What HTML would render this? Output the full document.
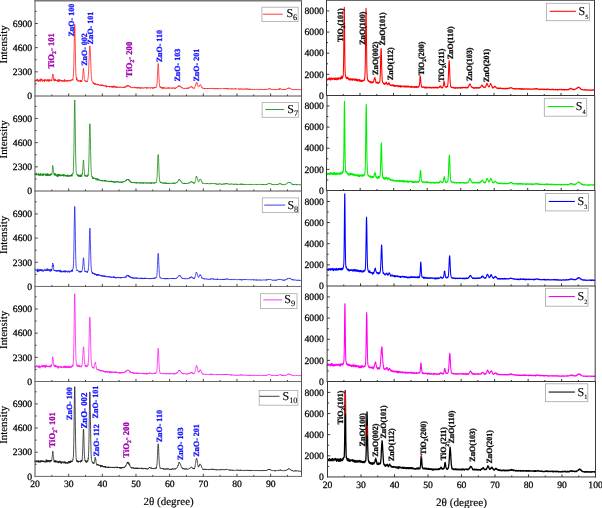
<!DOCTYPE html>
<html><head><meta charset="utf-8"><title>XRD</title>
<style>html,body{margin:0;padding:0;background:#fff}body{width:602px;height:508px;overflow:hidden;font-family:"Liberation Serif",serif}</style>
</head><body>
<svg width="602" height="508" viewBox="0 0 602 508" style="display:block;font-family:'Liberation Serif',serif;text-rendering:geometricPrecision">
<defs><filter id="soft" x="0" y="0" width="602" height="508" filterUnits="userSpaceOnUse"><feGaussianBlur stdDeviation="0.3"/></filter></defs>
<g filter="url(#soft)">
<rect width="602" height="508" fill="#fff"/>
<path d="M35 81.26l.13 .47 .14-1.13 .13-.46 .14 .61 .13-.61 .14 .91 .13 .24 .14-.47 .13-.57 .14 .29 .13 .15 .14-.8 .13 1.09 .13-1.84 .14 1.63 .13-.02 .14-.63 .13 .22 .14-1.24 .13 1.1 .14-.39 .13 1.21 .14 .3 .13-.9 .14 1.29 .13-.87 .14-.17 .13 .01 .13-.85 .14 .85 .13 .59 .14-1.09 .13 .16 .14-.35 .13 .95 .14-1.2 .13 .88 .14 .13 .13-1.75 .14 2.57 .13-1.69 .13 .75 .14 .16 .13-.79 .14-1.44 .13 1.72 .14-.27 .13-.02 .14 .04 .13-.03 .14 .11 .13-1.01 .14 .14 .13-.19 .14 2.45 .13-1.02 .13 .26 .14-.63 .13 1.19 .14-.71 .13-.26 .14 .17 .13 .45 .14-.73 .13 .02 .14 .3 .13-.38 .14-.05 .13-.3 .13-.27 .14 2.35 .13-2.18 .14 .9 .13-.81 .14 .51 .13-.34 .14-.59 .13 .16 .14 .36 .13 .94 .14-.25 .13-.22 .14 .26 .13-.12 .13-.72 .14 .5 .13 .93 .14 .06 .13-1.23 .14 .62 .13 .46 .14-1.43 .13 .62 .14-.99 .13 .42 .14 .6 .13-.08 .13-.55 .14 1.42 .13-.93 .14 .19 .13 1.27 .14-1.02 .13-.16 .14-1.21 .13 1.96 .14-1.47 .13 .13 .14 .43 .13-.49 .14 .36 .13-.25 .13 .03 .14 .04 .13 .33 .14-.29 .13-.37 .14 .9 .13-.74 .14 .82 .13-.63 .14 1.01 .13-.03 .14 .17 .13-.36 .13-2.63 .14 0 .13-.94 .14 .07 .13-1.46 .14-1.14 .13 .07 .14-.86 .13 1.76 .14-.42 .13 .32 .14 1.19 .13 2.79 .13 .68 .14-.2 .13-1.1 .14 2.03 .13-.19 .14-1.17 .13 1.55 .14-.54 .13-.09 .14 .02 .13-1.87 .14 1.04 .13 1.02 .14-.62 .13-.5 .13 .58 .14 .28 .13-.1 .14-.04 .13-.34 .14 .85 .13-.14 .14-.36 .13 .64 .14-.38 .13 .02 .14-.48 .13 1.3 .13-.07 .14-.53 .13-.02 .14-1.38 .13 1.45 .14 .88 .13-1.21 .14 .78 .13-.88 .14 .15 .13 .73 .14-.02 .13-2.04 .14 1.5 .13-.98 .13 .82 .14 .54 .13 .29 .14-1.75 .13 .42 .14-.35 .13 .77 .14-.34 .13 .8 .14-.48 .13 .41 .14-.51 .13 .09 .13 .31 .14 .19 .13 .24 .14-1.24 .13 1.59 .14-1.09 .13 .06 .14-.27 .13 .31 .14-.01 .13-.02 .14-.11 .13-.32 .14 .92 .13-.51 .13 .86 .14 .09 .13 .13 .14-.26 .13-1.09 .14 .41 .13 1.04 .14-.86 .13 .43 .14 .03 .13-2.07 .14 .75 .13 .74 .13-.09 .14-.41 .13 .94 .14 .19 .13-.46 .14 .1 .13-.47 .14-.06 .13-.25 .14 .84 .13-.34 .14-.1 .13-.63 .14 1.24 .13 .18 .13-.94 .14-.19 .13 .3 .14-.28 .13 .3 .14 .8 .13-.7 .14 .13 .13-.44 .14 .88 .13-.13 .14-.82 .13 .14 .13 .11 .14-.3 .13 .46 .14-.6 .13 .86 .14 .12 .13-.46 .14-.83 .13 .84 .14 .46 .13-.01 .14 .1 .13 .07 .13-.12 .14-.26 .13-.52 .14 .42 .13-.81 .14-.15 .13 .47 .14-.04 .13 0 .14-.08 .13-.74 .14 .8 .13-.18 .14-1.02 .13 .52 .13-.43 .14 .47 .13 .61 .14-.81 .13-1.74 .14-1 .13-.63 .14-3 .13-2.94 .14-3.36 .13-7.23 .14-6.53 .13-6.85 .13-8.45 .14-6.56 .13-4.58 .14-2.3 .13 3.61 .14 2.3 .13 8.4 .14 6.12 .13 8.08 .14 7.32 .13 6.24 .14 4.74 .13 2.13 .14 2.85 .13 .44 .13 1.4 .14 1.94 .13-2.38 .14 .94 .13 1.01 .14 .91 .13 0 .14-.89 .13 .07 .14-.04 .13 .51 .14 1.5 .13-.81 .13 .24 .14-.65 .13-.17 .14 .58 .13 .04 .14-.34 .13 .89 .14-.51 .13-.04 .14-.09 .13-.03 .14 .57 .13 .03 .14 .13 .13-.5 .13-.17 .14 .67 .13 .7 .14-1.67 .13 1.14 .14 .35 .13-1.3 .14 .76 .13 .22 .14-.75 .13-.48 .14 .48 .13 .95 .13-.3 .14-1.11 .13-.15 .14-.16 .13-.77 .14-.96 .13-1.45 .14-2.45 .13-.99 .14-1.73 .13-2.21 .14-.44 .13-.6 .14-.12 .13 2.61 .13 1.08 .14 .9 .13 2.92 .14 1.66 .13 1.05 .14 .92 .13 .58 .14 .98 .13-.33 .14 .2 .13-.48 .14 1.31 .13 .06 .13 .22 .14-.87 .13 .13 .14 .14 .13-.41 .14-.14 .13 .16 .14 .57 .13-.47 .14 .27 .13-.16 .14 .74 .13-.73 .13 .18 .14-.28 .13-.78 .14-.69 .13-.7 .14-.72 .13-.63 .14-1.8 .13-2.18 .14-2.19 .13-2.8 .14-2.63 .13-4.74 .14-2.81 .13-2.63 .13-3.54 .14-3.21 .13-.76 .14-2.43 .13 .33 .14 1.71 .13 1.34 .14 1.46 .13 5.09 .14 2.72 .13 3.89 .14 3.16 .13 3.07 .13 3.26 .14 2.65 .13 1.81 .14 1.86 .13 .63 .14 1.98 .13-.08 .14-.07 .13 .59 .14 .22 .13 .43 .14-.14 .13 .5 .14 .46 .13 .61 .13-.61 .14-.39 .13 1.27 .14-.21 .13-.35 .14 .44 .13 .5 .14-.05 .13-1.05 .14 .35 .13 1.08 .14-.74 .13 .3 .13 .45 .14-.65 .13-.69 .14 1.56 .13-.28 .14-.19 .13-.26 .14 .08 .13 .43 .14-.38 .13 .21 .14-.11 .13-.02 .14 .51 .13-.55 .13 .41 .14 .19 .13-.06 .14 .55 .13-.52 .14-.73 .13 1.32 .14-.68 .13 .52 .14-.96 .13 .88 .14-.54 .13 .12 .13-.04 .14 .67 .13-.3 .14 .32 .13 .08 .14 .43 .13-.59 .14-.18 .13 .51 .14-.2 .13-.2 .14 .17 .13-.35 .14-.25 .13 .22 .13 .26 .14 .9 .13-.1 .14-.65 .13-.56 .14 .57 .13 .34 .14 .43 .13-.69 .14-.31 .13 .31 .14-.61 .13 .6 .13 .44 .14-.97 .13 .26 .14 .85 .13 .06 .14-.67 .13-.21 .14 .93 .13-.63 .14 .59 .13-.28 .14 .11 .13 .19 .13 .48 .14-.55 .13-.36 .14-.13 .13 .11 .14 .21 .13 .61 .14 .11 .13-.17 .14-.08 .13 .09 .14-.5 .13-.76 .14 1.4 .13 .15 .13-.69 .14 .42 .13 1.02 .14-1.17 .13 .54 .14-.26 .13-.47 .14 .46 .13-.32 .14 .54 .13-.34 .14-.17 .13 .32 .13 .16 .14-.31 .13 .33 .14 .35 .13-.89 .14 .29 .13-.31 .14 .63 .13-.34 .14 .46 .13 .13 .14-.47 .13 .85 .14-.89 .13 .01 .13-.24 .14 .48 .13-.55 .14 .29 .13 .52 .14 .2 .13-.81 .14-.09 .13 .84 .14-.24 .13 .33 .14-.06 .13-.85 .13 .85 .14-.47 .13-.37 .14 1.02 .13-.96 .14 .07 .13 .34 .14 .65 .13-.49 .14 .63 .13-1.29 .14 0 .13 .33 .14 .11 .13-1 .13 1.7 .14-.73 .13 .26 .14-.77 .13 .86 .14 .39 .13-.04 .14-1.37 .13 .86 .14 .2 .13-.15 .14 .12 .13-.26 .13 .44 .14-.7 .13 .97 .14-.16 .13-.53 .14 .52 .13-.45 .14 .76 .13 .08 .14-1.09 .13 .64 .14-.22 .13 .7 .14-.85 .13 .15 .13 .03 .14 .16 .13-.21 .14 .1 .13-.07 .14 .23 .13 .27 .14-.58 .13-.25 .14 .08 .13-.03 .14 .75 .13-.5 .13 .47 .14 .01 .13-.42 .14 .1 .13 .28 .14-.3 .13 .18 .14-.18 .13-.29 .14 .44 .13-.4 .14 .37 .13 .24 .13-.35 .14 .21 .13-.03 .14 .33 .13-.62 .14 .65 .13-.24 .14 .16 .13-.09 .14-.1 .13 .07 .14-.01 .13-.28 .14-.45 .13 .39 .13 .2 .14 .12 .13-.03 .14 .48 .13-.77 .14 .14 .13-.26 .14 .05 .13 .48 .14-.71 .13 .41 .14 .48 .13-.36 .13-.41 .14-.13 .13-.29 .14 .21 .13 .86 .14-.37 .13-.59 .14 .47 .13-.63 .14 .03 .13-.36 .14 .8 .13-1.12 .14 .14 .13-.47 .13 .57 .14 .2 .13-.22 .14-.2 .13 .43 .14-.61 .13-.13 .14 .48 .13-.78 .14 .07 .13 .59 .14 .39 .13-1.17 .13-.01 .14 .39 .13 .37 .14 .48 .13-.4 .14-.12 .13 .48 .14 .21 .13 .26 .14-.19 .13-.34 .14 .21 .13 .72 .14 .15 .13-.71 .13 .7 .14 .15 .13-.31 .14-.29 .13 .46 .14 .28 .13 .24 .14-.13 .13 .12 .14-.13 .13 .2 .14-.18 .13 .07 .13-.42 .14 .24 .13 .43 .14-.04 .13-.34 .14-.16 .13 .28 .14 .15 .13-.51 .14-.14 .13 .34 .14 .2 .13 .3 .14-.36 .13-.27 .13-.34 .14 .04 .13-.31 .14 .87 .13-.58 .14 .54 .13 .16 .14-.2 .13 .46 .14-.52 .13 .45 .14-.25 .13 .09 .13-.4 .14 .14 .13-.2 .14 .79 .13-.3 .14-.01 .13-.35 .14 .18 .13 .07 .14-.04 .13-.72 .14 .99 .13-.4 .13 .91 .14-.52 .13-.27 .14-.34 .13 .53 .14-.31 .13 .11 .14-.03 .13-.47 .14 .6 .13-.27 .14 .17 .13 .54 .14-.29 .13-.43 .13 .34 .14 .33 .13-.3 .14-.11 .13 .73 .14-.79 .13-.21 .14 .1 .13 .32 .14-.18 .13-.4 .14 .72 .13-.25 .13-.13 .14 .45 .13 .17 .14-.12 .13-.49 .14 .29 .13-.31 .14 .21 .13 .12 .14-.09 .13 .06 .14 .27 .13-.66 .14 .13 .13 .09 .13-.12 .14 .26 .13 .29 .14-.48 .13 .36 .14-.26 .13-.06 .14-.33 .13 .17 .14-.03 .13 .34 .14-.38 .13 .12 .13-.26 .14 .35 .13-.12 .14-.28 .13 .44 .14-.27 .13 .17 .14 .45 .13 .43 .14-.9 .13 .4 .14-.58 .13 .5 .14 .19 .13-.61 .13 .12 .14 .29 .13-.43 .14 .22 .13 .03 .14 .2 .13-.34 .14-.2 .13 .17 .14-.09 .13 .2 .14 .48 .13-.11 .13-.5 .14 .01 .13 .22 .14-.14 .13 .25 .14-.33 .13 .2 .14 .04 .13 .5 .14-.24 .13-.06 .14-.04 .13-.11 .14-.32 .13 .31 .13-.23 .14 .11 .13-.13 .14 .24 .13-.59 .14 .44 .13-.04 .14 .37 .13-.49 .14 .1 .13 .36 .14-.22 .13-.01 .13 .63 .14-.46 .13-.46 .14 .75 .13-.23 .14-.15 .13-.42 .14 .65 .13-.57 .14-.24 .13 .65 .14-.07 .13-.7 .13 .5 .14 .22 .13-.33 .14-.06 .13 .14 .14-.21 .13-.27 .14-.36 .13 .58 .14-.23 .13-.03 .14 .33 .13-.38 .14 .03 .13-.49 .13-1.12 .14 .13 .13-1.8 .14-2.08 .13-1.56 .14-3.36 .13-2.65 .14-2.96 .13-2.55 .14-2.51 .13-1.29 .14-1.47 .13 .79 .13 2.13 .14 2.48 .13 2.85 .14 2.96 .13 3.18 .14 2.01 .13 2.54 .14 1.49 .13 1.38 .14 .75 .13 .85 .14-.38 .13 .94 .14-.2 .13-.02 .13-.69 .14 .72 .13 .46 .14 .06 .13-.3 .14 .34 .13-.6 .14 .81 .13-.78 .14 .63 .13 .25 .14-.35 .13 .86 .13-.92 .14 .64 .13-.7 .14 .04 .13 .35 .14 .01 .13-.7 .14 .65 .13-.41 .14 .04 .13 .76 .14-.25 .13-.66 .14 .75 .13-.44 .13 .25 .14 0 .13 .2 .14-.28 .13-.13 .14 .55 .13-.35 .14-.43 .13 .38 .14 .31 .13-.24 .14 .06 .13 .07 .13 .16 .14-.04 .13 .04 .14-.01 .13-.45 .14 .15 .13-.13 .14 .09 .13-.17 .14 .48 .13-.58 .14 .31 .13-.06 .14 .22 .13 .21 .13-.62 .14 .62 .13-.63 .14-.18 .13 .34 .14 .31 .13-.44 .14-.23 .13-.07 .14 .46 .13 .08 .14 .32 .13-.71 .13 .18 .14 .17 .13-.18 .14 .43 .13 .05 .14-.03 .13-.24 .14-.09 .13-.09 .14 .07 .13 .22 .14-.3 .13 .19 .13-.15 .14 .34 .13 .19 .14-.7 .13 .62 .14-.01 .13-.29 .14 .17 .13-.33 .14 .35 .13-.53 .14 .26 .13 .14 .14-.03 .13 .01 .13-.33 .14 .38 .13-.11 .14-.17 .13 .07 .14 .36 .13-.12 .14-.27 .13 .19 .14 .33 .13-.47 .14 .47 .13-.05 .13-.71 .14 .59 .13 .49 .14-.64 .13-.23 .14 .25 .13-.14 .14-.24 .13-.14 .14 .43 .13-.38 .14 .15 .13-.47 .14-.4 .13 .25 .13-.21 .14-.25 .13 .2 .14-.42 .13 .32 .14-.05 .13-.19 .14-.51 .13-.27 .14 .63 .13 .09 .14-.68 .13 .26 .13-.54 .14 .54 .13-.08 .14 .29 .13-.52 .14 .33 .13 .39 .14-.29 .13-.02 .14-.05 .13 .61 .14-.52 .13 .43 .14 .18 .13 .39 .13-.34 .14 .15 .13 .38 .14-.18 .13 .42 .14-.4 .13 .53 .14-.31 .13 .69 .14-.33 .13-.11 .14 .11 .13 .2 .13 .05 .14-.01 .13 .07 .14 .33 .13-.43 .14-.01 .13 .28 .14-.11 .13 .11 .14-.07 .13-.19 .14 .23 .13 .2 .14 .12 .13-.22 .13-.29 .14-.07 .13 .5 .14-.71 .13 .26 .14 .23 .13-.13 .14-.24 .13 .17 .14 .61 .13-.35 .14 .12 .13-.25 .13 .07 .14-.36 .13 .08 .14 .19 .13-.28 .14 .49 .13-.74 .14 .09 .13 .5 .14 .06 .13-.19 .14 .1 .13-.59 .13 .48 .14-.2 .13 .52 .14-.45 .13-.08 .14-.08 .13 .22 .14-.47 .13 .07 .14 .23 .13-.29 .14-.26 .13 .19 .14-.48 .13 .11 .13 .04 .14 .07 .13-.56 .14-.57 .13 .15 .14-.08 .13 .23 .14 .02 .13 .52 .14-.11 .13-.06 .14 .47 .13-.13 .13-.45 .14 .77 .13-.15 .14 0 .13-.07 .14 .96 .13-.54 .14 .26 .13 .06 .14-.13 .13 .12 .14 .12 .13 .32 .14-.31 .13 .26 .13 .23 .14-.66 .13-.19 .14-.36 .13-.08 .14 .2 .13-.32 .14-.38 .13-.59 .14-.76 .13 .17 .14-.53 .13-1.14 .13 .21 .14-.38 .13-.81 .14-.2 .13-.48 .14 .17 .13-.09 .14-.18 .13 .58 .14 .31 .13 .95 .14-.38 .13 .73 .14 .88 .13 .24 .13 .04 .14 .89 .13 .2 .14-.05 .13 .29 .14-.05 .13-.12 .14-.18 .13-.22 .14 .19 .13-.34 .14-.48 .13 .04 .13-.59 .14-.25 .13 .01 .14-.13 .13-.11 .14-.13 .13 .04 .14 .63 .13-.22 .14 .23 .13 .66 .14-.04 .13 .29 .14 .31 .13-.2 .13 .4 .14 .83 .13 .45 .14-.34 .13 .19 .14 .24 .13-.28 .14 .63 .13-.21 .14-.16 .13 .38 .14-.1 .13 .05 .13-.26 .14 .27 .13-.23 .14 .15 .13 .03 .14 .33 .13 .11 .14-.6 .13 .74 .14-.74 .13 .53 .14-.07 .13 .2 .13-.47 .14 .56 .13-.69 .14 .13 .13 .35 .14-.21 .13 .13 .14-.19 .13 .26 .14 .2 .13-.16 .14 .07 .13-.23 .14 .18 .13-.28 .13 .24 .14 .04 .13 .11 .14-.8 .13 .55 .14 .37 .13-.46 .14-.29 .13 .23 .14-.22 .13 .28 .14-.02 .13 .05 .13-.23 .14 .41 .13 .01 .14-.4 .13 .2 .14 .3 .13-.42 .14 .19 .13 .13 .14-.11 .13 .31 .14-.48 .13 .1 .14 .1 .13 .1 .13-.38 .14-.32 .13 .61 .14 .07 .13-.34 .14-.12 .13 .03 .14-.12 .13 .12 .14-.28 .13 .59 .14-.19 .13 .05 .13 .22 .14-.13 .13 .06 .14 .18 .13-.75 .14 .53 .13-.43 .14 .27 .13 .18 .14 .1 .13-.24 .14 .3 .13-.22 .14 .38 .13-.41 .13 .42 .14-.38 .13-.08 .14 .61 .13-.35 .14 .16 .13-.15 .14 .42 .13-.38 .14-.1 .13-.12 .14 .1 .13-.36 .13 .34 .14-.06 .13 .15 .14 .01 .13-.26 .14 .53 .13-.65 .14 .52 .13-.06 .14-.63 .13 .73 .14-.18 .13 .44 .14-.4 .13-.05 .13 .23 .14-.02 .13-.26 .14-.08 .13 .29 .14-.13 .13 .03 .14 .05 .13 .12 .14-.13 .13 .02 .14 .02 .13-.19 .13 .36 .14-.51 .13-.01 .14 .32 .13 .01 .14-.2 .13 .13 .14 .06 .13-.04 .14-.18 .13 .19 .14-.39 .13 .14 .13 .13 .14-.06 .13 .19 .14-.15 .13 .12 .14-.03 .13-.14 .14-.12 .13 .18 .14-.17 .13 .08 .14-.06 .13 .23 .14-.35 .13 .2 .13-.27 .14 .52 .13-.53 .14 .38 .13 .02 .14 0 .13 .01 .14 .08 .13-.05 .14 0 .13-.28 .14 .52 .13-.58 .13 .46 .14-.1 .13-.43 .14 .02 .13 .63 .14-.5 .13 .3 .14 0 .13 .34 .14-.37 .13-.32 .14 .13 .13-.14 .14 .56 .13 .12 .13-.44 .14-.38 .13 .88 .14-.44 .13-.2 .14 .44 .13-.3 .14 .2 .13-.09 .14 .09 .13 .19 .14 .15 .13-.02 .13-.27 .14 .12 .13-.3 .14-.1 .13 .12 .14 .37 .13 .01 .14-.42 .13 .04 .14 .12 .13 .15 .14 .16 .13 .08 .14-.73 .13 .52 .13-.03 .14-.14 .13-.33 .14 .44 .13-.26 .14 .18 .13-.34 .14 .49 .13 .16 .14-.33 .13-.02 .14-.06 .13-.11 .13 .11 .14 .03 .13 .33 .14-.03 .13-.03 .14-.31 .13 .11 .14-.13 .13-.1 .14 .02 .13 .37 .14-.14 .13-.41 .14 .59 .13-.12 .13-.4 .14 .45 .13-.48 .14 .18 .13 .18 .14 .33 .13-.33 .14 .03 .13-.05 .14 0 .13 .03 .14-.11 .13-.05 .13-.13 .14 .18 .13 .03 .14 .21 .13-.04 .14-.16 .13-.14 .14-.09 .13 .27 .14-.16 .13 .02 .14 .58 .13-.08 .13 .04 .14-.52 .13 .47 .14-.08 .13-.26 .14-.04 .13 .28 .14 .32 .13-.75 .14 .18 .13 .17 .14-.12 .13-.13 .14-.09 .13 .15 .13-.29 .14 .2 .13 .33 .14-.42 .13 .65 .14-.09 .13-.5 .14 .17 .13 .32 .14-.19 .13-.02 .14 .15 .13 .08 .13-.07 .14-.42 .13 .32 .14-.22 .13 .27 .14-.24 .13 .02 .14 .17 .13 .07 .14-.08 .13-.18 .14 .41 .13-.26 .14 .29 .13-.3 .13-.27 .14 .18 .13 .08 .14 .22 .13-.65 .14 .38 .13-.02 .14 .23 .13-.21 .14 .19 .13 .01 .14-.32 .13-.25 .13 .18 .14 .26 .13-.32 .14 .38 .13-.22 .14-.08 .13 .44 .14-.58 .13 .25 .14 .38 .13-.35 .14 .36 .13-.39 .14 .14 .13 .08 .13 .21 .14-.5 .13 .68 .14-.33 .13-.05 .14-.06 .13 0 .14 0 .13-.2 .14 .41 .13-.5 .14 .57 .13-.22 .13 .26 .14-.46 .13 .61 .14-.34 .13-.05 .14 0 .13 .03 .14 .01 .13-.03 .14 .09 .13-.13 .14 .29 .13 .07 .14 .11 .13-.6 .13 .21 .14 .23 .13-.38 .14 .16 .13 .13 .14-.29 .13 .53 .14-.18 .13 .15 .14-.16 .13 .03 .14-.2 .13 .19 .13-.35 .14 .52 .13-.51 .14 .31 .13 .02 .14 .01 .13-.22 .14 .11 .13 .03 .14 .03 .13-.16 .14 .08 .13-.04 .13 .16 .14-.26 .13 .3 .14-.3 .13-.01 .14 .11 .13-.08 .14 .13 .13-.1 .14 .09 .13-.25 .14 0 .13 .11 .14 .16 .13-.24 .13 0 .14 .2 .13 .15 .14-.43 .13 .18 .14 .04 .13 .18 .14-.39 .13 .49 .14-.17 .13-.07 .14-.23 .13 .5 .13-.51 .14 .34 .13-.3 .14 .26 .13-.22 .14 .26 .13-.02 .14 .25 .13-.49 .14-.04 .13-.1 .14 .03 .13 .18 .14-.21 .13 .22 .13-.04 .14 .19 .13 .03 .14 .2 .13-.54 .14 .37 .13 .21 .14-.27 .13 .59 .14-.31 .13-.06 .14-.17 .13-.05 .13 .35 .14-.36 .13 .24 .14-.3 .13 .25 .14-.11 .13 .12 .14 .05 .13-.3 .14 .28 .13 0 .14-.5 .13 .08 .14 .31 .13-.14 .13-.37 .14 .08 .13 .32 .14-.13 .13-.11 .14 .13 .13 .4 .14-.4 .13 .13 .14-.34 .13-.13 .14 .42 .13-.2 .13-.04 .14-.13 .13 .24 .14 .2 .13-.33 .14 .25 .13-.1 .14-.11 .13-.04 .14-.11 .13 0 .14 .14 .13 .16 .14-.49 .13-.13 .13 .07 .14 .37 .13-.18 .14-.12 .13 .27 .14-.35 .13 .39 .14-.58 .13 .54 .14-.11 .13 .11 .14-.12 .13 .09 .13 .14 .14-.07 .13 .35 .14-.2 .13-.25 .14 .36 .13-.16 .14-.04 .13 .23 .14-.01 .13-.19 .14 .04 .13 .08 .13 .27 .14-.19 .13 .2 .14 .16 .13-.6 .14 .25 .13 .18 .14-.03 .13-.09 .14-.14 .13 .08 .14 .25 .13-.26 .14 .05 .13-.19 .13 .34 .14-.17 .13 .12 .14 .34 .13-.28 .14-.36 .13 .28 .14-.3 .13 .62 .14-.07 .13-.41 .14-.01 .13 .29 .13 .08 .14 .01 .13-.32 .14 .02 .13-.31 .14 .36 .13-.34 .14 .17 .13-.02 .14-.04 .13 .15 .14 .09 .13-.42 .14 .54 .13-.01 .13-.37 .14-.19 .13 .27 .14-.38 .13 0 .14 .11 .13 .28 .14-.28 .13-.29 .14 .63 .13-.87 .14 .69 .13-.64 .13 .29 .14-.22 .13 .05 .14 .06 .13 .36 .14-.23 .13 .31 .14-.16 .13 .04 .14 .57 .13-.38 .14 .09 .13-.07 .14 .15 .13-.19 .13 .31 .14-.19 .13 .06 .14-.09 .13-.02 .14 .15 .13-.06 .14-.13 .13 .62 .14-.39 .13-.21 .14 .56 .13-.15 .13-.37 .14 .1 .13-.25 .14 .37 .13 .49 .14-.75 .13 .55 .14-.73 .13 .29 .14-.1 .13 .46 .14-.24 .13 .02 .14-.32 .13 .1 .13 .4 .14-.17 .13-.24 .14-.24 .13-.1 .14-.13 .13 .25 .14-.06 .13-.23 .14-.18 .13 .33 .14-.1 .13-.19 .13-.43 .14 .17 .13-.15 .14 .34 .13-.58 .14 .27 .13-.09 .14-.28 .13 .33 .14-.33 .13-.01 .14 .32 .13-.24 .13 .13 .14 .19 .13-.4 .14 .33 .13-.2 .14-.06 .13 .6 .14-.22 .13-.03 .14 .23 .13 .19 .14-.12 .13-.1 .14 .17 .13 .42 .13 .13 .14-.14 .13-.1 .14 .34 .13-.03 .14 .08 .13 .2 .14-.28 .13 .4 .14-.25 .13 .22 .14-.36 .13 .33 .13-.24 .14 .29 .13 .11 .14 .19 .13-.44 .14 .21 .13 .04 .14-.35 .13 .08 .14-.03 .13 .13 .14 .02 .13 .05 .14-.19 .13 .12 .13 .05 .14 .21 .13-.25 .14-.3 .13 .68 .14-.18 .13-.12 .14-.25 .13 .35 .14 .08 .13-.19 .14-.2 .13 .35 .13 0 .14-.29 .13 .26 .14-.17 .13 .28 .14 .14 .13-.55 .14 .01 .13-.03 .14 .26 .13-.09 .14 .08 .13-.12 .14-.18 .13 .36 .13-.1 .14-.03 .13-.24 .14 .27 .13-.06 .14-.17 .13 .39 .14-.3 .13 .37 .14-.19 .13 .06 .14-.14 .13 .17 .13-.03 .14-.08 .13 .15 .14 .03 .13-.06 .14 .17 .13-.12" fill="none" stroke="#ff1a1a" stroke-width="0.78" stroke-linejoin="round"/>
<path d="M35 174.85l.13-1.08 .14 .37 .13 .67 .14-1.22 .13 .53 .14-.09 .13 .73 .14 .17 .13-2.16 .14 1.37 .13 .65 .14 .44 .13-.64 .13-.07 .14 .67 .13-.76 .14 .41 .13-.66 .14 .47 .13-.27 .14 .08 .13 .21 .14-.1 .13-1.02 .14 .51 .13-.46 .14 1.68 .13 .11 .13-.95 .14 .16 .13 .59 .14 .15 .13-1.15 .14 .19 .13 1.19 .14-1.86 .13 .19 .14 .43 .13 .68 .14 .74 .13-2.17 .13-.08 .14 1.41 .13-.94 .14 .14 .13-.18 .14 .38 .13 .02 .14 .23 .13 .15 .14 .57 .13 .49 .14-2.15 .13 .31 .14-.09 .13 1.32 .13 .18 .14-.75 .13-.32 .14 1.33 .13 .26 .14-1.17 .13 .3 .14-.97 .13 1.35 .14-1.94 .13 .41 .14 .5 .13 .28 .13-.13 .14 .17 .13-.24 .14 .25 .13 .07 .14 .12 .13 .23 .14-.9 .13 .56 .14-.01 .13 1.05 .14-.47 .13-1.81 .14 1.2 .13 .54 .13-1.04 .14 1.91 .13-.73 .14-1.01 .13-.43 .14 .92 .13-.53 .14 1.37 .13-.19 .14-1.96 .13 2.2 .14-2.09 .13 .98 .13-.18 .14 .9 .13-.05 .14 .12 .13-.96 .14 .46 .13 .64 .14-.65 .13-.4 .14 .88 .13-.64 .14-.37 .13 1.68 .14-1.39 .13-.87 .13 .77 .14 .1 .13 .09 .14 .54 .13-.52 .14-1.13 .13 .83 .14-.28 .13 .61 .14 .13 .13-.94 .14 .6 .13-.3 .13-1.04 .14 .15 .13-2.13 .14-1.69 .13-2.28 .14-1.99 .13 .83 .14 .61 .13 0 .14 1.07 .13 1.48 .14 .46 .13 1.75 .13 1.06 .14 1.1 .13-.04 .14 1.18 .13-.42 .14-.58 .13-.35 .14 1.25 .13-.41 .14 1.36 .13-.59 .14-.71 .13-1.1 .14 1.81 .13-.91 .13 1.04 .14-.02 .13-.47 .14-.09 .13 .79 .14-.54 .13-.1 .14 .49 .13 1.24 .14-1.08 .13-.44 .14 .66 .13-1.71 .13 1.4 .14-.39 .13-.5 .14 1.98 .13-1.61 .14 2.04 .13-2.04 .14 .47 .13 .55 .14-.73 .13-.88 .14 .73 .13-.95 .14 .77 .13 .95 .13-.86 .14-.58 .13 1.57 .14-1.56 .13 1.25 .14-.73 .13 .34 .14 .64 .13 .41 .14-.84 .13 .38 .14 .07 .13-.61 .13-.14 .14 1.04 .13-.35 .14-.5 .13-.6 .14 1.24 .13 .1 .14-.96 .13 .27 .14 .35 .13 .27 .14-1.46 .13 1.11 .14-.95 .13 .97 .13-.02 .14-1.29 .13 .55 .14 .97 .13 .65 .14-.86 .13 .5 .14-.42 .13 .39 .14-.83 .13-.12 .14 .32 .13-1.04 .13 .98 .14 .48 .13 .17 .14-.78 .13 .52 .14 .46 .13-.14 .14-.39 .13 .1 .14-.11 .13-.3 .14 .79 .13-.7 .14-.22 .13-.16 .13 1.59 .14-.44 .13-.83 .14-.74 .13 1.38 .14-1.07 .13 .99 .14 .94 .13-1.24 .14-.2 .13-.15 .14 .12 .13 .23 .13-.01 .14-.77 .13 1.32 .14 .56 .13-1.1 .14-.03 .13-.36 .14 .51 .13-.73 .14 1.35 .13-1.11 .14 .58 .13-.78 .13 .89 .14 .15 .13-.62 .14 .4 .13-.88 .14-.29 .13 .8 .14-1.23 .13 1.79 .14-.57 .13-.71 .14 1.52 .13-.78 .14-.54 .13-.66 .13-.64 .14 .44 .13-.28 .14-.92 .13 .39 .14-1.68 .13-2.53 .14-2.51 .13-5.81 .14-3.87 .13-7.64 .14-10.75 .13-9.43 .13-11.5 .14-8.1 .13-7.03 .14-2.55 .13 2.64 .14 5.69 .13 10.05 .14 8.85 .13 9.77 .14 10.39 .13 7.31 .14 7.33 .13 4.07 .14 2.44 .13 3.35 .13 .65 .14 .84 .13-.13 .14 .57 .13 .93 .14-.08 .13 .21 .14-.52 .13 .19 .14 1.24 .13-.26 .14 .41 .13-.96 .13-.52 .14 1.69 .13-.21 .14-.07 .13 .77 .14-1.47 .13 .97 .14-.72 .13-.01 .14 .82 .13-1.18 .14 .54 .13-.26 .14 1.27 .13-.69 .13 .86 .14-2.04 .13 1.25 .14 .39 .13 .39 .14-2 .13 .48 .14 1.31 .13-.76 .14 .31 .13-1 .14 .44 .13 1.08 .13-1.37 .14-.64 .13 .03 .14-1.1 .13 .77 .14-2.69 .13 0 .14-3.48 .13-1.02 .14-2.48 .13-2.07 .14-2.63 .13 .42 .14 .09 .13 2.25 .13 2.63 .14 2.03 .13 2.64 .14 .07 .13 2.6 .14 .38 .13 2.25 .14-.19 .13 1.15 .14-.63 .13 .16 .14 .6 .13-1.42 .13 .79 .14 .03 .13 .39 .14-.09 .13-.52 .14 .05 .13 .6 .14-.34 .13-.05 .14 .64 .13-.4 .14-.41 .13 .41 .13 .65 .14-.73 .13-.7 .14 .19 .13 .34 .14-1.3 .13 .81 .14-2.77 .13-.39 .14-3.12 .13-2.86 .14-4.95 .13-4.34 .14-6.35 .13-7.32 .13-6.62 .14-5.18 .13-4.57 .14-3.06 .13 .07 .14 1.34 .13 5.19 .14 6.56 .13 7.32 .14 7.12 .13 5.63 .14 5.78 .13 3.93 .13 3.35 .14 2.13 .13 1.67 .14 .85 .13 .83 .14 .38 .13 1.18 .14-.53 .13-.06 .14 .79 .13 .15 .14-.29 .13 1.71 .14-1.87 .13 .75 .13 .71 .14-.88 .13 .27 .14 .54 .13-.31 .14-.01 .13-.2 .14 .07 .13 .44 .14 .52 .13-.58 .14-.2 .13 .12 .13-.19 .14 .09 .13 .04 .14 1.02 .13-.22 .14-.37 .13 .74 .14-1.28 .13 1.07 .14 .24 .13-.05 .14 .2 .13-.01 .14 .15 .13 .56 .13-.38 .14-1.45 .13 .99 .14-.96 .13 1.36 .14 .34 .13-.35 .14-1.04 .13 .39 .14 1.1 .13-.88 .14 .19 .13-.18 .13 .22 .14-.07 .13 .52 .14-.12 .13 .67 .14-.38 .13-.14 .14-.47 .13 .46 .14-.17 .13 .08 .14 .67 .13-.01 .14 .43 .13-1 .13 .18 .14 .2 .13 .07 .14 .22 .13-.35 .14 .05 .13 .24 .14-.01 .13-.03 .14 .58 .13-1.19 .14 .3 .13-.29 .13 1.15 .14-.75 .13 .03 .14 .37 .13-.59 .14 .56 .13 .27 .14-.19 .13 .24 .14-.35 .13 .21 .14 .11 .13-.31 .13-.46 .14 0 .13 .27 .14-.39 .13 1.11 .14-.39 .13-.19 .14 .1 .13-.72 .14 1.58 .13-.45 .14-1.1 .13 .8 .14 .15 .13 .07 .13-.51 .14-.1 .13 .25 .14 .37 .13-.03 .14 .21 .13 .02 .14-.27 .13-.1 .14-.25 .13 .05 .14 .32 .13 .51 .13-.28 .14 .29 .13-.4 .14 .65 .13-.74 .14 .43 .13 .29 .14-1.06 .13 .27 .14 .31 .13-.12 .14 .05 .13 .53 .14-.68 .13 .93 .13-.09 .14-.89 .13-.18 .14 .94 .13-.04 .14-.48 .13 .17 .14 .5 .13-1.16 .14 .74 .13-.81 .14 .76 .13-.43 .13 .78 .14-.03 .13 .29 .14-.83 .13 .53 .14-.15 .13-.07 .14 .13 .13-.01 .14-.61 .13 .98 .14-.5 .13-.61 .14 .97 .13 .17 .13-.42 .14 .84 .13-.48 .14-.18 .13 .57 .14-.92 .13 .12 .14 .01 .13 .12 .14-.41 .13 .55 .14 .58 .13-.74 .13-.2 .14 .84 .13-.63 .14-.03 .13-.06 .14 .09 .13-.1 .14-.59 .13 .8 .14-.05 .13-.35 .14-.09 .13 .34 .14-.42 .13 .34 .13 .45 .14-.56 .13 .14 .14-.23 .13 .84 .14-.59 .13 .6 .14-.08 .13-.46 .14 .06 .13-.14 .14 .43 .13-.12 .13 .55 .14-.13 .13-.43 .14-.21 .13 .35 .14-.07 .13 .23 .14 .05 .13-.45 .14 .1 .13-.06 .14 .42 .13-.69 .13 .64 .14-.14 .13 .59 .14-.6 .13-.16 .14 .17 .13-.54 .14 .44 .13 .94 .14-.71 .13-.62 .14 .27 .13-.3 .14 .13 .13 .23 .13-.29 .14 .06 .13 .27 .14 .16 .13-.32 .14-.23 .13 .01 .14-.45 .13 .51 .14-.5 .13-.25 .14 .32 .13 .33 .13 .03 .14-.2 .13-.43 .14 .16 .13-.51 .14 .3 .13-.08 .14-.09 .13-.3 .14-.34 .13 .89 .14-.89 .13 .25 .14-.13 .13-1.12 .13 .38 .14 .52 .13-.32 .14-.62 .13 .18 .14-.2 .13 .16 .14 .01 .13 .14 .14 .15 .13-.31 .14-.29 .13 .37 .13 .42 .14-.63 .13 1.31 .14-.2 .13-.47 .14-.14 .13 .68 .14 .65 .13-.23 .14 .68 .13-.58 .14 .33 .13 .29 .14-.42 .13 .35 .13-.08 .14 .99 .13-.67 .14 .08 .13 .77 .14-.54 .13 .22 .14 .04 .13-.27 .14 .16 .13 .34 .14-.39 .13 .92 .13-.37 .14-.14 .13-.21 .14 .51 .13-.31 .14-.17 .13 .8 .14-.23 .13-.2 .14-.3 .13-.17 .14 .66 .13-.31 .14 .28 .13-.74 .13 .53 .14 .48 .13-.32 .14-.32 .13 .05 .14 .38 .13 .24 .14-.32 .13 .37 .14-.71 .13-.15 .14 .28 .13 .31 .13 .13 .14-.46 .13 .16 .14-.12 .13 .87 .14-.78 .13-.27 .14 .31 .13 .32 .14-.48 .13 .45 .14-.05 .13-.73 .13 .6 .14 .09 .13 .22 .14-.03 .13-.24 .14-.3 .13 .58 .14-.45 .13 .07 .14 .23 .13 .01 .14-.35 .13 .25 .14 .23 .13-.29 .13-.4 .14 .83 .13 .19 .14-.73 .13 .36 .14 .01 .13-.02 .14-.06 .13-.22 .14 .07 .13-.34 .14 .48 .13-.54 .13 .69 .14 .12 .13-.21 .14 .08 .13 .21 .14-.34 .13-.02 .14-.38 .13 .5 .14-.08 .13-.44 .14 .89 .13-.87 .14 .48 .13 .13 .13-.57 .14 .35 .13-.08 .14-.49 .13-.04 .14 .21 .13 .04 .14 .01 .13-.13 .14 .27 .13 .52 .14-.59 .13-.26 .13 .58 .14-.44 .13 .18 .14 .29 .13 .14 .14-.11 .13 .26 .14-.44 .13 .09 .14 .37 .13-.44 .14-.22 .13 .3 .14 .32 .13-.69 .13 .19 .14 .07 .13-.3 .14 .12 .13 .01 .14-.29 .13 .42 .14 .62 .13-.74 .14 .24 .13-.01 .14-.27 .13 .14 .13 .23 .14-.06 .13-.04 .14-.25 .13-.08 .14 .73 .13-.2 .14-.22 .13 .33 .14-.79 .13 .2 .14-.01 .13 .25 .14-.14 .13 .69 .13-1.02 .14 1.15 .13-.83 .14 .13 .13-.02 .14-.22 .13 .23 .14-.33 .13 .53 .14 .1 .13-.11 .14 .04 .13-.06 .13 .18 .14-.67 .13 .18 .14 .1 .13 .22 .14-.52 .13 .48 .14 .25 .13 .03 .14-.53 .13-.13 .14 .6 .13-.49 .13-.26 .14 .21 .13-.2 .14 .6 .13-.54 .14-.1 .13 .1 .14 .41 .13-.76 .14 .12 .13 .28 .14-.61 .13-.02 .14 .08 .13-.33 .13-1.57 .14-1.34 .13-.59 .14-2.07 .13-2.81 .14-3.53 .13-3.71 .14-4.62 .13-2.66 .14-3.08 .13-.89 .14-.27 .13-.08 .13 2.7 .14 1.57 .13 3.3 .14 4.34 .13 4.23 .14 3.12 .13 1.88 .14 1.98 .13 1.56 .14 1.81 .13 .38 .14 .49 .13-.3 .14 .37 .13 .67 .13-.64 .14 .7 .13 .01 .14-.14 .13 .24 .14 .2 .13-.69 .14 .24 .13 .36 .14-.59 .13 .43 .14 .23 .13 .18 .13-.14 .14 .09 .13-.32 .14 .34 .13 .08 .14-.44 .13 .43 .14 .01 .13-.42 .14 .42 .13-.15 .14-.3 .13-.2 .14 .63 .13-.34 .13 .28 .14-.03 .13 .34 .14-.7 .13 .25 .14 .26 .13-.12 .14-.7 .13 .39 .14 .39 .13-.4 .14 .51 .13-.33 .13 .02 .14 .2 .13 .03 .14-.5 .13 .86 .14-.75 .13 .82 .14-.4 .13 .03 .14-.38 .13 .66 .14-.21 .13 .33 .14-.27 .13-.16 .13-.08 .14-.31 .13 .64 .14-.24 .13-.46 .14 .74 .13-.04 .14-.07 .13-.38 .14 .17 .13-.36 .14 .22 .13 .36 .13-.28 .14 .22 .13 .01 .14-.54 .13 .06 .14 .18 .13 .03 .14-.15 .13 .16 .14-.35 .13 .6 .14-.27 .13 .01 .13 .32 .14-.34 .13 .2 .14-.06 .13-.13 .14 .16 .13-.04 .14 .38 .13-.49 .14 .37 .13-.21 .14 .22 .13 .13 .14-.62 .13-.58 .13 .83 .14-.32 .13 .18 .14 .12 .13-.34 .14 .34 .13-.24 .14-.22 .13 .61 .14-.56 .13 .66 .14 0 .13-.34 .13-.24 .14 .01 .13 .21 .14-.38 .13 .3 .14-.02 .13-.28 .14-.27 .13 .13 .14-.22 .13 .02 .14 .58 .13-.49 .14 .05 .13-.25 .13-.43 .14 .01 .13-.46 .14 .34 .13-.31 .14-.41 .13-.15 .14-.34 .13-.54 .14 .36 .13 .18 .14-.46 .13-.54 .13-.42 .14 .7 .13-.42 .14 .21 .13 0 .14 .28 .13 .2 .14-.32 .13 .54 .14 .13 .13 .25 .14-.25 .13 .69 .14-.11 .13 .28 .13 .17 .14-.21 .13 .3 .14 .68 .13-.16 .14 .61 .13-.36 .14 .45 .13 .13 .14-.08 .13 .24 .14 .17 .13-.24 .13 .45 .14-.26 .13 .03 .14-.02 .13-.3 .14 .54 .13-.51 .14 .2 .13 .14 .14-.05 .13-.4 .14 .26 .13 .51 .14-.69 .13 .77 .13-.73 .14 .34 .13-.18 .14 .19 .13 .38 .14-.52 .13 .2 .14-.03 .13-.27 .14-.16 .13 .47 .14 .23 .13-.34 .13 .49 .14-.34 .13-.39 .14 .14 .13-.07 .14-.11 .13-.06 .14 .26 .13-.15 .14 .22 .13 .03 .14-.13 .13 .22 .13-.07 .14-.29 .13-.14 .14 .4 .13-.41 .14-.12 .13 .02 .14 .08 .13 .21 .14-.72 .13 .39 .14-.32 .13 .37 .14-.46 .13 .01 .13-.19 .14-.53 .13 .02 .14-.27 .13 .15 .14 .38 .13-.1 .14-.14 .13 .16 .14-.29 .13 .69 .14-.12 .13-.31 .13-.03 .14 .09 .13 .66 .14-.18 .13 .36 .14-.08 .13-.03 .14 .37 .13-.04 .14-.39 .13 .4 .14 .14 .13-.12 .14-.09 .13 .78 .13-.54 .14-.52 .13 .43 .14-.34 .13 .19 .14-.29 .13-.37 .14-.72 .13-.38 .14-.5 .13-.61 .14-.57 .13-.79 .13-.81 .14-.7 .13 .05 .14-1.11 .13 .41 .14-.39 .13 .59 .14-.04 .13 .97 .14 .01 .13 .63 .14 .02 .13 .88 .14 .2 .13 1.01 .13 .53 .14-.11 .13 .5 .14 .01 .13 .43 .14-.17 .13-.2 .14-.13 .13-.2 .14 .16 .13-.75 .14-.69 .13 .09 .13-.38 .14-.02 .13 .41 .14-.53 .13-.08 .14-.12 .13 .27 .14 .37 .13-.13 .14 .28 .13-.02 .14 .26 .13 .48 .14-.1 .13 .9 .13 .38 .14-.31 .13 .68 .14 .49 .13 .04 .14 .22 .13 .28 .14-.42 .13 .56 .14-.22 .13 .41 .14-.27 .13-.11 .13 .24 .14-.15 .13 .24 .14-.19 .13 .13 .14 .03 .13 .05 .14 0 .13-.23 .14 .07 .13-.09 .14 .17 .13-.17 .13 .29 .14 .14 .13 0 .14 .17 .13 .05 .14-.56 .13 .05 .14 .04 .13 .59 .14-.34 .13-.02 .14-.2 .13 .25 .14-.29 .13 .36 .13-.48 .14-.19 .13 .75 .14-.08 .13-.2 .14 .05 .13-.01 .14-.07 .13 .21 .14 .08 .13-.15 .14-.15 .13 .42 .13-.03 .14 .03 .13-.1 .14-.28 .13 .08 .14 .17 .13-.18 .14-.12 .13 .23 .14-.1 .13-.01 .14 .42 .13-.65 .14 .09 .13-.19 .13 .12 .14-.24 .13 .45 .14-.38 .13 .24 .14-.12 .13-.09 .14 .15 .13-.24 .14 .29 .13-.15 .14 .13 .13-.02 .13-.2 .14 .43 .13 .02 .14-.26 .13-.05 .14 .26 .13-.22 .14-.11 .13-.14 .14 .5 .13-.19 .14 .14 .13 .02 .14 .19 .13 .26 .13-.34 .14 .2 .13 .05 .14-.09 .13-.4 .14 .17 .13 .31 .14-.46 .13 .45 .14 .02 .13-.19 .14 .16 .13-.16 .13 .47 .14-.01 .13-.57 .14 .46 .13-.02 .14-.1 .13-.15 .14 .05 .13-.21 .14 .33 .13 .59 .14-.62 .13 .09 .14 .05 .13 .06 .13 .03 .14-.46 .13-.13 .14 .02 .13 .49 .14-.06 .13-.03 .14-.24 .13-.09 .14 .09 .13-.28 .14 .43 .13-.15 .13 .15 .14 .09 .13-.11 .14 0 .13-.38 .14 .67 .13-.32 .14 .26 .13-.31 .14 .07 .13 .28 .14-.33 .13 .18 .13 .07 .14 .1 .13-.21 .14 .18 .13-.28 .14 .08 .13 .13 .14-.22 .13 .12 .14-.51 .13 .56 .14-.18 .13-.11 .14 .24 .13-.31 .13 .3 .14-.3 .13 .31 .14-.19 .13-.22 .14 .48 .13-.45 .14 .32 .13 .06 .14-.1 .13 .12 .14-.64 .13 .38 .13 .18 .14-.13 .13-.2 .14-.01 .13 .33 .14-.69 .13 .22 .14 .29 .13-.16 .14 .02 .13 .12 .14 .03 .13-.54 .14 .6 .13-.2 .13 .27 .14 .15 .13-.19 .14 .02 .13 .25 .14-.28 .13 .13 .14 .09 .13 .12 .14-.15 .13 .39 .14-.4 .13-.26 .13 .27 .14-.06 .13-.04 .14 0 .13 .11 .14 .04 .13 .09 .14-.08 .13 .02 .14 .1 .13-.6 .14 .23 .13 .13 .14-.25 .13 .38 .13 .01 .14-.44 .13 .3 .14-.09 .13 .09 .14-.11 .13 .06 .14 .17 .13 .07 .14-.46 .13 .2 .14-.05 .13 .11 .13-.12 .14 .08 .13 .5 .14-.33 .13-.12 .14 .22 .13-.19 .14 .29 .13-.31 .14 .09 .13-.01 .14-.3 .13 .58 .14-.4 .13 .23 .13-.02 .14-.11 .13 .09 .14-.38 .13 .27 .14 .06 .13 .02 .14 .14 .13-.55 .14 .15 .13 .43 .14-.15 .13 .16 .13 .15 .14-.6 .13 .69 .14-.53 .13 .12 .14 .44 .13-.48 .14 .15 .13-.07 .14 .06 .13-.1 .14 .01 .13-.1 .13 0 .14-.11 .13 .06 .14 .2 .13-.19 .14 .21 .13-.23 .14-.1 .13 .4 .14-.27 .13 .17 .14-.09 .13-.15 .14 .28 .13 .01 .13-.51 .14 .78 .13-.84 .14-.02 .13 .71 .14-.64 .13 .39 .14 .13 .13-.25 .14 .3 .13-.24 .14-.13 .13 .17 .13-.28 .14 .37 .13 .16 .14-.34 .13 .32 .14-.08 .13-.08 .14-.17 .13 .43 .14-.47 .13 .4 .14-.41 .13 .46 .14-.53 .13 .54 .13-.12 .14-.23 .13-.06 .14 .28 .13-.31 .14 .21 .13-.12 .14 .16 .13-.01 .14 .06 .13 .36 .14-.31 .13 .07 .13-.4 .14 .49 .13 .03 .14-.33 .13 .18 .14-.03 .13 .13 .14-.21 .13 .04 .14 .09 .13-.11 .14 .23 .13 .15 .14 .14 .13-.33 .13 .04 .14-.03 .13-.27 .14 .24 .13-.33 .14 .23 .13-.06 .14-.05 .13 .18 .14 .17 .13 .35 .14-.29 .13-.4 .13-.11 .14 .51 .13-.34 .14 .08 .13-.16 .14-.01 .13 .25 .14-.1 .13-.06 .14 .12 .13 .37 .14-.44 .13 .16 .14-.02 .13-.11 .13-.11 .14 .36 .13-.35 .14 .01 .13-.17 .14 .26 .13-.06 .14 0 .13 .17 .14-.17 .13 .15 .14 .03 .13-.01 .13-.06 .14-.04 .13-.28 .14 .18 .13 .12 .14 .11 .13 0 .14-.3 .13 .12 .14-.04 .13 0 .14-.27 .13 .1 .13 .07 .14 .31 .13 .05 .14-.43 .13 .2 .14-.44 .13 .54 .14-.26 .13-.25 .14 .42 .13-.1 .14 .2 .13-.15 .14 .11 .13-.11 .13 .2 .14-.35 .13 .15 .14 .07 .13 .04 .14-.3 .13 .07 .14 .05 .13-.15 .14 .11 .13 .25 .14 .01 .13-.23 .13 .09 .14 .15 .13-.36 .14 .07 .13-.01 .14 .06 .13 .09 .14-.05 .13-.09 .14 .39 .13-.07 .14 .03 .13 .13 .14-.21 .13-.39 .13 .72 .14-.19 .13-.28 .14 .17 .13-.06 .14 .04 .13-.09 .14 .14 .13 .03 .14 .01 .13 .2 .14-.06 .13-.76 .13 .52 .14-.49 .13 .6 .14-.2 .13-.37 .14 .31 .13-.1 .14 .35 .13-.44 .14 .33 .13-.14 .14 .06 .13 .16 .14-.22 .13-.17 .13 .27 .14 .11 .13 .04 .14-.5 .13-.06 .14 .26 .13 .17 .14-.22 .13 .4 .14-.53 .13-.09 .14 .53 .13-.19 .13-.12 .14-.12 .13 .06 .14-.21 .13 .27 .14-.45 .13 .21 .14 0 .13-.13 .14-.28 .13 .24 .14-.55 .13 .36 .14 .08 .13-.14 .13 .17 .14-.23 .13-.04 .14 .1 .13 .2 .14 .01 .13 .13 .14-.04 .13-.33 .14 .22 .13 .23 .14-.21 .13-.31 .13 .29 .14 .21 .13 .29 .14-.11 .13-.45 .14 .08 .13 .2 .14 .22 .13 .17 .14-.12 .13 .35 .14-.31 .13 .31 .13-.27 .14 .37 .13-.06 .14-.15 .13-.14 .14 .18 .13 .36 .14-.06 .13 .2 .14-.75 .13-.14 .14 .19 .13 .07 .14-.09 .13 0 .13 .2 .14-.12 .13 .12 .14-.05 .13 .48 .14-.28 .13-.1 .14 .42 .13-.12 .14-.22 .13-.06 .14 .14 .13-.11 .13-.16 .14-.09 .13-.17 .14 .48 .13-.51 .14 .33 .13 .25 .14-.52 .13 .06 .14-.14 .13 .33 .14-.07 .13-.07 .14-.25 .13 .35 .13-.44 .14 .12 .13-.1 .14-.14 .13 .22 .14-.37 .13-.2 .14 .17 .13-.1 .14 .2 .13 .24 .14-.53 .13 .39 .13-.11 .14-.29 .13 .21 .14-.17 .13-.1 .14 .28 .13 .1 .14-.26 .13 .75 .14-.31 .13 .21 .14-.33 .13 .42 .14-.11 .13-.18 .13 .35 .14-.01 .13 .14 .14 .11 .13 .09 .14-.3 .13 .43 .14-.05 .13-.2 .14 .03 .13-.12 .14 .28 .13-.49 .13 .43 .14 0 .13-.19 .14 .24 .13-.08 .14-.03 .13 .16 .14-.03 .13-.12 .14-.02 .13-.05 .14 .26 .13-.41 .14 .33 .13-.5 .13-.07 .14-.06 .13-.09 .14-.15 .13 .18 .14-.17 .13-.49 .14 .37 .13-.22 .14-.22 .13-.03 .14-.18 .13-.11 .13 0 .14-.28 .13-.44 .14 .22 .13-.02 .14-.09 .13 .03 .14-.44 .13 .15 .14 .33 .13-.3 .14-.05 .13 .19 .13-.13 .14 .29 .13-.18 .14-.02 .13-.12 .14 .24 .13 .33 .14 .1 .13-.4 .14 .47 .13 .21 .14-.2 .13 .11 .14 .18 .13 .33 .13 .16 .14-.02 .13 .51 .14-.2 .13-.26 .14 .4 .13-.07 .14 .05 .13 .54 .14-.6 .13 .62 .14 0 .13 0 .13-.3 .14 .01 .13 .59 .14-.56 .13 .18 .14 .15 .13-.13 .14 .32 .13-.33 .14-.15 .13 .6 .14-.29 .13 .11 .14-.05 .13-.09 .13-.1 .14-.1 .13-.04 .14 .42 .13-.19 .14-.01 .13 .2 .14-.3 .13 .04 .14 .16 .13 .25 .14-.68 .13 .64 .13-.53 .14 .36 .13-.17 .14-.03 .13 .2 .14 .05 .13-.26 .14 .02 .13 .1 .14-.07 .13 .18 .14-.05 .13 .1 .14-.25 .13 .23 .13-.14 .14-.27 .13 .07 .14 .13 .13-.14 .14 .43 .13 .03 .14-.02 .13-.18 .14 .14 .13 .2 .14-.46 .13 .05 .13 .14 .14-.29 .13 .18 .14 .13 .13 .18 .14-.28 .13 .03" fill="none" stroke="#118811" stroke-width="0.78" stroke-linejoin="round"/>
<path d="M35 268.72l.13 .98 .14 .65 .13 0 .14-.11 .13-.21 .14-.17 .13 .13 .14 .43 .13-.28 .14-.19 .13 .13 .14 .17 .13-.19 .13-.51 .14 1.36 .13-.3 .14 .01 .13 1.51 .14-1.92 .13-1.41 .14 1.74 .13 .15 .14-1.14 .13-.1 .14 1.9 .13-.12 .14 .71 .13-.9 .13-.7 .14 .52 .13 .18 .14-.9 .13-.92 .14 .38 .13 .13 .14 .89 .13-1.01 .14 1.25 .13-1.38 .14-.06 .13 .54 .13 .43 .14-1.23 .13 .6 .14-.13 .13 1.36 .14 .15 .13-.59 .14-.7 .13 .77 .14-.05 .13 .57 .14-1.67 .13 .03 .14 1.44 .13-.61 .13 .19 .14 .2 .13-.6 .14 1.57 .13-.49 .14-.89 .13-.38 .14 .06 .13-.02 .14 .61 .13 .31 .14-.05 .13-.03 .13-.17 .14 .32 .13-.3 .14 .21 .13-1.92 .14 1.31 .13 .11 .14 .32 .13-.34 .14-.02 .13-.53 .14 .61 .13-.23 .14 .75 .13-1.12 .13 .4 .14 .76 .13-.72 .14-.2 .13 .24 .14-1.84 .13 2.28 .14-.29 .13-.22 .14-.01 .13-1.32 .14 1.36 .13-.46 .13 .04 .14-.03 .13-.24 .14 .77 .13-.94 .14 .7 .13 .22 .14 .51 .13-.81 .14-.6 .13 .97 .14 .39 .13 .56 .14-1.43 .13-.31 .13 1.62 .14-.85 .13 .94 .14-1.67 .13 .84 .14-1.25 .13 .04 .14 .81 .13 .78 .14-1.82 .13 1.04 .14 1.04 .13-1.43 .13-.69 .14-.14 .13-1.15 .14-2.04 .13-1.37 .14-1.24 .13 .7 .14-.16 .13 .93 .14 2.14 .13-1.78 .14 1.6 .13 1.04 .13 1.31 .14 1.42 .13 .26 .14-.26 .13 .58 .14-.65 .13 .48 .14-.24 .13-.2 .14 .54 .13-.76 .14 1.31 .13-.1 .14-.68 .13-.48 .13 .48 .14 .08 .13-.54 .14 .38 .13 .38 .14-.41 .13-.17 .14 1.32 .13-1.49 .14 .48 .13 .44 .14 .01 .13 .42 .13-.97 .14 .6 .13-.26 .14-.2 .13 .15 .14-.01 .13 0 .14 .57 .13-1.19 .14-.08 .13 .99 .14-.66 .13 .26 .14 .38 .13 .48 .13-.49 .14-.6 .13 .8 .14 .14 .13 .4 .14-.57 .13 1.05 .14-1.7 .13-.65 .14 1.29 .13-.55 .14 .51 .13 .94 .13-.17 .14-.85 .13 .6 .14-.26 .13-.07 .14 1.05 .13-.87 .14 .14 .13-.7 .14 .49 .13 .52 .14-.58 .13 .71 .14-.38 .13-.33 .13 .78 .14-.39 .13-.87 .14 .23 .13 .83 .14-.19 .13-1.2 .14 1.14 .13-.57 .14 1.02 .13-.05 .14 .11 .13-.92 .13-.54 .14 1.03 .13-.62 .14-.34 .13 .33 .14 1.26 .13-.77 .14-1.03 .13 .27 .14 1.05 .13-.6 .14-.24 .13 .27 .14 .14 .13 .01 .13-.15 .14 .61 .13-.43 .14 .24 .13 .16 .14-.29 .13 .83 .14-1.2 .13-.41 .14 .39 .13 .16 .14-.24 .13-.53 .13 .45 .14 .49 .13-.01 .14 .24 .13 .49 .14-1.12 .13 .68 .14 .48 .13-.61 .14-.2 .13-.52 .14-.14 .13 .29 .13 .47 .14-.11 .13-.34 .14 .32 .13-.91 .14 .52 .13 .19 .14-.16 .13-1.14 .14 .74 .13 .14 .14-.73 .13 1.7 .14-2.06 .13 .76 .13-.78 .14-.68 .13 .19 .14 0 .13-1.17 .14-1.13 .13-.06 .14-3.53 .13-2.79 .14-7.04 .13-5.42 .14-9.2 .13-9.2 .13-7.53 .14-7.98 .13-6.35 .14-1.47 .13 1.52 .14 5.72 .13 6.76 .14 9.46 .13 9.5 .14 6.9 .13 9.04 .14 4.35 .13 3.1 .14 3.13 .13 1.74 .13 .99 .14 .15 .13 .34 .14 .42 .13 1.06 .14-.6 .13 .53 .14 .09 .13-.09 .14 .11 .13-.66 .14 .43 .13 .05 .13 .42 .14-.13 .13 .53 .14-.12 .13 .34 .14 .12 .13 .52 .14 .01 .13-.43 .14-.18 .13-.4 .14 .27 .13 .17 .14 .64 .13-1.4 .13 1.5 .14-.76 .13-.25 .14 .02 .13 .61 .14-.44 .13 .85 .14-.18 .13-.75 .14 .5 .13-.48 .14 .43 .13-.66 .13 .24 .14-.16 .13-.97 .14-.45 .13-.28 .14-1.45 .13-1.48 .14-.73 .13-2.03 .14-1.42 .13-2.3 .14-1.46 .13-.99 .14 .45 .13 1 .13 1.7 .14 1.95 .13 2.72 .14 1.11 .13 2.21 .14 .64 .13-.01 .14 2.05 .13-.24 .14 .06 .13-.38 .14 .79 .13-.09 .13-.07 .14-.4 .13 .76 .14-.62 .13-.15 .14 .67 .13 .02 .14 .06 .13-.09 .14 .21 .13 .42 .14-.76 .13-.39 .13 1.17 .14-.92 .13 .26 .14-.76 .13-.31 .14-.01 .13-.77 .14 .16 .13-2.65 .14-.44 .13-3.04 .14-3.29 .13-4.04 .14-6.61 .13-4.09 .13-5.92 .14-4.91 .13-4.86 .14-1.84 .13-.41 .14 .77 .13 5.82 .14 4.82 .13 6.37 .14 5.4 .13 4.38 .14 5.49 .13 2.58 .13 3.19 .14 2.12 .13 1.04 .14 1.58 .13-.27 .14 .56 .13 .71 .14 .65 .13-.15 .14-.07 .13-.67 .14 1.52 .13-.28 .14 .05 .13-.12 .13-.81 .14 .73 .13-.37 .14 .1 .13 .65 .14-.03 .13 .05 .14-.3 .13-.24 .14 .74 .13 .51 .14-.44 .13-.89 .13 1.5 .14-.84 .13-.01 .14-.04 .13 .39 .14 .55 .13-.57 .14 .67 .13-.7 .14 .38 .13 .59 .14-.74 .13 0 .14 .9 .13-1.3 .13 1.56 .14-.89 .13 .97 .14-.59 .13-.16 .14-.77 .13 .39 .14 .84 .13-.67 .14 .39 .13-.89 .14 .76 .13 0 .13-.41 .14 .63 .13-.14 .14 .27 .13-.96 .14 .75 .13 .01 .14 .31 .13-.31 .14 .54 .13 .28 .14-.11 .13-.22 .14 .06 .13 0 .13-.5 .14 .49 .13-.53 .14 1.11 .13-.72 .14 .64 .13-.17 .14-.24 .13 .57 .14-.08 .13-.79 .14 .43 .13 .19 .13 .22 .14 .04 .13-.72 .14 .87 .13-.51 .14 .08 .13-.53 .14 .08 .13 .1 .14 .58 .13-.57 .14 .46 .13 .2 .13 .12 .14-.84 .13 1.1 .14-.59 .13 .09 .14-.37 .13 .97 .14-.24 .13 .5 .14-.61 .13-.37 .14 .41 .13-.7 .14 .75 .13 .1 .13 .2 .14-.87 .13 .61 .14 .22 .13 .05 .14-.55 .13 .43 .14 .04 .13-.35 .14 .36 .13 .35 .14-.04 .13 .26 .13-.22 .14-.66 .13-.05 .14 .37 .13 .03 .14-.83 .13 .46 .14-.41 .13 .52 .14-.43 .13 .87 .14-.33 .13-.25 .14 .62 .13 .11 .13 .31 .14-.62 .13 .29 .14-.34 .13-.06 .14 .66 .13-.48 .14-.36 .13 .31 .14 .03 .13 .64 .14-.36 .13 .12 .13-.21 .14 .43 .13-.51 .14-.03 .13 .03 .14 .14 .13-.35 .14-.15 .13 .48 .14-.04 .13-.11 .14 .69 .13-.71 .14 .39 .13-.82 .13 .18 .14-.06 .13 .93 .14 .26 .13-.16 .14-1.05 .13 .71 .14 .1 .13 .53 .14-.66 .13-.16 .14 .12 .13 .75 .13-.65 .14 .64 .13 .41 .14-.57 .13-.23 .14-.58 .13 .63 .14-.16 .13 .04 .14-.58 .13 .3 .14-.06 .13 .61 .14-.22 .13-.43 .13 .27 .14 .09 .13-.19 .14 .24 .13-.72 .14 .49 .13 .55 .14-.34 .13 .52 .14-.27 .13-.19 .14 .48 .13-.59 .13 .01 .14-.19 .13 .26 .14-.31 .13 .45 .14-.46 .13 .2 .14 .33 .13-.1 .14 .24 .13-.55 .14 .34 .13 .62 .13-.3 .14-.87 .13 .23 .14 .56 .13-.99 .14 .62 .13-.28 .14-.07 .13 .33 .14 .29 .13-.24 .14 .17 .13-.13 .14 .08 .13-.48 .13 .37 .14-.14 .13 .09 .14 .29 .13-.21 .14 .31 .13-.55 .14 .09 .13-.23 .14 .32 .13 .3 .14-.6 .13 .25 .13-.18 .14 .12 .13-.5 .14-.4 .13 .28 .14-.1 .13 .38 .14-.4 .13 .66 .14-.77 .13 .55 .14-.29 .13-1.15 .14 .14 .13-.22 .13-.07 .14 .48 .13-.35 .14-.79 .13 .91 .14 .13 .13-.31 .14-.16 .13-.55 .14 .7 .13 .25 .14-.61 .13 .36 .13-.28 .14 1.24 .13-.96 .14-.05 .13 .94 .14 .04 .13-.66 .14 .58 .13-.32 .14 1.25 .13-.34 .14-.46 .13 .32 .14-.4 .13 .92 .13-.2 .14 .04 .13-.37 .14 .18 .13 .31 .14-.56 .13 .73 .14-.51 .13 .69 .14 .24 .13-.01 .14-.45 .13 .01 .13 .8 .14-.68 .13 .05 .14-.16 .13 .43 .14 .14 .13-.47 .14 .42 .13-.01 .14-.49 .13 .58 .14-.37 .13 .62 .14-.49 .13 .3 .13-.4 .14-.19 .13 .17 .14 .54 .13-.22 .14-.17 .13-.16 .14-.06 .13 .34 .14-.36 .13 .3 .14 .26 .13-.86 .13 .62 .14-.12 .13 .15 .14-.1 .13-.36 .14 .24 .13 .78 .14-.78 .13 .44 .14-.3 .13-.02 .14 .06 .13 .03 .13 .23 .14-.42 .13 .36 .14 .06 .13-.23 .14 .14 .13-.34 .14-.16 .13 .36 .14 .16 .13-.31 .14 .45 .13 .2 .14-.44 .13 .07 .13 .35 .14-.5 .13 .57 .14 .11 .13-.11 .14-.29 .13 .3 .14-.11 .13 .15 .14-.52 .13 .78 .14-1.32 .13 1.06 .13-.52 .14 .39 .13-.41 .14-.15 .13 .11 .14-.25 .13 .56 .14-.42 .13 .38 .14 .27 .13-.75 .14 .88 .13-.33 .14-.18 .13-.09 .13 .08 .14 .81 .13-.66 .14-.06 .13 .33 .14-.07 .13-.83 .14 .36 .13 .49 .14-.58 .13-.11 .14 .4 .13-.24 .13 .22 .14-.36 .13-.17 .14 .97 .13-.31 .14 .48 .13-.12 .14-.5 .13-.03 .14 .28 .13-.39 .14 .51 .13 .27 .14-.19 .13-.15 .13-.57 .14 .06 .13 .16 .14-.12 .13-.04 .14 .14 .13 .43 .14-.56 .13 .56 .14 .07 .13-.28 .14-.19 .13-.09 .13 .21 .14 .07 .13-.07 .14 .36 .13 .35 .14-.73 .13 .02 .14 .29 .13-.16 .14-.44 .13 .24 .14-.3 .13 .48 .14-.13 .13 .2 .13-.5 .14 .73 .13-.58 .14 .06 .13-.13 .14 .51 .13-.54 .14 .24 .13 .37 .14-.23 .13 .02 .14-.45 .13 .07 .13 .13 .14-.13 .13 .34 .14-.56 .13 .34 .14 .02 .13-.28 .14 .27 .13-.2 .14-.38 .13 .71 .14 .06 .13-.34 .13-.38 .14-.01 .13 .86 .14-.81 .13 .02 .14-.18 .13 .38 .14 .05 .13-.16 .14-.22 .13-.3 .14 .45 .13-.59 .14-.24 .13-.02 .13-.35 .14-1 .13-1.51 .14-1.51 .13-3.04 .14-2.18 .13-2.99 .14-3.68 .13-2.95 .14-1.67 .13-2.55 .14-.32 .13 .06 .13 1.39 .14 2.8 .13 4.2 .14 2.56 .13 2.85 .14 2.68 .13 3.08 .14 1.71 .13 1.21 .14 .13 .13 1.09 .14 .42 .13 .37 .14 .34 .13-.56 .13-.08 .14 .29 .13 .22 .14-.06 .13 .01 .14 .57 .13-.32 .14-.03 .13 .19 .14-.17 .13-.12 .14 .07 .13-.12 .13 .25 .14 .29 .13-.05 .14-.32 .13 .1 .14 .29 .13-.14 .14-.16 .13-.19 .14 .14 .13 .32 .14-.21 .13-.08 .14 .6 .13-.57 .13 .06 .14 0 .13 .45 .14 .03 .13-.25 .14-.13 .13-.07 .14 .45 .13-.55 .14 .9 .13-.54 .14-.45 .13 .61 .13-.17 .14 .2 .13-.18 .14-.27 .13 .41 .14-.05 .13-.55 .14 .9 .13-.72 .14 .25 .13-.32 .14 .7 .13-.39 .14 .36 .13-.47 .13-.01 .14 .08 .13-.13 .14 .35 .13 .31 .14-.15 .13 .11 .14-.13 .13-.19 .14-.38 .13 .08 .14 .25 .13 .14 .13 .18 .14-.46 .13-.18 .14 0 .13 .22 .14-.14 .13 .1 .14 .03 .13-.21 .14 .56 .13-.5 .14-.05 .13 .17 .13-.27 .14-.08 .13 .66 .14-.31 .13-.39 .14 .22 .13 .06 .14 .18 .13-.37 .14 .03 .13 .02 .14 .46 .13-.58 .14 .25 .13-.46 .13 .74 .14 .09 .13-.4 .14 .63 .13-.55 .14-.25 .13 .37 .14-.57 .13 .3 .14-.22 .13 .49 .14-.22 .13 .04 .13 .15 .14-.35 .13-.07 .14 .33 .13-.11 .14-.17 .13-.04 .14 .42 .13-.38 .14-.21 .13 .27 .14-.6 .13 .08 .14-.21 .13-.13 .13-.18 .14 .13 .13-.04 .14-.36 .13 .23 .14-.3 .13 .01 .14-.7 .13 .13 .14-.22 .13-.35 .14 .13 .13-.43 .13 .31 .14-.27 .13-.06 .14-.02 .13 .04 .14-.13 .13 .46 .14-.36 .13 .72 .14-.31 .13 .24 .14 .04 .13 .27 .14 .67 .13-.19 .13 .34 .14 .12 .13 .17 .14 .04 .13 .31 .14-.29 .13 .65 .14-.35 .13 .31 .14 .2 .13-.03 .14 .27 .13 .06 .13-.52 .14 .22 .13 .32 .14-.05 .13-.36 .14 .31 .13-.28 .14 .26 .13-.36 .14 .54 .13-.01 .14 .06 .13-.23 .14 .33 .13-.1 .13-.1 .14 .16 .13-.2 .14 .09 .13 .06 .14-.32 .13 .36 .14-.06 .13 .31 .14-.32 .13-.01 .14 .01 .13 .06 .13 .06 .14-.29 .13 .19 .14 .19 .13-.13 .14-.21 .13 .11 .14 .04 .13-.5 .14 .36 .13-.09 .14 .26 .13-.16 .13-.06 .14 .07 .13-.11 .14-.12 .13 .35 .14-.21 .13-.02 .14 .02 .13-.83 .14 .27 .13 .31 .14-.5 .13-.28 .14 .15 .13-.61 .13 .68 .14-.81 .13 .47 .14-.27 .13-.04 .14 .17 .13-.32 .14-.5 .13 .04 .14 .44 .13 .4 .14-.04 .13 .19 .13-.09 .14 .49 .13-.51 .14 .53 .13-.27 .14 .59 .13-.22 .14 .3 .13-.08 .14-.18 .13 .31 .14 .42 .13-.65 .14 .23 .13-.03 .13 .57 .14-.73 .13 .15 .14-.78 .13 .27 .14-.44 .13-.65 .14-.03 .13 0 .14-.5 .13-.58 .14-.24 .13-1.47 .13-.51 .14-.53 .13-.46 .14 .3 .13-.66 .14 .3 .13 .28 .14 .19 .13 .31 .14 .09 .13 .54 .14 .27 .13 1 .14 .21 .13 .91 .13 .38 .14 .1 .13 .05 .14 .17 .13 .3 .14-.36 .13 .53 .14-.24 .13-.36 .14-.26 .13-.04 .14-.55 .13-.39 .13-.23 .14 .06 .13-.56 .14 .34 .13-.44 .14 .57 .13-.28 .14 .07 .13 .4 .14-.23 .13 .66 .14 .44 .13 .24 .14 .03 .13 .1 .13 .82 .14 .71 .13-.69 .14 .87 .13 0 .14 .08 .13 .19 .14-.14 .13 .04 .14 .22 .13-.12 .14-.02 .13 .29 .13-.03 .14-.53 .13 .67 .14-.35 .13-.07 .14 .18 .13 .26 .14-.43 .13 .08 .14 .16 .13 .46 .14-.05 .13-.33 .13 .03 .14-.04 .13-.04 .14 .22 .13-.21 .14 .1 .13-.15 .14 .06 .13 .23 .14-.35 .13 .44 .14-.04 .13-.38 .14 .13 .13 .09 .13 .02 .14 .07 .13-.08 .14 .03 .13-.11 .14 .23 .13 .23 .14-.31 .13 .39 .14-.5 .13 .04 .14-.06 .13 .03 .13-.02 .14 .28 .13-.16 .14-.13 .13 .15 .14-.03 .13-.15 .14 .41 .13 .2 .14-.71 .13 .24 .14-.33 .13 .49 .14-.35 .13 .25 .13-.15 .14-.16 .13 .01 .14 .22 .13-.18 .14 .3 .13-.19 .14-.29 .13-.09 .14-.08 .13 .34 .14 .27 .13-.43 .13 .08 .14 .01 .13 .05 .14 .29 .13 .26 .14-.54 .13-.27 .14 .48 .13 .28 .14-.15 .13-.2 .14 .45 .13-.33 .14 .05 .13-.03 .13 .22 .14-.22 .13 .16 .14 .33 .13-.45 .14 .06 .13 .09 .14-.24 .13-.08 .14 .07 .13-.24 .14 .29 .13-.02 .13 .48 .14-.08 .13-.27 .14-.01 .13 .35 .14-.41 .13-.23 .14-.29 .13 1.15 .14-.71 .13 .44 .14-.19 .13-.06 .14 .05 .13-.02 .13 .15 .14-.04 .13-.24 .14 .02 .13 .25 .14 0 .13 .22 .14-.14 .13-.02 .14 .06 .13-.47 .14 .36 .13-.09 .13 .13 .14 .16 .13-.19 .14-.42 .13 .48 .14-.07 .13 .31 .14-.15 .13-.07 .14-.15 .13 .36 .14-.17 .13-.33 .13 .46 .14-.66 .13 .27 .14-.04 .13 .08 .14-.2 .13 .56 .14-.72 .13 .02 .14 .18 .13 0 .14 .54 .13-.65 .14 .13 .13 .25 .13 .03 .14 .01 .13-.1 .14-.24 .13 .62 .14-.24 .13 .02 .14-.77 .13 .43 .14-.13 .13-.14 .14 .49 .13-.39 .13 .16 .14-.13 .13 .03 .14-.34 .13 .12 .14-.23 .13 .36 .14 .02 .13-.24 .14 .41 .13-.36 .14 .18 .13 .27 .14 .18 .13-.05 .13-.66 .14 .33 .13 .26 .14-.19 .13-.04 .14-.23 .13 .17 .14 .02 .13 .47 .14-.16 .13-.01 .14 .31 .13-.32 .13 .18 .14-.21 .13 .03 .14-.03 .13-.01 .14 0 .13 .31 .14 .01 .13-.09 .14-.29 .13-.1 .14 .54 .13-.37 .14 .24 .13 .06 .13-.28 .14 .44 .13-.22 .14 .43 .13-.51 .14-.05 .13-.03 .14 .38 .13-.08 .14-.27 .13-.03 .14 0 .13 .2 .13-.02 .14 .2 .13-.21 .14-.45 .13 .25 .14-.11 .13 .3 .14-.21 .13 .01 .14-.01 .13-.06 .14 .28 .13 .07 .14-.2 .13-.07 .13 .2 .14-.39 .13 .35 .14-.23 .13 .36 .14-.02 .13 .02 .14-.24 .13-.03 .14-.11 .13 .19 .14 .13 .13 .07 .13 .02 .14-.19 .13 .07 .14 .03 .13 .11 .14-.09 .13-.02 .14-.15 .13-.07 .14 .11 .13 .22 .14-.39 .13 .41 .13-.24 .14 .05 .13 .11 .14-.37 .13 .39 .14 .06 .13-.09 .14 .17 .13-.01 .14-.27 .13 .3 .14-.4 .13 .37 .14 .14 .13-.49 .13-.11 .14 .49 .13 .25 .14-.39 .13 .41 .14-.12 .13-.14 .14 .42 .13-.68 .14 .15 .13-.43 .14 .32 .13 .03 .13-.05 .14 .41 .13-.38 .14-.16 .13 .27 .14-.19 .13 .19 .14-.09 .13-.17 .14 .26 .13-.2 .14 .13 .13 .02 .14 .2 .13-.62 .13 .45 .14-.34 .13 .36 .14-.3 .13 .43 .14-.15 .13-.13 .14-.14 .13 .19 .14-.01 .13-.21 .14 .23 .13-.05 .13 .15 .14-.32 .13 .37 .14-.24 .13 .12 .14-.12 .13 .14 .14-.13 .13 .04 .14 .17 .13 .15 .14-.15 .13-.06 .14-.09 .13 .1 .13 .19 .14-.08 .13-.11 .14 .02 .13 .05 .14 .06 .13-.43 .14 .27 .13 .17 .14-.08 .13 .17 .14-.14 .13-.13 .13 .15 .14 .15 .13-.4 .14 .03 .13 .09 .14 .23 .13 .06 .14 0 .13-.21 .14 .23 .13-.26 .14 .1 .13 .1 .14-.27 .13-.12 .13 .36 .14-.09 .13 .07 .14-.27 .13 .16 .14 .05 .13-.13 .14 .26 .13-.11 .14 .13 .13-.48 .14 .27 .13 .3 .13-.35 .14 .52 .13-.3 .14 .01 .13-.24 .14 0 .13-.05 .14 .12 .13 .09 .14 .06 .13-.31 .14 .11 .13 .15 .13 .16 .14-.06 .13-.21 .14-.08 .13 .55 .14-.43 .13 .18 .14-.41 .13 .21 .14 .34 .13-.15 .14-.17 .13 .37 .14-.01 .13-.28 .13 .12 .14-.04 .13 .14 .14-.17 .13-.39 .14 .04 .13 .27 .14 .33 .13-.3 .14-.01 .13-.15 .14 .1 .13 .2 .13 .14 .14-.39 .13 .24 .14-.21 .13 .24 .14-.08 .13-.12 .14-.1 .13 .01 .14 .41 .13-.26 .14-.11 .13 .1 .14 .23 .13-.37 .13 .09 .14 .05 .13-.03 .14 .06 .13-.1 .14 .1 .13 .19 .14 .12 .13-.21 .14-.2 .13-.11 .14 .29 .13-.04 .13-.14 .14 .18 .13-.09 .14-.02 .13-.07 .14-.25 .13 .18 .14 .3 .13-.08 .14 .09 .13-.08 .14-.1 .13-.01 .14-.03 .13 .09 .13-.04 .14-.03 .13 .16 .14 .08 .13-.18 .14-.33 .13 .33 .14 .08 .13 .17 .14-.64 .13 .32 .14-.17 .13 .52 .13-.78 .14 .11 .13 .19 .14 .08 .13-.11 .14-.17 .13-.16 .14 .38 .13-.12 .14-.09 .13-.32 .14 .32 .13-.38 .14-.06 .13 .13 .13-.02 .14-.18 .13 .23 .14-.14 .13 .15 .14-.01 .13 .03 .14 .35 .13-.47 .14 .29 .13 .22 .14-.18 .13 .02 .13-.34 .14 .16 .13 .32 .14 .05 .13 .16 .14 .14 .13-.08 .14-.13 .13 .13 .14 .13 .13-.04 .14 .23 .13-.15 .13-.19 .14 0 .13 .28 .14-.37 .13 .26 .14 0 .13-.26 .14 .02 .13 .33 .14-.01 .13 .23 .14-.11 .13-.24 .14-.01 .13 .13 .13-.14 .14-.03 .13-.25 .14 .07 .13 .04 .14 .53 .13-.52 .14 .22 .13 .03 .14-.38 .13 0 .14 .36 .13-.23 .13 .34 .14 .08 .13-.37 .14 .33 .13-.31 .14 .02 .13 .1 .14-.2 .13-.33 .14-.11 .13 .27 .14-.22 .13 .23 .14-.1 .13-.11 .13 .45 .14-.36 .13 0 .14 .03 .13-.05 .14-.34 .13-.06 .14 .31 .13-.24 .14 .06 .13-.13 .14 .3 .13-.36 .13 .42 .14-.25 .13-.17 .14 .14 .13 .1 .14-.28 .13 .3 .14 .15 .13 0 .14 .18 .13-.11 .14 .02 .13 .15 .14 .27 .13-.23 .13 .25 .14-.03 .13-.08 .14-.18 .13 .15 .14 .12 .13-.29 .14 .15 .13 .58 .14-.58 .13 .12 .14 .02 .13 .33 .13-.62 .14 .03 .13 .23 .14 .29 .13-.43 .14 .31 .13-.27 .14-.07 .13 .2 .14-.24 .13 .26 .14-.52 .13 .27 .14-.07 .13 .2 .13 0 .14-.13 .13-.19 .14-.08 .13-.07 .14 .06 .13-.35 .14 .28 .13-.43 .14-.18 .13 .14 .14-.35 .13 .42 .13-.58 .14 .31 .13-.31 .14-.29 .13 .17 .14-.17 .13 .04 .14 .1 .13-.16 .14-.12 .13-.12 .14 .4 .13 0 .13 .16 .14-.5 .13 .46 .14-.23 .13-.09 .14 .41 .13-.4 .14-.02 .13 .56 .14-.17 .13 .23 .14 .32 .13 .14 .14 .01 .13-.07 .13 .14 .14-.28 .13-.03 .14 .57 .13-.11 .14-.13 .13 .68 .14-.25 .13-.35 .14 .21 .13 .46 .14 .04 .13-.48 .13 .21 .14 .05 .13-.02 .14 .18 .13 .22 .14-.29 .13-.4 .14 .45 .13 .05 .14-.27 .13-.08 .14 .24 .13-.02 .14 .05 .13-.05 .13-.1 .14 .04 .13 .4 .14-.1 .13-.11 .14-.1 .13-.14 .14 .13 .13 .12 .14 .1 .13-.12 .14-.13 .13 .26 .13-.29 .14 .38 .13-.18 .14 .18 .13-.24 .14-.12 .13 .43 .14-.21 .13 .31 .14-.6 .13 .14 .14 .07 .13-.14 .14 .23 .13 .02 .13-.36 .14 .31 .13 .33 .14-.21 .13-.18 .14 .37 .13-.03 .14-.46 .13 .15 .14 .11 .13 .05 .14 .05 .13-.15 .13 .29 .14 .1 .13-.31 .14 .01 .13 .22 .14-.1 .13 .2" fill="none" stroke="#1a1af0" stroke-width="0.78" stroke-linejoin="round"/>
<path d="M35 366.7l.13 .18 .14-.7 .13 1.22 .14-1.02 .13 .9 .14-.56 .13-.83 .14 .28 .13-.6 .14 .63 .13 .03 .14 .09 .13-.12 .13-.74 .14 1.55 .13-.07 .14-.35 .13-.31 .14 .6 .13-.17 .14-.65 .13-.07 .14 0 .13 1.15 .14 .89 .13-1.91 .14-.33 .13 .31 .13 .53 .14 .42 .13-1.71 .14 .45 .13 .68 .14 .94 .13-1.17 .14 .93 .13 1.19 .14-1.98 .13-.15 .14 .38 .13 .24 .13-.69 .14 .39 .13-.07 .14-.44 .13 .64 .14 .41 .13 .07 .14-.15 .13-1.17 .14 .42 .13-1.1 .14 1.86 .13-.58 .14-.47 .13 .51 .13-.74 .14-.69 .13 2.24 .14-.57 .13 .04 .14-1.23 .13-.28 .14 .86 .13 .73 .14-1.27 .13-.02 .14-.2 .13 1.13 .13-1 .14 .76 .13 1.13 .14-1.02 .13-.06 .14-.62 .13 1.31 .14-1.25 .13 1.96 .14-.95 .13-.95 .14-1.01 .13 .89 .14 .84 .13-.15 .13-1.02 .14 1.59 .13-.67 .14-.19 .13 .72 .14-1.12 .13 .12 .14 .24 .13-.05 .14 .95 .13-.16 .14-.62 .13 .63 .13-.16 .14-.29 .13 .81 .14-1.22 .13 .79 .14-.25 .13-.27 .14 .5 .13-.89 .14 1.03 .13 .36 .14-1.05 .13 .42 .14-.76 .13 .06 .13 1.1 .14-1.09 .13-.14 .14 1.63 .13-1.83 .14-.1 .13 .37 .14 .05 .13-.71 .14-.3 .13 1.58 .14-1.85 .13 .21 .13-.38 .14-1.07 .13-.79 .14-2.76 .13-2.05 .14-1.02 .13 .02 .14 .17 .13 .76 .14 .79 .13 1.34 .14 1.79 .13 1.17 .13 1.4 .14 1.68 .13-.05 .14 .11 .13-.95 .14 1.58 .13-.62 .14 .45 .13-.63 .14 .47 .13-.78 .14 .89 .13-1.43 .14 .59 .13 .94 .13-.88 .14 1.16 .13-.76 .14 .98 .13-.25 .14-.25 .13 .79 .14-.16 .13-.51 .14-.84 .13 .16 .14 1.67 .13-1.19 .13 .68 .14-.68 .13 .65 .14 .5 .13-.95 .14 .65 .13 1.35 .14-1.9 .13 .62 .14-.69 .13 .86 .14-.64 .13-.18 .14 .42 .13 .22 .13-.48 .14-.06 .13-.45 .14 .75 .13 .16 .14-.77 .13 .49 .14 .93 .13 .07 .14-.44 .13 .53 .14-.24 .13-1.13 .13 .99 .14 .08 .13-1.34 .14 .49 .13 .36 .14-.38 .13 .44 .14 .38 .13-.18 .14 .11 .13-.59 .14 .15 .13-.04 .14 .47 .13-.41 .13 .39 .14 .13 .13-1.57 .14 .96 .13 .55 .14 .08 .13-.31 .14-.26 .13-.62 .14 1.4 .13-.16 .14-.3 .13 .5 .13-2.4 .14 1.68 .13-.58 .14 1.03 .13-1.35 .14 1.34 .13-1.61 .14 .78 .13-.28 .14 .33 .13 .38 .14-.5 .13 .39 .14 .86 .13-1.74 .13 .97 .14-.64 .13 .34 .14 .79 .13-.92 .14 .22 .13-.77 .14 .05 .13 1.6 .14-1.12 .13-.42 .14 .82 .13-.02 .13 .51 .14 .28 .13-1.98 .14 1.3 .13 .19 .14 .3 .13-.24 .14-1.05 .13 1.26 .14-.59 .13-.14 .14 .73 .13-.63 .13-.39 .14 .36 .13 .89 .14-.69 .13 .13 .14-1.09 .13 .87 .14-1.14 .13 .38 .14 .4 .13-1.17 .14 .17 .13-.3 .14 0 .13 1.1 .13-1.8 .14 .14 .13 .39 .14 .78 .13-1.73 .14-2.65 .13-.68 .14-2.81 .13-5.06 .14-4.8 .13-7.86 .14-9.65 .13-10.24 .13-9.28 .14-9.91 .13-6.85 .14-.88 .13 1.51 .14 6.55 .13 7.95 .14 10.81 .13 10.96 .14 8.25 .13 8.79 .14 4.75 .13 5.25 .14 .57 .13 2.72 .13 1.21 .14 .79 .13 .14 .14 1.16 .13 .52 .14 .09 .13-.84 .14-.01 .13 1.72 .14-1.43 .13-.38 .14 .98 .13 .13 .13-.57 .14 .73 .13 .13 .14 .51 .13-.3 .14-.1 .13 .77 .14-.78 .13-.92 .14 .89 .13 .77 .14-1.44 .13 .14 .14 1.17 .13-.12 .13-.25 .14-.29 .13-.31 .14 .44 .13 .25 .14 .44 .13-.18 .14 .41 .13-.41 .14-1.26 .13 .98 .14-.11 .13-.53 .13-.16 .14 .03 .13-1.39 .14-1.53 .13-.27 .14-2.5 .13-2.38 .14-2.29 .13-1.47 .14-4.12 .13-1.33 .14-.8 .13-.16 .14-.85 .13 1.57 .13 1.47 .14 3.89 .13 1.36 .14 3.42 .13 1.32 .14 2.98 .13 .44 .14 .82 .13-.27 .14 2.09 .13-.27 .14 .78 .13-1.23 .13 .54 .14 .54 .13-.38 .14 .4 .13 .36 .14-.33 .13 .84 .14-.48 .13-.52 .14-.78 .13 1.16 .14-.26 .13-.05 .13-.58 .14 .54 .13 .26 .14-.59 .13 .22 .14-2.14 .13 .35 .14-1.92 .13-2.16 .14-1.61 .13-3.77 .14-5.53 .13-4.42 .14-6.47 .13-4.66 .13-7.03 .14-4.07 .13-3.72 .14-1.77 .13 .51 .14 1.52 .13 4.12 .14 4.79 .13 5.57 .14 5.87 .13 5.67 .14 4.33 .13 6.46 .13 2.67 .14 2.44 .13 2.11 .14 .39 .13 1.39 .14 .5 .13 .79 .14 .25 .13-.38 .14 .85 .13 .89 .14 .16 .13 .13 .14-.69 .13-.07 .13-.01 .14 .57 .13-.02 .14-.12 .13-.58 .14 1.34 .13-1.01 .14-.59 .13-.41 .14 .07 .13-.96 .14-.92 .13-1.14 .13-.28 .14 .21 .13-.78 .14 .28 .13-.62 .14-.01 .13 2.11 .14 .79 .13 .5 .14 .43 .13 1.21 .14 .81 .13-.55 .14 1.5 .13 .1 .13 .28 .14-.3 .13 .1 .14 .63 .13-.28 .14-.52 .13 .19 .14 .29 .13-.61 .14 .6 .13-.07 .14 .68 .13-.37 .13-.04 .14 .15 .13 .1 .14 .1 .13-.67 .14 1.22 .13-.46 .14-.46 .13 .46 .14-.12 .13-.15 .14 .8 .13-.82 .14 .96 .13-.37 .13 .17 .14-.38 .13 1.15 .14-1.31 .13 .62 .14-.19 .13 .08 .14-.12 .13-.07 .14 .67 .13 .15 .14-.61 .13-.39 .13 .63 .14-.06 .13-.33 .14 .4 .13-.02 .14 .34 .13-.78 .14 1.2 .13-.67 .14 .46 .13 .1 .14-.28 .13 .15 .13 .18 .14-.27 .13 .09 .14 .65 .13-.37 .14 .56 .13 .31 .14-1.41 .13-.04 .14 .97 .13-.54 .14-.44 .13 .82 .14-.62 .13 .29 .13-.23 .14-.25 .13 .55 .14-.11 .13 .68 .14 .13 .13 .34 .14-.93 .13 .43 .14-.62 .13 .73 .14-.42 .13-.01 .13-.08 .14 .14 .13-.96 .14 .76 .13-.37 .14 .13 .13-.25 .14 .96 .13-.4 .14-.34 .13 .09 .14 .72 .13-.67 .14 1.48 .13-1.06 .13 .27 .14-.98 .13 .02 .14 .73 .13 .05 .14-.23 .13 1.05 .14-1.47 .13 .66 .14 .14 .13 .08 .14 .01 .13-.69 .13 .96 .14-.82 .13 .09 .14 .09 .13 .3 .14-.5 .13-.14 .14-.03 .13 .75 .14-.06 .13-.68 .14 .67 .13 .26 .14-.57 .13-.05 .13 .9 .14-.62 .13 .37 .14-.61 .13 .22 .14-.62 .13 .52 .14 .72 .13-.23 .14-.66 .13 .26 .14-.47 .13 .47 .13-.2 .14 .4 .13-.11 .14-.32 .13 .9 .14-1.44 .13 .7 .14 .08 .13 .61 .14-.61 .13 .35 .14 .11 .13-.67 .14 .73 .13-.43 .13 0 .14-.38 .13 1.15 .14-.4 .13 .19 .14-.37 .13 .17 .14 .21 .13-.11 .14-.01 .13 .03 .14-.55 .13 .55 .13 .46 .14-.87 .13 .04 .14 .83 .13-1.41 .14 .33 .13 .76 .14-.14 .13 .39 .14-.65 .13 .09 .14 .48 .13 .05 .13-.62 .14 .31 .13-.62 .14-.11 .13 .8 .14-.19 .13 .08 .14 .48 .13-.73 .14 .18 .13-.57 .14 .19 .13 .13 .14 .03 .13 .28 .13-.59 .14 .86 .13 .09 .14-.32 .13-.61 .14-.22 .13 .06 .14 .4 .13-.25 .14-.32 .13 .43 .14 .12 .13-.86 .13 0 .14 .53 .13 .02 .14 .16 .13-.58 .14 .41 .13-.4 .14 .06 .13-.17 .14-.45 .13-.2 .14 .64 .13-1.48 .14 .12 .13 .49 .13-.28 .14 .35 .13-.21 .14-.27 .13 .25 .14-.28 .13-.33 .14-.09 .13 .35 .14-.51 .13 .24 .14 .15 .13 .26 .13-.02 .14 .31 .13-.42 .14 .51 .13-.29 .14 .16 .13 .02 .14 1.2 .13 .37 .14-.01 .13-1.25 .14 .74 .13 .38 .14-.53 .13 .24 .13 .85 .14-.36 .13 .24 .14 .08 .13-.21 .14 .08 .13 .32 .14-.3 .13 .38 .14-.14 .13 .13 .14-.46 .13 .68 .13-.47 .14-.28 .13 .33 .14 .65 .13-1.04 .14 .91 .13 .26 .14-.24 .13-.99 .14 .51 .13 .56 .14-.18 .13 .22 .14-.16 .13-.17 .13 .21 .14 .19 .13-.49 .14 .37 .13 .53 .14-.8 .13-.53 .14 .42 .13 .39 .14-.35 .13 .3 .14-.18 .13-.2 .13 .15 .14-.25 .13 0 .14 .53 .13 .3 .14-.96 .13 .24 .14 .34 .13-.27 .14 .5 .13-.44 .14 .68 .13-.53 .13-.05 .14 .93 .13-1.41 .14 .43 .13 .24 .14-.13 .13 .48 .14-.68 .13 .86 .14-.09 .13-.52 .14-.08 .13 .31 .14-.09 .13-.18 .13 .49 .14-.23 .13 .19 .14-.5 .13 .38 .14 .01 .13 .11 .14-.43 .13 .26 .14 .23 .13-.11 .14 .38 .13-.45 .13 .29 .14-.71 .13 0 .14 .53 .13-.33 .14 .25 .13 .25 .14-.33 .13-.03 .14-.43 .13-.12 .14 .72 .13-.71 .14 .15 .13 .27 .13-.26 .14 .24 .13 1.01 .14-.69 .13-.08 .14 .09 .13-.23 .14-.14 .13 .46 .14-.27 .13 .67 .14-.46 .13 .33 .13-.87 .14 .85 .13-.45 .14 .08 .13 .41 .14-.43 .13-.57 .14-.03 .13 1.38 .14-.81 .13 .13 .14 .44 .13-.53 .14 .08 .13 .39 .13-.07 .14-.5 .13 .33 .14-.49 .13 0 .14-.19 .13 1.03 .14-.68 .13-.04 .14 .18 .13-.59 .14 .18 .13-.19 .13 .05 .14 .16 .13-.71 .14 .64 .13-.03 .14-.48 .13 0 .14 .16 .13 .35 .14-.1 .13 .01 .14 .28 .13 .22 .14-.44 .13 .67 .13-.32 .14-.09 .13-.23 .14 .66 .13-.41 .14 .16 .13-.14 .14 .2 .13 .44 .14-.28 .13 0 .14-.24 .13-.16 .13 .06 .14 .3 .13-.2 .14-.11 .13 .52 .14-.2 .13-.52 .14-.17 .13 .4 .14-.39 .13 .62 .14-.46 .13 .33 .13 .09 .14-.45 .13-.42 .14 .35 .13 .46 .14-.26 .13-.61 .14 .57 .13 .13 .14 .05 .13-.06 .14-.98 .13 .11 .14 .06 .13-.23 .13-.98 .14-.97 .13-.71 .14-1.9 .13-2.66 .14-2.94 .13-3.22 .14-2.03 .13-3.8 .14-2.4 .13-1.96 .14-.49 .13 1.32 .13 1.25 .14 3.25 .13 2.09 .14 3.6 .13 3.54 .14 2.24 .13 2.19 .14 1.62 .13 1.65 .14 .5 .13 .59 .14 .56 .13 .25 .14-.26 .13 .42 .13-.15 .14 .64 .13-.3 .14 .23 .13 .02 .14-.18 .13 .04 .14-.02 .13 .45 .14 .13 .13-.03 .14-.21 .13-.5 .13 .13 .14 .24 .13-.02 .14 .42 .13-.43 .14-.06 .13 .07 .14 .13 .13-.24 .14 .48 .13-.08 .14-.29 .13 .35 .14-.77 .13 .4 .13 .39 .14-.03 .13-.82 .14 .63 .13 .1 .14-.29 .13-.03 .14 .06 .13 .2 .14-.14 .13 .06 .14 .03 .13-.03 .13 .52 .14-.41 .13-.16 .14 0 .13 .49 .14-1.03 .13 .33 .14 .09 .13-.19 .14 .54 .13-.48 .14 .37 .13-.14 .14 .3 .13 0 .13-.25 .14 .13 .13 .31 .14-.52 .13 .39 .14-.36 .13 .02 .14 .16 .13-.15 .14-.35 .13 .61 .14 .24 .13-.81 .13 .5 .14-.22 .13 .39 .14-.42 .13 .08 .14 .12 .13 .08 .14-.85 .13 .37 .14 .54 .13-.28 .14-.08 .13 .19 .13-.13 .14-.36 .13 .18 .14 0 .13 .33 .14-.26 .13-.17 .14 .53 .13 .02 .14 .28 .13 .05 .14-.77 .13 .24 .14 .21 .13-.05 .13 .04 .14-.03 .13-.11 .14-.15 .13 .58 .14-.82 .13 .63 .14-.34 .13-.16 .14 .75 .13-.39 .14-.6 .13 .13 .13 .39 .14-.55 .13 .33 .14 .46 .13-.23 .14-.35 .13-.09 .14-.06 .13-.3 .14 .05 .13-.11 .14 .46 .13-1.09 .14 .66 .13-.6 .13-.34 .14 .4 .13-.23 .14 .09 .13-.49 .14 0 .13-.35 .14-.24 .13-.45 .14 .14 .13 .11 .14 .01 .13-.99 .13 .67 .14-.14 .13 .26 .14-.3 .13-.46 .14 1 .13-.49 .14-.21 .13 1.09 .14-.07 .13 .26 .14-.17 .13 .39 .14 .15 .13 .32 .13 .12 .14 .01 .13-.21 .14 .63 .13-.54 .14 .78 .13 .22 .14-.33 .13 .09 .14 .06 .13 .04 .14-.06 .13 .64 .13 .08 .14-.1 .13-.42 .14 .23 .13-.45 .14 1.08 .13-.71 .14 .45 .13-.21 .14-.28 .13 .36 .14-.28 .13-.02 .14 .26 .13 .11 .13-.17 .14-.1 .13 .41 .14 .08 .13-.12 .14-.26 .13 .12 .14-.05 .13-.03 .14 .21 .13-.09 .14-.08 .13 .32 .13 .25 .14-.38 .13-.09 .14 .3 .13 .12 .14-.93 .13 .49 .14-.34 .13 .39 .14 .07 .13-.16 .14-.16 .13 .06 .13 .35 .14-.47 .13 .17 .14 .06 .13 .06 .14-.28 .13 .19 .14-.23 .13-.51 .14 .12 .13-.03 .14 .24 .13-.37 .14-.44 .13 .58 .13-.43 .14 .25 .13-.54 .14 .01 .13 .34 .14-.61 .13 .44 .14-.55 .13 .5 .14-.16 .13 .29 .14-.23 .13 .72 .13-.76 .14 .2 .13 .73 .14-.61 .13 .46 .14-.11 .13 .7 .14-.41 .13 .45 .14-.19 .13 .09 .14-.26 .13 .3 .14-.1 .13-.32 .13-.07 .14 .1 .13-.05 .14 .04 .13-.81 .14-.05 .13-.34 .14-.66 .13-.48 .14-1.15 .13-.14 .14-.3 .13-1.32 .13-.62 .14-.78 .13-.32 .14-.49 .13-.74 .14 .26 .13-.13 .14 .09 .13 .72 .14 1.12 .13-.27 .14 1.2 .13-.12 .14 1.25 .13 .58 .13 .86 .14 .57 .13 .27 .14 .29 .13 .19 .14 .31 .13-.35 .14-.8 .13 .82 .14-.65 .13 .16 .14-.66 .13-.2 .13 .12 .14-.54 .13 .13 .14-.35 .13-.43 .14 .22 .13 .11 .14 .05 .13-.1 .14 1.19 .13-.17 .14 .2 .13 .4 .14 .57 .13 .5 .13-.34 .14 .56 .13 .59 .14-.4 .13 .26 .14 .56 .13-.06 .14 .12 .13-.17 .14 .13 .13-.25 .14 .73 .13-.02 .13-.37 .14 .51 .13-.16 .14 .11 .13-.25 .14 .01 .13 .18 .14-.13 .13-.06 .14 .22 .13-.27 .14 .29 .13-.16 .13 .03 .14 .29 .13-.04 .14-.63 .13 .1 .14 .04 .13 .32 .14-.17 .13 .46 .14-.1 .13-.32 .14 .29 .13 .15 .14 .01 .13-.11 .13-.19 .14 .03 .13-.16 .14-.05 .13-.03 .14-.14 .13 .11 .14 .18 .13 .23 .14-.31 .13 .01 .14-.07 .13 .12 .13 .25 .14-.4 .13 .22 .14-.27 .13 .4 .14 .08 .13-.02 .14 .14 .13-.16 .14 .06 .13-.47 .14-.21 .13 .82 .14-.49 .13 .04 .13-.47 .14 .3 .13-.13 .14 .37 .13-.59 .14 .51 .13-.44 .14 .24 .13 .4 .14-.42 .13 .12 .14-.2 .13 .23 .13 .14 .14-.35 .13 .29 .14 .25 .13 .25 .14 .28 .13-.6 .14-.37 .13 .24 .14-.01 .13 .18 .14-.14 .13 0 .14-.05 .13-.06 .13 .11 .14 .15 .13 .06 .14-.01 .13-.06 .14-.22 .13 .15 .14-.27 .13 .54 .14-.2 .13-.08 .14 .02 .13-.19 .13 .79 .14-.55 .13 .22 .14-.41 .13-.01 .14 .15 .13 .33 .14-.1 .13-.15 .14 .02 .13 .23 .14-.42 .13-.17 .14 .39 .13 .1 .13-.23 .14-.01 .13 .46 .14-.19 .13 .38 .14-.43 .13-.34 .14 .65 .13-.49 .14 .1 .13 .08 .14 0 .13 .22 .13-.21 .14-.23 .13 .41 .14-.35 .13 .32 .14-.25 .13 .13 .14 .06 .13-.14 .14-.08 .13 .34 .14-.04 .13-.26 .13 .26 .14 .15 .13-.39 .14-.09 .13 .38 .14 0 .13-.46 .14 .35 .13-.19 .14 .5 .13-.53 .14 .01 .13-.02 .14-.04 .13 .47 .13-.23 .14-.14 .13-.41 .14 .78 .13-.71 .14 .29 .13-.14 .14 .05 .13 .31 .14-.24 .13-.26 .14 .26 .13-.3 .13-.11 .14 .88 .13-.75 .14 .27 .13-.39 .14-.05 .13 .76 .14-.49 .13-.39 .14 .18 .13 .38 .14-.51 .13 .09 .14 .01 .13 .19 .13-.34 .14 .02 .13 .66 .14-.47 .13 .4 .14 .04 .13 .13 .14-.21 .13-.07 .14 .29 .13 .02 .14 .05 .13 .16 .13-.02 .14-.15 .13-.06 .14 .54 .13-.41 .14-.22 .13-.18 .14 .41 .13 .04 .14-.42 .13 .51 .14-.3 .13 .21 .14-.11 .13 .35 .13-.31 .14 .43 .13-.34 .14 .28 .13-.26 .14-.11 .13-.01 .14 .18 .13-.04 .14-.02 .13-.09 .14 0 .13 .1 .13 .1 .14-.7 .13 .28 .14 .06 .13 .26 .14 .31 .13-.28 .14-.07 .13 .22 .14-.16 .13 0 .14 .04 .13-.15 .14 0 .13 .26 .13-.21 .14 .27 .13-.19 .14 .21 .13-.18 .14-.13 .13-.06 .14 .52 .13-.29 .14 .07 .13 .02 .14 .03 .13 .25 .13-.63 .14 .3 .13 .05 .14 .1 .13-.25 .14 .25 .13 .03 .14-.09 .13-.25 .14 .11 .13 .28 .14-.48 .13 0 .13 .14 .14 .16 .13-.3 .14 .22 .13-.15 .14-.09 .13 .26 .14 .16 .13-.36 .14-.15 .13 .55 .14-.51 .13 .14 .14 .12 .13 .24 .13-.5 .14-.19 .13 .25 .14-.14 .13-.2 .14 .49 .13-.45 .14 .53 .13-.22 .14-.01 .13 .5 .14-.12 .13-.29 .13 .14 .14-.05 .13 .19 .14-.01 .13 .03 .14-.3 .13 .06 .14-.01 .13 .36 .14-.31 .13-.24 .14 .04 .13 .34 .14-.27 .13 .03 .13-.18 .14 .14 .13-.14 .14 .47 .13-.07 .14-.01 .13 .08 .14-.21 .13-.03 .14 .04 .13-.08 .14 .15 .13-.14 .13-.12 .14 .2 .13 .12 .14 .01 .13-.16 .14 .48 .13-.45 .14 .48 .13-.17 .14-.07 .13 .18 .14-.36 .13-.2 .14 .32 .13 .03 .13-.22 .14 .25 .13-.34 .14 .43 .13-.45 .14 .33 .13 .29 .14-.28 .13-.49 .14 .02 .13 .23 .14 .1 .13-.14 .13 .43 .14-.34 .13 .21 .14-.41 .13 .19 .14-.11 .13 .42 .14-.15 .13 .19 .14-.43 .13-.07 .14 .57 .13 .1 .14-.56 .13 .35 .13-.08 .14-.09 .13-.05 .14-.22 .13 .1 .14 0 .13 .21 .14 .02 .13 .07 .14 .01 .13 .09 .14-.32 .13 .22 .13-.26 .14-.01 .13 .03 .14 .42 .13-.64 .14 .37 .13 .07 .14-.22 .13 .28 .14-.42 .13 .18 .14-.15 .13 .19 .13 .09 .14-.06 .13 .17 .14 .05 .13-.32 .14-.05 .13 .18 .14 .17 .13-.22 .14 .14 .13 .42 .14-.67 .13 .2 .14 .24 .13-.3 .13 .07 .14-.01 .13-.25 .14 .17 .13-.2 .14 .3 .13 .19 .14-.22 .13-.06 .14 .12 .13-.18 .14-.09 .13 .27 .13-.04 .14 .2 .13-.29 .14 .03 .13 .02 .14 .12 .13-.36 .14 .43 .13-.31 .14 .11 .13 .01 .14 .32 .13-.12 .14-.25 .13 .18 .13 .16 .14-.08 .13-.21 .14 .21 .13 .18 .14-.22 .13-.2 .14 .18 .13 .03 .14-.11 .13-.15 .14 .25 .13 .03 .13-.23 .14-.16 .13 .68 .14-.25 .13-.17 .14-.41 .13 .79 .14-.36 .13-.01 .14-.02 .13-.2 .14 .42 .13-.04 .14-.29 .13 .2 .13-.21 .14-.12 .13 .23 .14-.11 .13 .51 .14-.43 .13 .47 .14-.36 .13-.05 .14-.09 .13 .14 .14-.38 .13 .16 .13 .01 .14-.45 .13 .03 .14 .3 .13-.04 .14-.26 .13 .26 .14-.06 .13-.1 .14 .19 .13-.27 .14-.24 .13-.2 .14 .33 .13-.28 .13 .2 .14-.27 .13 .02 .14 .18 .13-.09 .14 0 .13 .17 .14-.1 .13 .25 .14 .02 .13-.15 .14 0 .13 .52 .13-.12 .14 .06 .13 .15 .14 .05 .13 .02 .14-.4 .13 .1 .14 .55 .13-.28 .14 .12 .13-.24 .14-.25 .13 .48 .13-.13 .14 .16 .13-.48 .14 .46 .13 .16 .14-.2 .13 .26 .14-.13 .13 .07 .14-.06 .13 .01 .14 .05 .13-.23 .14-.18 .13 .33 .13-.18 .14-.11 .13 .12 .14-.27 .13 .16 .14 .06 .13 .16 .14-.03 .13 .34 .14-.51 .13-.06 .14 .22 .13-.42 .13 .43 .14-.34 .13 .2 .14 .31 .13 .1 .14-.63 .13 .65 .14-.45 .13 .16 .14-.05 .13-.16 .14 .02 .13 .43 .14-.38 .13 .17 .13-.35 .14 .04 .13 .16 .14-.25 .13-.31 .14 .2 .13-.14 .14 .01 .13 .02 .14-.06 .13-.02 .14 .01 .13-.11 .13 .26 .14-.05 .13-.34 .14 .49 .13-.04 .14-.08 .13 .07 .14 .31 .13-.29 .14-.4 .13 .36 .14 .08 .13 .19 .14-.13 .13 .69 .13-.46 .14-.24 .13 .63 .14-.12 .13-.19 .14-.29 .13 .1 .14 .55 .13-.94 .14 .61 .13 .01 .14 .21 .13-.05 .13-.28 .14 .31 .13-.15 .14-.38 .13 .38 .14-.12 .13-.01 .14 .14 .13-.24 .14 .04 .13-.04 .14 .39 .13-.29 .14 .24 .13-.32 .13 .11 .14-.02 .13-.21 .14 .36 .13-.44 .14-.16 .13-.14 .14 .11 .13 .04 .14-.07 .13-.17 .14 .27 .13-.63 .13 .01 .14-.01 .13 .21 .14-.61 .13-.13 .14 .37 .13-.11 .14 .28 .13-.08 .14-.21 .13 .16 .14 .05 .13-.46 .13 .38 .14-.25 .13 .39 .14-.29 .13 .17 .14-.02 .13-.13 .14 .49 .13-.28 .14 .19 .13 .23 .14 .02 .13 .46 .14-.42 .13 .06 .13 .09 .14 .28 .13-.36 .14 .12 .13 .23 .14-.07 .13 .29 .14-.19 .13 .06 .14 .41 .13-.3 .14-.08 .13 .35 .13-.31 .14 .07 .13 .08 .14-.01 .13 .2 .14-.25 .13 .27 .14-.11 .13 .02 .14 .1 .13-.12 .14-.03 .13 .09 .14 .24 .13-.06 .13 .03 .14-.22 .13 .28 .14-.2 .13 .04 .14-.13 .13-.02 .14 .37 .13-.14 .14-.09 .13-.26 .14 .04 .13-.22 .13 .13 .14 .5 .13-.44 .14 .17 .13 .07 .14-.11 .13-.11 .14 .3 .13 .2 .14-.37 .13 .03 .14 .07 .13 .03 .14-.13 .13 .29 .13-.31 .14-.13 .13 .05 .14 .02 .13 .31 .14-.02 .13-.2 .14 .22 .13-.18 .14 .25 .13-.36 .14 .35 .13-.09 .13-.11 .14 .19 .13 .18 .14-.66 .13 .17 .14-.1 .13 .12" fill="none" stroke="#ff18ee" stroke-width="0.78" stroke-linejoin="round"/>
<path d="M35 461.96l.13-1.49 .14 .97 .13 .69 .14-.41 .13 .46 .14-.62 .13-.77 .14 .81 .13-1.13 .14 .73 .13 .55 .14-.12 .13-.41 .13 .32 .14 .73 .13-.77 .14 .04 .13-.34 .14 .49 .13-.14 .14-.57 .13-.71 .14 1.05 .13 .47 .14-1.03 .13 .87 .14 .72 .13-1.8 .13 .98 .14 .19 .13 .56 .14-1.34 .13 1.22 .14-.55 .13 .16 .14 .22 .13-.16 .14-.54 .13-.4 .14 1.54 .13-1.32 .13 .72 .14-1.51 .13 1.43 .14-.23 .13-.93 .14 1.33 .13-.44 .14-.42 .13 .59 .14-.58 .13 .89 .14-1.37 .13 .18 .14 1.18 .13-.85 .13-.34 .14 .14 .13 .72 .14-.44 .13-.32 .14 .74 .13-.39 .14-.39 .13 1.39 .14-1.42 .13 .04 .14 .3 .13 .87 .13-.28 .14-.42 .13 .03 .14 .96 .13-.07 .14-1.17 .13 .33 .14 .48 .13-.51 .14 .19 .13 .85 .14-1.21 .13 .29 .14-1.98 .13 2.12 .13-.93 .14 1.47 .13-1.83 .14 1.48 .13-.74 .14 .32 .13-.5 .14 1.22 .13-2.07 .14-.03 .13 1.58 .14-.12 .13-.91 .13 .88 .14-1.24 .13 .67 .14-.58 .13 .54 .14 .96 .13 .34 .14-1.72 .13 .8 .14 .23 .13-.82 .14 .42 .13 1.25 .14-.03 .13-1.69 .13 .58 .14-.99 .13 .13 .14 1.08 .13-1.01 .14 1.02 .13-1.1 .14 .57 .13-.96 .14 .78 .13-.48 .14 .01 .13 .17 .13-1.7 .14-1.45 .13-.44 .14-1.65 .13-.65 .14-.07 .13-3.09 .14-.02 .13 2.11 .14 1.09 .13 2.13 .14 .51 .13 .7 .13 1.48 .14 1.05 .13 .32 .14 1.19 .13-.97 .14 .82 .13-1.01 .14 .25 .13 .06 .14-.61 .13 2.26 .14-.94 .13-.95 .14 .21 .13 .98 .13-.46 .14-1.22 .13 1.1 .14 .11 .13 .16 .14-.15 .13-.18 .14 1 .13-.64 .14 .1 .13-.29 .14 .77 .13-1.41 .13 .68 .14 .43 .13 .62 .14-.6 .13-.18 .14 .12 .13 .24 .14 .58 .13-.85 .14-.48 .13 1.73 .14-1.73 .13 .75 .14-.91 .13 .46 .13 .53 .14 .05 .13-1.54 .14 .92 .13 .12 .14 .63 .13-.38 .14-.3 .13 .93 .14-1.51 .13 .61 .14 .49 .13 1.19 .13-.31 .14-1.12 .13 1.48 .14-1.07 .13 0 .14-.68 .13-.39 .14 .24 .13 .84 .14-.58 .13 .79 .14-.11 .13-.18 .14-.23 .13 .25 .13-.66 .14 .29 .13 1.22 .14-.3 .13-.23 .14-.79 .13 .69 .14 0 .13-.59 .14 .26 .13 .94 .14-1.77 .13 1.46 .13-1.22 .14 .4 .13 .49 .14-.39 .13 .38 .14 1.01 .13-.17 .14 .61 .13-.63 .14-.9 .13 .18 .14 .42 .13-.31 .14 .19 .13-.44 .13 .32 .14-.43 .13 .73 .14 .18 .13-.99 .14 .18 .13 .85 .14-.38 .13 .45 .14-1.54 .13-.62 .14 .49 .13 .58 .13-.52 .14 .17 .13-.22 .14 1.33 .13-1.75 .14 1.12 .13-.02 .14-1.1 .13-.11 .14 1.55 .13-1.73 .14 .44 .13 1.08 .13 .01 .14-.97 .13 .85 .14-2.02 .13 .8 .14-.29 .13 .67 .14-.21 .13 .02 .14-.41 .13 .31 .14 .59 .13-.85 .14-.43 .13 .61 .13-.17 .14-.5 .13-.97 .14 .32 .13-1.61 .14-.15 .13-1.31 .14-2.91 .13-4.63 .14-5.67 .13-7.62 .14-10.04 .13-9.92 .13-10.29 .14-10.62 .13-5.47 .14-3.02 .13 3.22 .14 5.47 .13 9.97 .14 10.04 .13 11.1 .14 9.25 .13 8.11 .14 6.26 .13 3.71 .14 2.67 .13 1.41 .13 2.32 .14 .23 .13-.54 .14 .63 .13 1.28 .14-1.15 .13-.05 .14 .12 .13 .71 .14-.84 .13 1.46 .14-.93 .13-.27 .13 .84 .14-.08 .13 .87 .14-1.14 .13 .27 .14-.65 .13-.06 .14 .47 .13-.15 .14 .33 .13-.29 .14 .37 .13-.48 .14 .2 .13 .19 .13-.45 .14 .25 .13 .66 .14 .35 .13-1.18 .14 .36 .13-1.18 .14-.47 .13 .72 .14 .17 .13 .95 .14-1.05 .13 .27 .13-.58 .14 .81 .13-.88 .14-1.24 .13-2.7 .14-1.99 .13-3.68 .14-3.42 .13-4.5 .14-5.49 .13-2.72 .14-4.59 .13-.9 .14 .64 .13 2.43 .13 3.19 .14 6.46 .13 5.08 .14 4.64 .13 3.36 .14 2.06 .13 1.67 .14 1.13 .13 .95 .14-.58 .13 .5 .14 .61 .13-.68 .13 .72 .14 .43 .13 .11 .14-.9 .13 1.15 .14 .81 .13-.81 .14-.84 .13 .67 .14-.11 .13-.09 .14-1.17 .13 .94 .13-.28 .14-.6 .13 1.16 .14-.1 .13-.69 .14-.45 .13-2.42 .14 .71 .13-2.03 .14-3.36 .13-3.31 .14-5.41 .13-5.36 .14-10.48 .13-7.86 .13-10.38 .14-8.42 .13-7.09 .14-3.17 .13 .49 .14 2.11 .13 7.37 .14 8.44 .13 11.12 .14 7.88 .13 9.24 .14 6.33 .13 5.7 .13 4.2 .14 2.19 .13 2.48 .14 .94 .13 .07 .14 .74 .13-.14 .14 .79 .13 .09 .14 .26 .13 .8 .14-.56 .13 .38 .14 .51 .13-.49 .13-.7 .14 .7 .13 .54 .14 .49 .13-.46 .14-.22 .13-.02 .14 .13 .13-.03 .14-1.88 .13-.05 .14-1.02 .13 .14 .13-.96 .14-2.25 .13 .14 .14 .63 .13 .41 .14 .98 .13 .55 .14-.38 .13 2.23 .14 .56 .13 1.13 .14 .01 .13 .5 .14-.02 .13 .12 .13 1.2 .14-.97 .13 .59 .14-.69 .13 .37 .14-.04 .13 .43 .14 .26 .13 .11 .14-1.22 .13 .54 .14 .43 .13-.09 .13 .21 .14 .02 .13 .08 .14-.26 .13 .19 .14 .61 .13-.65 .14 .03 .13 .39 .14-.83 .13 .92 .14-.63 .13 .84 .14-.49 .13 .21 .13 1.54 .14-1.95 .13 .8 .14 .62 .13 .01 .14-.58 .13 .18 .14-.25 .13-.45 .14 .58 .13-.89 .14 1.19 .13-.83 .13 .83 .14-.23 .13-.11 .14 .53 .13-.55 .14 .67 .13-.35 .14 .02 .13 .22 .14 .72 .13-.82 .14 .45 .13-.48 .13-.22 .14 .76 .13-.55 .14 .64 .13-.12 .14-.99 .13 1.05 .14-.84 .13 .81 .14-.87 .13 1.48 .14-.61 .13-.49 .14 .08 .13 .09 .13 .03 .14 .51 .13-.33 .14-.25 .13-.01 .14 .66 .13 .14 .14-.25 .13 .15 .14-.39 .13 .5 .14 0 .13 .22 .13-.07 .14-.91 .13 .76 .14-.21 .13-.6 .14 1.3 .13-.61 .14-.45 .13 .22 .14 .39 .13-.25 .14 .17 .13 .12 .14-.28 .13-.36 .13-.21 .14 .81 .13-.45 .14 .03 .13 .12 .14 .22 .13-.19 .14 .28 .13-.23 .14-.38 .13 .66 .14 .07 .13-.17 .13-.06 .14-.29 .13 .57 .14-.62 .13 .15 .14 .42 .13-.77 .14 .53 .13 .17 .14-.42 .13 .14 .14-.42 .13 .38 .14-.18 .13 .09 .13 .54 .14-.15 .13-.23 .14 .75 .13-.51 .14-.1 .13 .33 .14-.53 .13-.29 .14 .43 .13-.54 .14 .29 .13-.02 .13-.04 .14-.11 .13 .36 .14-.6 .13 .55 .14-.01 .13 .29 .14-.09 .13 .41 .14-.42 .13 .17 .14-.73 .13 1.13 .14-.14 .13-1.14 .13 1 .14-.22 .13 .17 .14 .1 .13-.3 .14 .15 .13-.14 .14 .38 .13-.04 .14-.38 .13-.22 .14 .52 .13 .32 .13-.75 .14 .58 .13-.05 .14-.91 .13 .61 .14 .66 .13-.15 .14-.68 .13 .82 .14 .18 .13-.41 .14-.86 .13 .55 .13-.04 .14 .18 .13-.33 .14 .87 .13-.87 .14-.07 .13 .41 .14-.57 .13-.22 .14 1.1 .13-.34 .14-.34 .13 .55 .14-.71 .13 .22 .13 .36 .14-.31 .13-.2 .14-.08 .13 .44 .14 .27 .13-1.12 .14 .75 .13-.46 .14-.1 .13-.15 .14 .37 .13-.54 .13 .16 .14 .05 .13-.29 .14-.24 .13 .29 .14-.21 .13-.75 .14-.15 .13 .46 .14-1.22 .13 .01 .14-.29 .13-.04 .14-.3 .13-.27 .13-.17 .14-.12 .13-1.13 .14-.16 .13 1.11 .14-1.61 .13 .72 .14 .26 .13-.81 .14 .6 .13-.08 .14-.06 .13 .82 .13-.73 .14-.37 .13 2.2 .14-.68 .13-.44 .14 .5 .13 1.03 .14 .48 .13-.81 .14 1.27 .13-.28 .14 .13 .13 .8 .14 .28 .13 .07 .13 .56 .14-.3 .13 .05 .14 .2 .13 .11 .14-.08 .13 .53 .14 .18 .13-.41 .14-.38 .13 1.16 .14-.7 .13-.05 .13 .15 .14-.1 .13 .3 .14 .1 .13 .07 .14-.2 .13-.6 .14 .49 .13-.4 .14 .35 .13 .8 .14-.22 .13-.47 .14 .08 .13 .49 .13-.29 .14 .28 .13-.44 .14 .11 .13 .36 .14-.84 .13 .67 .14 .14 .13-.08 .14-.36 .13 .65 .14-.93 .13 .23 .13 .36 .14-.56 .13 .76 .14-.39 .13-.02 .14 .53 .13-.56 .14 .67 .13-1.09 .14 .95 .13-.24 .14-.68 .13 .26 .13 .91 .14-.74 .13-.08 .14 .07 .13 .05 .14 .23 .13-.55 .14 .23 .13 .25 .14-.2 .13 .79 .14-.35 .13-.43 .14 .05 .13-.01 .13 .07 .14-.29 .13 .68 .14-.19 .13-.02 .14-.21 .13 .37 .14-.23 .13-.28 .14 .09 .13 .2 .14-.79 .13 .83 .13 .1 .14-.14 .13 .27 .14-.71 .13 .34 .14-.22 .13 .03 .14 .86 .13-.47 .14 .63 .13-.74 .14 .21 .13 .1 .14-.31 .13 .02 .13-.02 .14-.57 .13 .4 .14 .13 .13 .04 .14 .29 .13-.08 .14-.11 .13-.17 .14-.02 .13 .57 .14-.86 .13 .48 .13-.38 .14 .45 .13 .42 .14-.28 .13 .36 .14-.47 .13-.11 .14 .08 .13-.38 .14 .47 .13-.05 .14 .28 .13 .34 .14 .07 .13-.28 .13-.26 .14 .21 .13 .33 .14-.69 .13 .06 .14-.12 .13-.34 .14 .58 .13-.08 .14-.38 .13-.04 .14-.45 .13-.38 .13 .04 .14 .37 .13-.49 .14-.18 .13 .24 .14-.39 .13 .27 .14 .46 .13-.19 .14 .06 .13 .1 .14 .17 .13 .64 .14 .02 .13-.13 .13-.2 .14 .02 .13 .16 .14-.88 .13 .32 .14 .45 .13 .03 .14 .42 .13-.64 .14 .17 .13-.23 .14 .47 .13 .14 .13-.21 .14 .08 .13 .22 .14-.32 .13 .28 .14-.43 .13 .6 .14-.27 .13-.12 .14 .28 .13-.09 .14-.03 .13-.48 .13-.07 .14 .1 .13 .48 .14-.51 .13-.17 .14-.07 .13 .16 .14-.08 .13 .41 .14 .33 .13-.58 .14-1.08 .13 .94 .14-.68 .13-.37 .13-.89 .14-1.03 .13-1.23 .14-1.3 .13-2.25 .14-2.91 .13-1.82 .14-3.65 .13-3.58 .14-2.16 .13-1.44 .14-.98 .13 1.17 .13 .6 .14 3.27 .13 3.01 .14 3.46 .13 2.58 .14 2.66 .13 2.27 .14 1.97 .13 .57 .14 .8 .13 .43 .14 .5 .13 1.25 .14-.19 .13 .03 .13-.23 .14-.01 .13 .43 .14 .13 .13 .1 .14 .15 .13 .1 .14-.57 .13 .5 .14-.32 .13-.08 .14 .26 .13-.24 .13 .34 .14-.18 .13-.1 .14 .53 .13-.15 .14-.35 .13-.05 .14 .47 .13-.4 .14 .72 .13-.47 .14 .03 .13 .11 .14-.02 .13 .44 .13-.49 .14 .09 .13 .47 .14-.15 .13-.18 .14 .14 .13-.57 .14 .41 .13-.12 .14-.01 .13 .22 .14 .18 .13-.47 .13 .48 .14-.69 .13 .41 .14 .08 .13-.11 .14-.07 .13-.25 .14 .26 .13 .34 .14 .17 .13-.8 .14 .04 .13 .27 .14-.15 .13-.23 .13 .55 .14-.23 .13-.35 .14 .28 .13 .03 .14 .23 .13 .41 .14-.29 .13 .15 .14-.45 .13 .21 .14 .23 .13-.35 .13 .37 .14 .01 .13-.49 .14 .15 .13 .36 .14 .27 .13-.41 .14-.07 .13 .01 .14-.07 .13-.1 .14 .38 .13-.56 .13 .69 .14-.7 .13 .33 .14-.12 .13 .23 .14-.03 .13-.38 .14-.33 .13 .21 .14-.11 .13 .54 .14-.47 .13 .44 .14 .05 .13-.14 .13 .09 .14 .23 .13-.21 .14-.35 .13-.24 .14-.1 .13 0 .14 .55 .13-.22 .14 .03 .13 .29 .14-.53 .13 .75 .13-.65 .14-.06 .13 .03 .14-.01 .13-.21 .14-.03 .13 .17 .14-.12 .13-.21 .14 .01 .13-.02 .14 .04 .13-.31 .14-.54 .13-.05 .13-.26 .14 .16 .13-.91 .14-.16 .13-.35 .14-.8 .13 .59 .14-.36 .13-.89 .14 .13 .13-1.15 .14-.13 .13-.34 .13-.65 .14 .92 .13-.62 .14 .16 .13-.16 .14 .13 .13 .41 .14 .13 .13 .72 .14 .01 .13 .38 .14 .49 .13-.05 .14 .33 .13 .84 .13-.04 .14 .63 .13 .25 .14 .38 .13 .36 .14 .09 .13 .29 .14-.28 .13 .26 .14 .4 .13 .25 .14-.76 .13 .73 .13-.16 .14 .49 .13-.53 .14 .34 .13 .4 .14-.26 .13-.08 .14 .33 .13 .07 .14-.65 .13 .55 .14-.09 .13-.1 .14 .09 .13 .44 .13-.43 .14 .05 .13-.29 .14 .3 .13 .02 .14 .18 .13-.41 .14 .44 .13-.31 .14-.13 .13 .23 .14-.26 .13 .45 .13 .03 .14 .11 .13-.51 .14 .24 .13-.3 .14 .36 .13-.04 .14 .01 .13 .31 .14-.05 .13-.1 .14-.05 .13-.34 .13 .09 .14 .03 .13-.02 .14-.1 .13-.06 .14-.15 .13-.02 .14 .25 .13-.26 .14-.47 .13 .37 .14 .21 .13-.51 .14-.16 .13-.22 .13-.02 .14-.32 .13-.29 .14-.2 .13 .15 .14 .1 .13-.19 .14-.28 .13 .31 .14-.02 .13 .23 .14 .05 .13-.09 .13 .68 .14-.15 .13 .18 .14 .26 .13 .42 .14-.24 .13-.37 .14 .37 .13-.32 .14 .25 .13 .07 .14 .27 .13-.58 .14 .82 .13 .18 .13-.85 .14-.23 .13 .25 .14 .45 .13-1.08 .14-.23 .13-.78 .14 .17 .13-1.27 .14-.87 .13-1.09 .14-.54 .13-.81 .13-1.2 .14-.98 .13-.97 .14-.37 .13-.48 .14-.1 .13 .19 .14 .04 .13 1.52 .14 .4 .13-.01 .14 1.97 .13 .8 .14 .41 .13 1.35 .13 .23 .14 .82 .13 .52 .14-.12 .13 .65 .14 .25 .13-.22 .14-.6 .13-.5 .14 .16 .13-.64 .14-.15 .13 .5 .13-1.23 .14-.33 .13 .02 .14 .11 .13-.2 .14-.17 .13 .28 .14 .29 .13 .43 .14 .18 .13-.07 .14 .54 .13 .5 .14-.04 .13 .89 .13 .3 .14 .48 .13 .25 .14 .22 .13 .16 .14 .03 .13 .35 .14 .18 .13 .38 .14-.37 .13 .08 .14 .8 .13-.49 .13 .12 .14-.25 .13 .31 .14-.38 .13 .24 .14 .06 .13-.33 .14-.15 .13 .42 .14 .11 .13-.55 .14 .85 .13-.52 .13 .02 .14 .32 .13-.27 .14 .26 .13-.24 .14 .35 .13-.34 .14 .29 .13-.53 .14 .34 .13-.02 .14 .1 .13-.27 .14 .09 .13 .03 .13 .16 .14-.13 .13-.02 .14 .17 .13 .15 .14-.3 .13 .03 .14 .61 .13-.41 .14-.04 .13 .03 .14 .17 .13-.05 .13-.1 .14-.34 .13 .55 .14-.34 .13 .33 .14-.3 .13 .03 .14-.6 .13 .33 .14 .08 .13 .3 .14-.22 .13-.15 .14 .31 .13-.21 .13 .09 .14 .07 .13-.11 .14-.28 .13-.31 .14 .47 .13 .09 .14-.42 .13 .06 .14 .34 .13-.28 .14-.02 .13 .09 .13 .43 .14 .05 .13-.82 .14 .83 .13-.33 .14-.08 .13 .43 .14-.09 .13 .11 .14-.21 .13 .5 .14-.32 .13 .04 .14-.17 .13 .25 .13-.44 .14 .03 .13 .14 .14-.16 .13 .12 .14 .36 .13-.3 .14-.08 .13 .65 .14-.34 .13 .15 .14 .02 .13 .16 .13 .11 .14-.74 .13 .15 .14-.01 .13 .37 .14-.26 .13 .24 .14-.16 .13-.06 .14 .18 .13-.08 .14-.09 .13 .26 .14-.14 .13 .08 .13 .09 .14-.32 .13 .21 .14 .09 .13 .2 .14-.35 .13-.07 .14 .21 .13-.05 .14-.24 .13 .41 .14-.48 .13-.06 .13 .34 .14-.03 .13-.41 .14 .41 .13-.5 .14 .49 .13-.13 .14 .14 .13 .03 .14-.18 .13 .28 .14-.29 .13 .27 .13-.26 .14 .08 .13-.25 .14-.08 .13 .08 .14 .25 .13-.19 .14 .04 .13 .27 .14-.44 .13 .46 .14-.17 .13 .11 .14-.06 .13-.05 .13-.28 .14 .09 .13 .09 .14-.02 .13-.1 .14 .31 .13-.08 .14-.24 .13 .28 .14-.17 .13-.31 .14 .21 .13 .22 .13-.53 .14 .22 .13 .14 .14-.65 .13 .21 .14-.05 .13 .26 .14-.2 .13 .33 .14-.15 .13-.15 .14 .12 .13 .05 .14-.09 .13 .01 .13 .16 .14-.01 .13 .12 .14 .1 .13 .14 .14 .25 .13-.05 .14 .16 .13-.39 .14 .29 .13-.34 .14 .2 .13-.05 .13-.12 .14 .06 .13 .03 .14 .07 .13 .54 .14-.74 .13 .35 .14 .26 .13-.35 .14 .09 .13-.02 .14 .16 .13 .02 .14 .07 .13-.27 .13 .08 .14-.35 .13 .28 .14 0 .13 .3 .14-.19 .13-.32 .14 .3 .13 .53 .14-.42 .13-.09 .14 .04 .13 .11 .13-.26 .14 .13 .13-.18 .14 .05 .13 .03 .14 .09 .13-.14 .14 .41 .13 .05 .14-.34 .13 .08 .14 .08 .13 .03 .14-.28 .13 .22 .13-.16 .14-.03 .13-.14 .14 .09 .13-.02 .14 .12 .13 .22 .14-.22 .13 .1 .14 .08 .13-.07 .14-.3 .13 .42 .13 .02 .14-.56 .13 .09 .14-.18 .13 .39 .14 .32 .13-.34 .14 .04 .13-.36 .14 .2 .13 .03 .14-.06 .13 .16 .13 .16 .14-.22 .13 .37 .14-.32 .13 .38 .14-.25 .13 .2 .14-.37 .13 .18 .14-.21 .13-.23 .14 .6 .13-.38 .14-.25 .13 .7 .13-.3 .14 .14 .13-.08 .14 .1 .13-.24 .14 .09 .13 .14 .14-.04 .13-.2 .14 .19 .13 .13 .14-.09 .13 .14 .13 0 .14-.03 .13 .24 .14-.52 .13 .32 .14-.19 .13 .12 .14 .05 .13-.51 .14 .02 .13 .04 .14 .2 .13 .18 .14-.15 .13-.17 .13 .02 .14 .52 .13-.24 .14 .21 .13-.25 .14 .28 .13-.61 .14 .35 .13-.03 .14-.11 .13 .1 .14-.05 .13 .01 .13-.07 .14 .17 .13-.18 .14-.26 .13 .18 .14-.23 .13 .36 .14 .11 .13 .32 .14-.23 .13 .56 .14-.44 .13-.21 .14-.1 .13 .29 .13-.53 .14 .09 .13 .35 .14-.05 .13-.1 .14 .04 .13 .23 .14-.05 .13-.15 .14-.15 .13 .78 .14-.67 .13 .45 .13-.58 .14 .43 .13-.45 .14 .45 .13-.14 .14-.14 .13 .01 .14 .12 .13-.06 .14 .21 .13-.07 .14-.43 .13 .43 .14 .01 .13-.24 .13-.15 .14 .38 .13-.4 .14 .27 .13 .03 .14-.14 .13-.16 .14 .04 .13 .32 .14-.34 .13-.01 .14 .14 .13 .15 .13 .07 .14 .03 .13 .21 .14-.19 .13-.06 .14 .02 .13 .02 .14-.21 .13-.19 .14 .79 .13-.4 .14 .01 .13 .02 .13-.16 .14-.17 .13 .51 .14-.17 .13-.03 .14-.09 .13 .02 .14 .07 .13-.15 .14-.37 .13 .57 .14 .02 .13-.3 .14 .15 .13-.12 .13 .36 .14-.25 .13 .18 .14 .23 .13-.25 .14 .13 .13 .26 .14-.49 .13-.01 .14-.14 .13 .25 .14-.21 .13 .14 .13-.12 .14 .41 .13-.23 .14 .14 .13 .24 .14-.47 .13 .07 .14-.1 .13 .29 .14 .24 .13-.58 .14 .35 .13-.09 .14-.11 .13-.1 .13-.03 .14 .17 .13-.08 .14 .31 .13-.45 .14-.04 .13 .09 .14 .35 .13-.26 .14 .27 .13-.01 .14-.09 .13 .21 .13-.24 .14 .21 .13-.51 .14 .46 .13-.41 .14 .22 .13 .04 .14-.34 .13 .4 .14-.24 .13 .3 .14-.43 .13 .42 .14-.31 .13 .35 .13-.26 .14 .04 .13-.06 .14-.07 .13-.03 .14 .27 .13-.42 .14 .24 .13 .01 .14-.07 .13-.04 .14-.16 .13-.24 .13 .24 .14 .06 .13-.51 .14 .16 .13-.09 .14 .09 .13-.37 .14 .33 .13-.4 .14 .04 .13 .16 .14-.24 .13-.23 .14-.14 .13 .49 .13-.46 .14 .04 .13 0 .14 .37 .13 .23 .14-.73 .13 .34 .14 .45 .13-.69 .14 .04 .13 .3 .14 .05 .13 .28 .13 .24 .14-.12 .13-.03 .14 .13 .13-.05 .14 .18 .13-.16 .14 .24 .13 .03 .14 .11 .13 .37 .14-.48 .13 .27 .13-.01 .14-.13 .13 .06 .14 .24 .13 .07 .14-.03 .13-.13 .14 .11 .13-.12 .14 .14 .13-.07 .14-.22 .13 .31 .14-.11 .13-.12 .13 .28 .14-.42 .13 .41 .14-.1 .13 .29 .14-.33 .13-.25 .14 .45 .13 .27 .14-.35 .13-.11 .14 .06 .13-.17 .13 .18 .14-.09 .13-.01 .14-.28 .13 .18 .14 .09 .13-.02 .14-.06 .13-.14 .14-.11 .13 .37 .14-.24 .13 .1 .14 .16 .13-.5 .13 .29 .14-.03 .13-.17 .14 .04 .13-.14 .14-.22 .13 .19 .14-.26 .13 .07 .14-.1 .13 .08 .14-.17 .13 .29 .13 .23 .14-.56 .13-.01 .14-.1 .13 .39 .14-.12 .13 .02 .14 .38 .13-.18 .14-.22 .13 .54 .14 .03 .13 .15 .14-.21 .13-.17 .13 .27 .14-.28 .13 .13 .14 .14 .13 .11 .14 .12 .13 .03 .14 .04 .13-.1 .14 .01 .13 .02 .14-.11 .13 .19 .13-.1 .14-.06 .13 .15 .14-.24 .13 .26 .14-.39 .13 .09 .14-.07 .13-.12 .14 .44 .13-.11 .14 .14 .13-.22 .14 .01 .13-.48 .13 .06 .14 .1 .13 0 .14 .13 .13-.1 .14-.28 .13 .22 .14-.47 .13 .1 .14-.11 .13-.3 .14 .34 .13-.26 .13 .03 .14-.25 .13-.06 .14-.24 .13 .16 .14-.34 .13 .26 .14-.55 .13 .21 .14-.03 .13-.16 .14 .24 .13-.18 .13 .32 .14 .03 .13-.15 .14-.1 .13 .16 .14 .42 .13 .12 .14-.02 .13-.27 .14 .39 .13 .01 .14 .42 .13-.27 .14 .29 .13 .23 .13-.16 .14 .07 .13 .2 .14 .29 .13-.31 .14 .28 .13-.3 .14 .47 .13 .01 .14-.26 .13 .19 .14-.01 .13 .15 .13 .16 .14-.17 .13 .05 .14 .32 .13-.46 .14 .17 .13 .22 .14-.19 .13-.08 .14-.06 .13 .02 .14-.13 .13 .05 .14 .09 .13 .1 .13 .28 .14-.58 .13 .37 .14-.04 .13-.43 .14 .33 .13-.13 .14 .19 .13 .29 .14-.41 .13 .07 .14-.17 .13 .01 .13 .02 .14-.05 .13-.08 .14-.05 .13 .33 .14-.06 .13 .09 .14-.21 .13 .52 .14-.2 .13-.08 .14 .2 .13-.28 .14 .16 .13 .02 .13-.08 .14 .15 .13-.17 .14 .02 .13 .05 .14-.03 .13-.16 .14 .08 .13 .18 .14-.15 .13-.04 .14 .47 .13-.33 .13-.06 .14 .21 .13-.17 .14 .01 .13-.07 .14-.05 .13-.16" fill="none" stroke="#1c1c1c" stroke-width="0.78" stroke-linejoin="round"/>
<path d="M326.5 79.75l.13-.21 .14-.06 .13-.77 .14 .49 .13-.31 .13 1.16 .14-.59 .13-.26 .14 .81 .13-1.07 .13 .63 .14-.75 .13 .21 .14-.07 .13 .69 .13-.66 .14-.19 .13 .29 .14-1.35 .13 1.16 .13-.25 .14-.24 .13 1.07 .14-1.26 .13 .69 .13-.66 .14 .67 .13 1.11 .14-1.87 .13 1.01 .13-.59 .14 1.55 .13-.66 .14-1.44 .13 1.39 .13-.43 .14-.47 .13-.13 .14 .05 .13-.09 .13-.43 .14 .64 .13 .24 .14 .54 .13 .11 .13-.01 .14-.29 .13-.13 .14-.75 .13 .68 .13-.08 .14-.05 .13 .02 .14-.19 .13-.44 .13 1.05 .14-.62 .13-.32 .14 1.39 .13-.48 .13-.8 .14-.16 .13-.16 .14 .3 .13 .02 .13 1.08 .14-.83 .13 .21 .14-.82 .13 .66 .13 .86 .14-.14 .13-.51 .14 .15 .13-.88 .13 .18 .14 1.54 .13-1.91 .14 1.36 .13-1.08 .13 .62 .14-.56 .13 .91 .14-1.33 .13 .32 .13 1.11 .14-1.56 .13 .41 .14 .62 .13 .39 .13-.64 .14-.04 .13-.66 .14 .61 .13-.36 .13 .37 .14 .18 .13-.35 .14 .2 .13 .16 .13 .28 .14-.23 .13-.23 .14-.68 .13 1.37 .13-2.1 .14 1.42 .13-.08 .14 .52 .13-1.46 .13 .22 .14-.17 .13-1.42 .14 2.04 .13-.64 .13 .18 .14 .35 .13 .4 .14-1.62 .13 .78 .13-.01 .14-1.67 .13 .77 .14-1.04 .13-.35 .13-4.13 .14-4.93 .13-8.76 .14-11.21 .13-15.26 .13-14.25 .14-9.13 .13-.27 .14 9.14 .13 13.48 .13 16.57 .14 11.38 .13 8.81 .14 4.98 .13 2.76 .13 .88 .14 1.04 .13 .65 .14 .33 .13-.48 .13 .93 .14-.24 .13-.62 .14 1.62 .13-.57 .13 .5 .14-.9 .13 .86 .14-.66 .13-.7 .13 .46 .14 .79 .13 .34 .14-.74 .13-.02 .13 .17 .14-.21 .13-.12 .14 .76 .13 .53 .13 .13 .14 .76 .13-.69 .14-.64 .13 .05 .13-.11 .14 .37 .13 .54 .14 .26 .13-.58 .13 .14 .14 .38 .13-.62 .14 1.12 .13-.42 .13-1.34 .14 1.48 .13-.19 .14-.81 .13 .66 .13-.23 .14-.08 .13 .45 .14-.14 .13-.28 .13-.72 .14 1.36 .13 .48 .14-1.38 .13 .99 .13 .01 .14-.68 .13-.17 .14 .08 .13-.29 .13 .21 .14-.19 .13 .58 .14-.18 .13-.46 .13 .68 .14-.08 .13 .31 .14 .1 .13 .17 .13 .32 .14-.89 .13-.47 .14 1.03 .13-.48 .13 .47 .14-.29 .13-.29 .14 .25 .13-.91 .13 1.52 .14-.26 .13-1.01 .14 .13 .13 1.33 .13-1.28 .14 1.37 .13-1.2 .14 .17 .13 .11 .13 1.14 .14-.64 .13-.74 .14 .76 .13-.1 .13 .7 .14-.47 .13-.34 .14 .3 .13-.71 .13 .62 .14-1.11 .13 .93 .14 .65 .13-.79 .13-.41 .14 .84 .13 .32 .14 .61 .13-1.58 .13 1.36 .14-.87 .13 .47 .14 .36 .13-.07 .13-.03 .14 .61 .13-.39 .14-.5 .13-.45 .13 .86 .14-.31 .13-.64 .14 1.22 .13-.4 .13-.43 .14 .03 .13 .32 .14 .35 .13-.3 .13-.15 .14 .14 .13-.37 .14 .31 .13-.21 .13-.08 .14 .24 .13-.38 .14 .21 .13-1.03 .13-.19 .14 .99 .13-1.73 .14-.1 .13 .44 .13-2.22 .14-1.93 .13-3.44 .14-5.89 .13-8.54 .13-10.69 .14-12.85 .13-12.26 .14-9.71 .13-3.24 .13 3.2 .14 10.83 .13 10.9 .14 11.8 .13 11.48 .13 10.18 .14 5.18 .13 2.35 .14 3.09 .13 1.16 .13 .04 .14 1.23 .13 .6 .14-.59 .13 .86 .13-.33 .14 1.05 .13-.76 .14 .29 .13-.19 .13 .28 .14 .3 .13 .07 .14 .26 .13 .39 .13-.57 .14 .58 .13 .09 .14-.6 .13 .89 .13-.61 .14-.49 .13 .63 .14 .45 .13 .59 .13-.44 .14 .13 .13-.79 .14 .25 .13 .67 .13-.1 .14-.17 .13-.51 .14 .31 .13 .11 .13 .64 .14-1.17 .13 .37 .14 .26 .13-.62 .13 .25 .14 .61 .13-.99 .14-.03 .13-.38 .13 .58 .14-.32 .13-.34 .14-.98 .13-1.26 .13 .52 .14-.57 .13-.55 .14-.53 .13 .08 .13 .34 .14-.77 .13 1.77 .14 .52 .13-.32 .13 .13 .14 1.71 .13 .8 .14 .47 .13 .43 .13-.73 .14 .23 .13 .17 .14 .05 .13-.32 .13-.18 .14 .47 .13-.75 .14 1.5 .13-1.36 .13 .38 .14 .56 .13-.05 .14-.38 .13-.04 .13 .26 .14 .57 .13-.5 .14 .02 .13-.09 .13-.44 .14 .01 .13-.22 .14-.03 .13 .55 .13-.1 .14-.65 .13-.79 .14-.28 .13-3.04 .13-3.29 .14-2.64 .13-5.39 .14-6.16 .13-6.25 .13-2.98 .14-2.49 .13 .12 .14 2.09 .13 4.46 .13 6.22 .14 6.04 .13 4.31 .14 3.33 .13 3.69 .13 1.82 .14 .69 .13 .56 .14 .6 .13-.01 .13 .09 .14 0 .13 .39 .14-.14 .13 .43 .13 .59 .14-.73 .13 .37 .14 .26 .13-.63 .13 .15 .14 1.13 .13 .08 .14-.41 .13-.25 .13-.05 .14-.15 .13-.16 .14 .39 .13-.63 .13-.02 .14-.61 .13 .26 .14-.76 .13 .39 .13 .97 .14-1.23 .13 1.28 .14-.34 .13 .38 .13 .35 .14-.54 .13 1.24 .14-.25 .13-.39 .13 .53 .14 .12 .13-.38 .14 .41 .13-.39 .13-.87 .14 .05 .13-.71 .14 .22 .13-.07 .13 .4 .14-.45 .13 .66 .14 .27 .13 .82 .13-.61 .14 .59 .13-.28 .14 .38 .13 .86 .13-.74 .14 .48 .13-.32 .14 .06 .13 .38 .13-.29 .14 .45 .13-.23 .14-.33 .13 .56 .13 .17 .14-.15 .13-.44 .14 .26 .13-.05 .13 .11 .14-.59 .13 .75 .14-.16 .13-.62 .13 .08 .14 1.12 .13-.47 .14 .26 .13-.51 .13-.34 .14 .51 .13-.34 .14 1.01 .13-1.04 .13 .64 .14-.07 .13 .43 .14-.39 .13-.07 .13 .44 .14 .42 .13-.25 .14 .06 .13-.04 .13-.79 .14 .65 .13-.51 .14-.17 .13 .52 .13 .08 .14-.16 .13-.24 .14 .38 .13-.29 .13 .17 .14-.37 .13 .13 .14 .67 .13-.59 .13 .46 .14-.19 .13-.04 .14-.59 .13 1.17 .13-.34 .14 .01 .13 .71 .14-.52 .13-.36 .13 .26 .14-.06 .13 .17 .14-.53 .13 .43 .13 .05 .14-.82 .13 1.16 .14-.56 .13 .29 .13 .72 .14-.8 .13 .34 .14-.07 .13-1.15 .13 1.19 .14-.28 .13-.1 .14-.4 .13 .84 .13-.34 .14-.24 .13-.17 .14 .12 .13 .59 .13-.48 .14 .42 .13-.35 .14-.09 .13 .03 .13-.03 .14-.06 .13 .43 .14-.21 .13-.25 .13 .24 .14 .44 .13-.1 .14-.26 .13 .16 .13-.88 .14 .99 .13 .1 .14-.39 .13 .66 .13-.27 .14-.51 .13 .1 .14 0 .13-.32 .13 .61 .14-.39 .13 1.03 .14-.47 .13-.61 .13 .51 .14-.36 .13-.24 .14 .56 .13-.33 .13 .18 .14 .48 .13-.26 .14-.06 .13-.1 .13-.35 .14-.44 .13 .97 .14-.19 .13 .29 .13-.13 .14 .06 .13-.1 .14 .19 .13-.8 .13 .41 .14 .51 .13-.41 .14-.08 .13 .43 .13-.04 .14-.18 .13-.01 .14 .4 .13-.67 .13 .08 .14-.14 .13 .48 .14-.26 .13 .68 .13-.4 .14-.11 .13-.21 .14 .01 .13 .58 .13-1.21 .14 .63 .13 .84 .14-.15 .13-.08 .13-.74 .14 .58 .13 .1 .14-.25 .13 .11 .13-.13 .14 0 .13 .18 .14-.26 .13-.09 .13 .57 .14-.24 .13 .25 .14-.1 .13-.32 .13-.45 .14 .53 .13 .67 .14-1.19 .13 .54 .13-.02 .14 .09 .13-.07 .14 .2 .13-.33 .13 .4 .14-.48 .13-.09 .14 1.02 .13-.64 .13-.56 .14 .76 .13-.45 .14 .19 .13-.59 .13 .92 .14-.54 .13 .11 .14 .05 .13 .09 .13-.06 .14-.29 .13 .71 .14-.29 .13-.57 .13-.21 .14 .21 .13-.21 .14 .43 .13-.56 .13-.13 .14-.38 .13 .15 .14-1.91 .13-.71 .13-1.45 .14-2.77 .13-2.63 .14 .73 .13-.92 .13 .12 .14 1.57 .13 1.76 .14 1.27 .13 2.13 .13 1.47 .14 .59 .13 .8 .14 .97 .13-.45 .13 .81 .14-.02 .13 .12 .14-.64 .13 .25 .13 .18 .14-.19 .13 .06 .14-.05 .13 .14 .13 .13 .14-.43 .13 .36 .14-.15 .13 .36 .13 .1 .14-.14 .13 .01 .14 .16 .13-.29 .13 .23 .14 .51 .13-.31 .14-.5 .13 .27 .13-.28 .14 .01 .13 .26 .14 .03 .13 .64 .13-1.06 .14 .01 .13 1.04 .14-.27 .13-.1 .13-.52 .14 .61 .13 .19 .14-.26 .13 .27 .13-.32 .14-.29 .13 .19 .14-.09 .13 .26 .13-.32 .14 .14 .13 .22 .14-.44 .13 .45 .13-.23 .14 .23 .13-.22 .14 .2 .13 .1 .13-.09 .14 .3 .13-.92 .14 .35 .13 .15 .13-.38 .14 .44 .13 .1 .14 .07 .13-.17 .13 .09 .14-.23 .13 .25 .14-.56 .13 .38 .13 .03 .14-.23 .13 .21 .14 .48 .13-.48 .13 .39 .14-.58 .13-.2 .14 .59 .13-.05 .13-.16 .14-.07 .13-.07 .14 .26 .13-.24 .13-.3 .14 .74 .13-.21 .14-.04 .13-.36 .13 .13 .14 .38 .13-.34 .14-.2 .13 .62 .13-.5 .14 .08 .13 0 .14-.2 .13-.09 .13 .53 .14-.24 .13 .01 .14-.34 .13 .42 .13-.53 .14 .55 .13-.35 .14 .37 .13-.41 .13 .25 .14 .19 .13 .04 .14 .53 .13-.44 .13 .09 .14-.14 .13-.03 .14-.37 .13-.06 .13 .72 .14-.78 .13 .39 .14 .24 .13-.33 .13-.11 .14-.18 .13 .24 .14-.07 .13-.1 .13-.08 .14 .16 .13-.23 .14-.57 .13-.42 .13 .46 .14-.88 .13 .14 .14 .4 .13 .14 .13-.39 .14 .47 .13 .55 .14-.44 .13 1.19 .13-.6 .14 .17 .13 .13 .14-.32 .13 .68 .13-.4 .14 .35 .13 .23 .14-.61 .13-.11 .13-.03 .14 .32 .13-.68 .14 .04 .13-.43 .13-1.02 .14 .27 .13-1.22 .14-.53 .13-1.27 .13-.86 .14-.67 .13 .2 .14 .84 .13 .54 .13 .37 .14 1.28 .13 1.17 .14 .52 .13 .58 .13-.17 .14 .02 .13 .41 .14 .14 .13-.27 .13 .33 .14-.22 .13 .05 .14-.16 .13-.24 .13 .49 .14 .1 .13-.35 .14-.21 .13 .13 .13-.02 .14-.36 .13 0 .14-.32 .13-1.26 .13-1.21 .14-.87 .13-2.55 .14-3.17 .13-2.79 .13-3.52 .14-3.99 .13-3.34 .14-2.27 .13-.57 .13 .92 .14 2.12 .13 2.47 .14 4.25 .13 3.87 .13 3.42 .14 1.71 .13 3.35 .14 1.32 .13 .82 .13 1.45 .14 .11 .13 .37 .14 .1 .13 .31 .13-.32 .14 .1 .13 .5 .14 .12 .13-.26 .13 .06 .14 .12 .13 .09 .14-.25 .13 .46 .13-.15 .14-.02 .13-.04 .14-.02 .13-.15 .13 .48 .14-.03 .13-.37 .14 .18 .13-.04 .13 .33 .14 .19 .13-.44 .14 .26 .13-.26 .13 .29 .14-.01 .13 .12 .14 .17 .13-.58 .13-.04 .14 .75 .13-.82 .14 .06 .13 .02 .13-.06 .14 .28 .13 .18 .14-.62 .13 .35 .13 .08 .14-.12 .13 .25 .14 .12 .13-.19 .13-.13 .14 .17 .13-.26 .14 .22 .13 .26 .13-.57 .14 .22 .13 .01 .14 .21 .13-.34 .13 .15 .14 .08 .13-.15 .14-.33 .13 .55 .13-.28 .14-.25 .13 .6 .14-.21 .13 .17 .13-.14 .14 .03 .13-.61 .14 .46 .13 .52 .13-.36 .14-.13 .13-.05 .14-.04 .13 .06 .13 .19 .14-.43 .13-.22 .14 .39 .13 .23 .13-.27 .14-.13 .13 .07 .14-.14 .13 .42 .13-.35 .14 .23 .13-.16 .14-.3 .13 .51 .13-.25 .14 .11 .13-.33 .14 .38 .13-.3 .13 .06 .14 .22 .13 .07 .14-.13 .13-.17 .13 .07 .14-.04 .13 .06 .14 .27 .13-.12 .13-.45 .14 .24 .13-.1 .14 .54 .13-.2 .13 .17 .14-.19 .13 .19 .14-.51 .13 .32 .13-.18 .14 .3 .13 .1 .14-.35 .13-.06 .13-.24 .14 .44 .13 .1 .14-.22 .13-.02 .13-.21 .14-.53 .13-.09 .14 .01 .13-.65 .13-.3 .14 .13 .13-.23 .14-.85 .13 .3 .13-.91 .14-.14 .13-.14 .14 .29 .13 .34 .13-.54 .14-.13 .13 .48 .14-.02 .13 .54 .13 .06 .14 .45 .13 .38 .14 .56 .13 .13 .13 .44 .14-.11 .13 .01 .14 .5 .13-.06 .13 .22 .14-.25 .13 .23 .14 .2 .13-.34 .13 .16 .14 .21 .13 .1 .14 .18 .13 .11 .13-.23 .14 0 .13 .13 .14-.63 .13 .7 .13 .32 .14-.81 .13 .33 .14-.23 .13 .45 .13-.12 .14-.32 .13 .06 .14 .19 .13 .13 .13 .01 .14-.46 .13 .29 .14-.04 .13-.18 .13 0 .14-.27 .13 .18 .14 .1 .13 .59 .13-.83 .14 .17 .13-.12 .14 .15 .13 .35 .13-.23 .14-.08 .13 .04 .14-.1 .13 .25 .13-.14 .14 .27 .13-.13 .14 .16 .13-.47 .13 .02 .14 .59 .13-.48 .14-.04 .13-.17 .13 .2 .14 .23 .13 .05 .14-.11 .13-.1 .13-.39 .14-.12 .13 .22 .14-.82 .13 .13 .13 .26 .14-.59 .13-.28 .14-.36 .13-.18 .13 .32 .14-.28 .13-.69 .14 .4 .13 .12 .13-.24 .14-.11 .13 .38 .14 .25 .13-.06 .13 .42 .14 .65 .13-.33 .14-.15 .13 .85 .13-.02 .14-.18 .13 .23 .14-.01 .13 .05 .13 .27 .14-.34 .13 .16 .14 .03 .13 .07 .13-.25 .14 .5 .13-.43 .14 .01 .13-.07 .13-.07 .14-.41 .13-.2 .14-.62 .13 .31 .13-.61 .14-.8 .13-.64 .14-.01 .13-.5 .13-.58 .14 .63 .13-.33 .14 .34 .13 .33 .13-.19 .14 .86 .13-.27 .14 1.14 .13-.17 .13 .53 .14 .48 .13 .33 .14-.23 .13 .21 .13 .07 .14-.03 .13 .07 .14-.12 .13-.07 .13-.34 .14-.34 .13-.57 .14-.47 .13-.25 .13-.36 .14 .01 .13-.78 .14 .5 .13-.17 .13-.27 .14 .61 .13 .01 .14 .17 .13 .42 .13 .31 .14 .08 .13 .85 .14 .28 .13 .19 .13 .68 .14-.1 .13 .84 .14-.67 .13 .24 .13-.15 .14 .46 .13 .11 .14-.2 .13-.32 .13-.03 .14 .26 .13-.41 .14 .4 .13-.92 .13 .24 .14-.08 .13-.32 .14 .23 .13 .03 .13-.49 .14-.13 .13 .15 .14 .05 .13-.02 .13 .07 .14 .49 .13 .19 .14 .19 .13-.02 .13 .07 .14 .35 .13-.06 .14 .14 .13 .36 .13 .11 .14-.36 .13 .27 .14 .15 .13 .04 .13-.1 .14-.22 .13 .02 .14 .01 .13 .49 .13-.51 .14 .1 .13 .54 .14-.61 .13 .26 .13-.05 .14-.19 .13 .22 .14-.01 .13 .25 .13-.38 .14-.01 .13 .34 .14-.22 .13 .03 .13 .21 .14-.58 .13 .6 .14-.54 .13 .05 .13 .38 .14-.11 .13-.23 .14 .3 .13-.08 .13-.04 .14 .15 .13 .13 .14-.02 .13 .22 .13-.29 .14 .04 .13 .01 .14-.27 .13 .07 .13 .3 .14-.3 .13 .09 .14-.13 .13 .29 .13-.13 .14 .39 .13-.18 .14-.06 .13 .2 .13-.49 .14 .36 .13-.28 .14-.03 .13 .09 .13 0 .14 .25 .13-.24 .14 .48 .13-.04 .13-.34 .14 .03 .13-.39 .14 .43 .13-.03 .13 .12 .14-.05 .13 .2 .14-.75 .13 .33 .13 .17 .14-.01 .13-.24 .14 .38 .13-.21 .13 .03 .14-.21 .13-.2 .14 .19 .13 .31 .13-.37 .14 .33 .13-.19 .14-.31 .13-.03 .13 .46 .14-.05 .13-.04 .14-.22 .13-.02 .13-.32 .14 .04 .13-.04 .14-.02 .13 .06 .13 .02 .14 .12 .13-.08 .14-.61 .13 .37 .13-.04 .14-.03 .13-.11 .14 .18 .13 .03 .13 .19 .14 .08 .13-.1 .14 .32 .13-.16 .13 .09 .14 .28 .13 .04 .14-.34 .13 .35 .13-.06 .14-.04 .13 .11 .14 .1 .13 .11 .13-.2 .14-.02 .13 .09 .14 .45 .13-.32 .13-.07 .14 .04 .13-.16 .14 .15 .13 .49 .13-.49 .14-.01 .13 .08 .14 .15 .13-.6 .13 .08 .14 .48 .13 .1 .14 .06 .13-.41 .13 .31 .14-.09 .13-.04 .14 .04 .13 .09 .13-.4 .14 0 .13 .25 .14-.1 .13 .25 .13-.18 .14 .07 .13 0 .14-.21 .13 .01 .13 .08 .14 .17 .13-.17 .14 .18 .13-.35 .13-.07 .14 .52 .13-.2 .14-.02 .13-.21 .13 .05 .14 .36 .13-.14 .14 .3 .13-.33 .13 .03 .14-.22 .13 .34 .14-.27 .13 .23 .13-.24 .14 .74 .13-.44 .14-.15 .13 .09 .13 .23 .14-.41 .13-.11 .14 .13 .13 .04 .13 .48 .14-.42 .13-.06 .14 .27 .13-.22 .13-.01 .14 .04 .13 .58 .14-.54 .13 .04 .13-.2 .14 .06 .13 .3 .14-.33 .13 .12 .13-.01 .14 .14 .13 .04 .14-.31 .13 .48 .13-.31 .14 .04 .13-.16 .14 .11 .13 .08 .13 .08 .14-.18 .13 .08 .14 0 .13-.23 .13 .19 .14 .06 .13-.3 .14 .46 .13 .02 .13-.4 .14 .15 .13 .1 .14-.04 .13 .11 .13-.24 .14 .2 .13-.01 .14 .07 .13-.24 .13 .05 .14-.01 .13-.1 .14 0 .13 .32 .13-.27 .14-.22 .13 .49 .14 .07 .13-.08 .13-.11 .14-.17 .13 .05 .14 .17 .13 .13 .13-.24 .14 .05 .13 .22 .14-.06 .13-.1 .13 .04 .14 .1 .13-.11 .14 .12 .13-.43 .13 .09 .14 .25 .13 .26 .14-.09 .13-.21 .13-.11 .14 .26 .13-.07 .14 .01 .13-.11 .13-.1 .14 .19 .13-.02 .14-.22 .13 .11 .13 .02 .14-.19 .13-.29 .14 .21 .13-.02 .13 .19 .14 .09 .13-.42 .14 .19 .13 .19 .13-.33 .14 .42 .13-.29 .14 .05 .13-.18 .13 .26 .14-.21 .13-.21 .14 .51 .13-.37 .13 .02 .14 .14 .13 .04 .14-.3 .13 .16 .13-.11 .14 .26 .13-.01 .14-.19 .13 .33 .13-.14 .14 .28 .13-.23 .14 .12 .13 .08 .13-.11 .14 .16 .13 .04 .14 .14 .13-.12 .13 .57 .14-.65 .13-.14 .14 .65 .13-.29 .13 .06 .14-.31 .13 .3 .14-.23 .13-.06 .13 .31 .14-.04 .13 .08 .14 .07 .13-.39 .13-.16 .14 .55 .13-.58 .14 .34 .13 .21 .13-.23 .14 .07 .13 .11 .14-.11 .13-.09 .13 .08 .14-.32 .13 .35 .14-.22 .13 .3 .13-.22 .14 .13 .13-.2 .14 .3 .13-.09 .13 .25 .14-.45 .13 .34 .14-.1 .13 .14 .13-.59 .14 .38 .13 .19 .14-.07 .13-.23 .13 .21 .14-.17 .13 .15 .14 .17 .13-.08 .13-.13 .14-.05 .13-.31 .14 .45 .13-.07 .13 .1 .14-.37 .13 .47 .14-.2 .13-.35 .13 .09 .14 .12 .13 .19 .14 .14 .13-.19 .13 .28 .14-.59 .13 .4 .14-.42 .13 .41 .13-.24 .14 .07 .13-.03 .14 .05 .13-.07 .13 .19 .14 .01 .13-.15 .14 .15 .13 .14 .13-.37 .14-.07 .13 .36 .14 .12 .13 .03 .13-.21 .14 0 .13 .19 .14-.08 .13 0 .13 .12 .14 .06 .13-.26 .14-.22 .13 .11 .13-.05 .14-.05 .13 .24 .14-.09 .13-.14 .13 .05 .14-.18 .13 .54 .14-.13 .13-.21 .13 .16 .14-.31 .13 .52 .14-.06 .13 .01 .13 0 .14 .18 .13-.35 .14 .23 .13-.16 .13-.12 .14 .25 .13-.16 .14 .11 .13-.08 .13 .29 .14-.12 .13-.45 .14 .34 .13-.01 .13-.19 .14-.14 .13 .39 .14-.17 .13-.09 .13 .27 .14 .07 .13-.31 .14 .2 .13-.16 .13 .21 .14-.03 .13-.21 .14 .65 .13-.27 .13-.16 .14-.02 .13 .14 .14-.07 .13-.18 .13-.19 .14 .17 .13 0 .14 .06 .13-.01 .13 .19 .14-.12 .13 .01 .14-.02 .13-.08 .13-.3 .14 .35 .13-.09 .14-.16 .13 .27 .13-.05 .14 .08 .13-.09 .14 .07 .13 .01 .13-.16 .14-.01 .13 .27 .14-.64 .13 .38 .13 .04 .14 .15 .13-.15 .14-.06 .13 .25 .13 0 .14 .08 .13-.21 .14 .08 .13 .14 .13-.32 .14 .52 .13-.24 .14-.36 .13 .14 .13-.18 .14 .44 .13-.56 .14 .57 .13-.39 .13-.04 .14 .22 .13 .26 .14-.26 .13 .2 .13-.05 .14-.14 .13-.18 .14-.04 .13 .13 .13 .11 .14 .06 .13 .1 .14-.23 .13 .29 .13-.24 .14 .1 .13 .18 .14-.28 .13-.14 .13 .01 .14 .14 .13-.01 .14-.08 .13 .16 .13 .11 .14-.38 .13 .03 .14-.02 .13-.17 .13 .43 .14-.4 .13 .24 .14-.18 .13-.12 .13 .04 .14-.6 .13 .16 .14 .14 .13 .07 .13-.32 .14-.02 .13 .17 .14-.31 .13-.1 .13 .01 .14 .04 .13-.45 .14 .45 .13-.19 .13 .42 .14-.18 .13 .35 .14-.1 .13 0 .13-.1 .14 .37 .13 .11 .14-.15 .13-.02 .13 .11 .14 .11 .13-.25 .14 .35 .13 .27 .13-.14 .14-.05 .13-.09 .14 .23 .13-.05 .13-.19 .14 .16 .13-.09 .14 .03 .13-.07 .13 .37 .14-.03 .13-.18 .14-.26 .13 .04 .13-.04 .14-.32 .13 .22 .14-.13 .13-.13 .13-.05 .14-.31 .13 .14 .14 .1 .13-.11 .13-.25 .14-.18 .13-.17 .14 .18 .13-.22 .13-.07 .14 .06 .13-.54 .14 .08 .13-.03 .13-.27 .14 .3 .13-.22 .14 .11 .13-.16 .13-.2 .14 .29 .13-.23 .14 .36 .13 .11 .13-.23 .14 .36 .13-.12 .14 .26 .13 .16 .13-.27 .14 .58 .13-.06 .14-.13 .13 .02 .13 .53 .14 .01 .13 .49 .14-.25 .13 .28 .13 .24 .14 .24 .13-.11 .14-.21 .13 .05 .13 .04 .14 .06 .13-.14 .14 .33 .13 .03 .13-.07 .14-.1 .13 .18 .14 .12 .13-.19 .13 .01 .14-.03 .13 .21 .14 .01 .13-.05 .13-.01 .14-.14 .13 .18 .14-.25 .13 .16 .13-.18 .14 .2 .13 .19 .14-.12 .13-.13 .13 .16 .14-.26 .13 .28 .14-.12 .13 .19 .13-.27 .14 .09 .13 .3 .14-.23 .13-.03 .13 .09 .14 .17 .13-.29 .14 .34 .13-.3 .13 .02 .14 .21 .13-.13 .14 .05 .13-.09 .13 .17 .14-.23 .13 .21 .14-.02 .13-.29 .13 .32 .14-.21 .13 .2 .14 .07 .13-.03 .13-.16 .14 .01 .13-.02 .14-.17 .13 .14 .13 .04 .14 .06 .13 .32 .14-.22 .13 .15 .13-.43 .14 .27 .13 .02 .14-.01 .13-.1 .13 .08 .14 .02 .13 .06 .14-.3 .13 .3 .13-.17 .14 .19 .13 .03 .14-.27 .13-.06 .13 .21 .14-.23 .13 .02 .14 .18 .13-.16 .13-.27 .14-.13 .13 .4 .14-.1 .13 .09 .13-.01 .14 .04 .13-.17 .14-.09 .13-.17" fill="none" stroke="#ff0000" stroke-width="1.05" stroke-linejoin="round"/>
<path d="M326.7 173.85l.13-.27 .14-.15 .13 .87 .14-.49 .13 .78 .13-1.43 .14 1.61 .13-.82 .14-.12 .13-.02 .13 .33 .14-.83 .13 .81 .14-.57 .13 .44 .13-.22 .14-.33 .13 1.07 .14-.22 .13 .24 .13-1.4 .14 .19 .13 .18 .14 .16 .13 .55 .13-.65 .14 .71 .13-1.39 .14-.09 .13-.18 .13 1.59 .14-1.51 .13 1.3 .14 .15 .13-.8 .13 .25 .14-.8 .13 .63 .14 .56 .13-.46 .13-.02 .14-.11 .13 .01 .14 .42 .13 .13 .13 .83 .14-1.62 .13 .2 .14 .65 .13-.61 .13 .95 .14-1.84 .13 .59 .14 .03 .13-.54 .13 .67 .14 .37 .13-.52 .14-.27 .13 .95 .13 .93 .14-.64 .13 .13 .14-.7 .13 1.16 .13-1.5 .14 .21 .13 .11 .14-.03 .13-.37 .13 1.23 .14-1.26 .13 .11 .14 1.31 .13-1.57 .13 .97 .14-.01 .13-.06 .14 .05 .13-.52 .13 1.18 .14-1.17 .13 .6 .14-1.15 .13 1.31 .13-.42 .14-.03 .13-.49 .14 .66 .13-.52 .13 .34 .14-.04 .13 .38 .14-.71 .13 .35 .13 .08 .14-.04 .13 .82 .14-1.16 .13-.63 .13 1.07 .14-.31 .13-.13 .14 .81 .13-1.57 .13 1.19 .14-.21 .13-.26 .14-.4 .13-.19 .13 .55 .14 .62 .13-.23 .14-.61 .13-1.08 .13 .6 .14-.04 .13-.09 .14-1.4 .13 1.8 .13-1.26 .14-.78 .13 1.49 .14-2.23 .13-.07 .13-3.35 .14-5.33 .13-8.05 .14-12.91 .13-15.11 .13-14.41 .14-9.53 .13 .5 .14 9.05 .13 15.06 .13 14.55 .14 12.59 .13 8.14 .14 5.31 .13 2.51 .13 1.73 .14 .85 .13-.28 .14 .13 .13 1.16 .13-.75 .14 .48 .13-.73 .14 1.25 .13-.14 .13-.02 .14 .49 .13-.54 .14 .35 .13 .08 .13 .71 .14-.02 .13-.07 .14-.24 .13 1.49 .13-.99 .14 .07 .13 1.01 .14-.58 .13-.25 .13-.67 .14 .79 .13-.05 .14-.21 .13 .11 .13 1.12 .14-1.21 .13 .69 .14-1.01 .13-.3 .13 .34 .14 .29 .13 .83 .14-1.33 .13 .36 .13 .66 .14-.99 .13 .97 .14-.11 .13-.06 .13-.17 .14-.74 .13 .24 .14 .42 .13 .93 .13-.44 .14 .19 .13-.95 .14 .36 .13-.37 .13-.05 .14 .01 .13 .03 .14 1.45 .13-.81 .13 .99 .14-.47 .13-.17 .14-.58 .13 .64 .13-.42 .14 .62 .13-.11 .14-.2 .13-.14 .13-.21 .14-.07 .13 1.16 .14-.57 .13-.17 .13 1.17 .14-1.26 .13 .48 .14 .11 .13-.08 .13 .6 .14-.59 .13 .1 .14-.19 .13 .52 .13-.86 .14 .39 .13 .4 .14-.8 .13 1.06 .13-1.21 .14 .23 .13 .62 .14 .22 .13-.23 .13 .42 .14 .7 .13-1.91 .14 1.21 .13-.31 .13 .24 .14 .56 .13-.55 .14-.61 .13 .15 .13-.32 .14 1.47 .13-1.48 .14 .29 .13 .88 .13-.58 .14-.24 .13-.49 .14 .28 .13 .49 .13-.45 .14 .05 .13 .62 .14-.63 .13 .56 .13-.66 .14-.05 .13-.44 .14 .57 .13-.21 .13 .1 .14 1.04 .13 .26 .14-1.18 .13-.49 .13 .37 .14 .68 .13-.08 .14-1.17 .13 .4 .13 .46 .14 .19 .13-.85 .14 .12 .13 .17 .13-1 .14 0 .13 .29 .14-.28 .13-1.62 .13-.07 .14-3.27 .13-3.35 .14-5.3 .13-8.5 .13-10.76 .14-13.27 .13-11.15 .14-9.32 .13-3.14 .13 1.87 .14 9.58 .13 13.12 .14 12.48 .13 11.06 .13 8.11 .14 5.36 .13 4.49 .14 2.02 .13 .39 .13 1.1 .14 .77 .13 .16 .14 .34 .13 .47 .13 .09 .14-.11 .13-.22 .14 .8 .13-.3 .13 .15 .14 .07 .13-.11 .14-.01 .13 .63 .13-.12 .14-.29 .13 .7 .14 .1 .13-.83 .13 .86 .14 .07 .13-.31 .14-.52 .13-.2 .13 1.62 .14-1.08 .13 .22 .14 .17 .13 .13 .13-.11 .14 .11 .13-.58 .14-.16 .13 1.19 .13-1.41 .14 .48 .13 .93 .14 .05 .13-.08 .13-1.37 .14 .3 .13 .27 .14 .21 .13-.23 .13 .4 .14-1.23 .13 .27 .14-.54 .13-1.07 .13-.73 .14 .44 .13-.37 .14-1.26 .13-.44 .13 1.08 .14 .85 .13-.93 .14 1.78 .13-.88 .13 2.37 .14 .05 .13-.32 .14 1.14 .13-.71 .13 .78 .14 .08 .13-.06 .14-.29 .13-.31 .13 1.37 .14-.56 .13 .19 .14-.34 .13 1.04 .13-.66 .14-.14 .13-.73 .14 .21 .13 .37 .13 .12 .14-1.42 .13 1.23 .14 .85 .13-.62 .13-1.09 .14 .45 .13 .01 .14-.38 .13 .42 .13-.18 .14-.94 .13-.51 .14-.96 .13-1.88 .13-1.98 .14-4.43 .13-5.06 .14-5.39 .13-5.53 .13-6.12 .14-.78 .13-.64 .14 2.41 .13 5.18 .13 5.02 .14 6.22 .13 5.29 .14 4.37 .13 1.06 .13 2.1 .14 2 .13 .25 .14 .85 .13 0 .13 .84 .14-.72 .13-.28 .14 1.14 .13 .03 .13 .37 .14-1.58 .13 .91 .14-.2 .13 1.27 .13-.42 .14 .29 .13-.97 .14 .62 .13-.73 .13-.06 .14 1.21 .13-.74 .14-.89 .13 .54 .13-.36 .14 .29 .13-.42 .14-.5 .13 .46 .13 .56 .14-.27 .13-.41 .14 .42 .13-.06 .13-.03 .14 1.44 .13-.34 .14 .35 .13 .35 .13-.6 .14 .25 .13-.05 .14 .15 .13-.24 .13-1.05 .14-.33 .13 .15 .14 .61 .13-.42 .13 .09 .14 .29 .13 0 .14-.12 .13 .67 .13 .29 .14 .11 .13 .75 .14-.32 .13-.39 .13 .16 .14 .6 .13-.03 .14-.58 .13 .5 .13-.25 .14 .31 .13-.22 .14 .39 .13-.02 .13-.17 .14 .36 .13-.63 .14 .91 .13-.28 .13-.19 .14-.42 .13 .06 .14-.01 .13 .79 .13-.26 .14-.47 .13 .29 .14 .28 .13-.4 .13 .65 .14-.05 .13 .45 .14 .05 .13-.24 .13-.63 .14 0 .13 .05 .14 .48 .13-.03 .13-.17 .14 .27 .13-.15 .14-.45 .13 .18 .13-.07 .14 .24 .13-.19 .14 .16 .13 .71 .13-.76 .14-.47 .13 1.25 .14-.56 .13-.28 .13 .04 .14 .42 .13-.36 .14 .07 .13 .09 .13-.05 .14-.35 .13 .2 .14-.47 .13 .61 .13 .45 .14-.38 .13 .07 .14-.37 .13-.18 .13 .09 .14 .72 .13-1.03 .14 1.42 .13-1.02 .13 .19 .14 .43 .13-.84 .14 .06 .13 1.06 .13-.68 .14 .12 .13 .15 .14-.01 .13-.3 .13 .66 .14-.27 .13 .35 .14-.5 .13-.53 .13 .57 .14 .08 .13-.76 .14-.19 .13 .65 .13 .1 .14-.2 .13 .14 .14 .09 .13 1.2 .13-.67 .14-.48 .13-.35 .14 .86 .13 .62 .13-.92 .14 .07 .13-.16 .14 .08 .13-.12 .13 .67 .14-1.23 .13 .69 .14-.48 .13 1.02 .13-.28 .14-.2 .13 .14 .14-.07 .13-.34 .13 .99 .14-.58 .13-.38 .14 .5 .13-.11 .13-.36 .14 .66 .13-.39 .14 .26 .13-.77 .13-.02 .14 .32 .13 .62 .14 .39 .13-.23 .13-.16 .14 .12 .13-.89 .14 .62 .13 .35 .13 .24 .14-.68 .13 .4 .14-.42 .13 .59 .13-.29 .14-.04 .13 .05 .14-.13 .13-.3 .13 .11 .14-.23 .13 .39 .14 .17 .13-.1 .13-.1 .14-.22 .13-.07 .14 .32 .13-.21 .13 .66 .14-.31 .13-.74 .14 .37 .13 .02 .13 .01 .14 .27 .13-.02 .14 .68 .13-.87 .13 .95 .14-.37 .13-.03 .14 .13 .13-.41 .13 .73 .14-.12 .13-.48 .14 .34 .13-.82 .13 .52 .14 .65 .13-.61 .14-.11 .13-.07 .13-.1 .14 .55 .13-.55 .14 .18 .13-.27 .13-.44 .14 .66 .13-.22 .14 .46 .13 .19 .13-.59 .14 .83 .13-.65 .14-.07 .13 .19 .13 .14 .14-.46 .13 .26 .14 .1 .13-.38 .13 .25 .14-.29 .13 .61 .14-.32 .13 .05 .13-.1 .14 .71 .13-.55 .14-.36 .13 .1 .13-.2 .14-.16 .13 .14 .14 .13 .13 .11 .13-.82 .14 .07 .13-.7 .14-1.62 .13-1.56 .13-1.11 .14-2.49 .13-1.19 .14-1.81 .13-.08 .13 .09 .14 .9 .13 1.96 .14 2.69 .13 1.55 .13 1.75 .14 .99 .13 .38 .14 .32 .13 .39 .13 .06 .14-.08 .13 .18 .14 .74 .13-.46 .13 .15 .14-.03 .13-.13 .14 .21 .13 .18 .13-.09 .14-.07 .13-.23 .14 .75 .13-.19 .13-.41 .14 .13 .13 .28 .14-.56 .13 .64 .13-.18 .14-.14 .13 .04 .14 .06 .13-.3 .13 .03 .14 .12 .13 0 .14 .16 .13-.51 .13 .53 .14 .07 .13-.15 .14-.73 .13 .95 .13 .01 .14 .18 .13 .08 .14-.75 .13 .36 .13 .41 .14-.7 .13 .74 .14-.85 .13 .66 .13-.68 .14 .18 .13 .59 .14-.12 .13-.25 .13 .04 .14 .12 .13-.02 .14 .05 .13-.12 .13 .22 .14-.3 .13 .37 .14-.41 .13 .33 .13 .09 .14-.1 .13-.23 .14 .13 .13 .63 .13-.4 .14 .03 .13-.39 .14 .13 .13-.13 .13 .23 .14 .06 .13 .26 .14-.5 .13-.01 .13 .13 .14-.27 .13 .53 .14 0 .13-.2 .13-.05 .14-.06 .13 .08 .14-.04 .13-.12 .13 .67 .14-.71 .13 .2 .14 .1 .13-.33 .13 .49 .14-.23 .13 .14 .14 .17 .13-.06 .13-.31 .14 .23 .13-.33 .14 .52 .13-.57 .13 .54 .14 .03 .13-.33 .14-.03 .13-.12 .13 .6 .14-.78 .13 .29 .14 0 .13-.3 .13-.16 .14 .47 .13-.25 .14 .59 .13-.42 .13-.08 .14 .37 .13 .02 .14-.23 .13 .04 .13-.37 .14 .42 .13 .24 .14 .12 .13-.79 .13 .25 .14 .14 .13-.02 .14 .18 .13-.46 .13-.16 .14-.12 .13-.18 .14-.09 .13-.25 .13-.54 .14 .16 .13-.04 .14 .33 .13-.14 .13-.08 .14 .39 .13 .15 .14 .18 .13 .25 .13 .04 .14-.17 .13 .34 .14 .03 .13-.15 .13-.07 .14 .1 .13 .19 .14-.33 .13 .43 .13-.35 .14 .03 .13-.09 .14-.26 .13-.69 .13-.48 .14-.22 .13-1.34 .14-.48 .13-.75 .13-.09 .14-.98 .13-.51 .14 1.17 .13 .42 .13 .61 .14 .65 .13 1.23 .14 .85 .13-.13 .13 .24 .14 .5 .13 .2 .14 .39 .13 .09 .13-.19 .14-.49 .13 .21 .14 .04 .13-.19 .13 .13 .14-.03 .13 .22 .14-.35 .13-.33 .13-.18 .14 .23 .13-.69 .14-.05 .13-1.12 .13-.58 .14-2.09 .13-2.31 .14-2.81 .13-3.41 .13-3.27 .14-4.64 .13-2.25 .14-2.51 .13-.88 .13 .73 .14 1.81 .13 3.57 .14 3.08 .13 4.55 .13 3.94 .14 2.86 .13 1.74 .14 1.57 .13 1 .13 1.29 .14 .07 .13-.28 .14 .75 .13-.08 .13 .45 .14-.56 .13 .61 .14-.51 .13 .59 .13 .01 .14 .07 .13 .03 .14 .02 .13 .18 .13-.36 .14 .08 .13 .11 .14-.1 .13-.18 .13 .61 .14-.28 .13 .14 .14-.28 .13-.02 .13-.05 .14 .37 .13-.24 .14 .17 .13 .13 .13 .24 .14-.47 .13 .26 .14-.1 .13-.13 .13 .17 .14-.14 .13 .04 .14 .01 .13 .5 .13-.32 .14-.09 .13-.12 .14 .62 .13-.62 .13 .53 .14-.56 .13 .39 .14-.24 .13 .12 .13-.12 .14-.18 .13 .14 .14-.07 .13 .32 .13-.16 .14 .14 .13 .08 .14-.22 .13-.05 .13 .32 .14-.05 .13 .01 .14-.08 .13 .03 .13-.52 .14 .29 .13 .2 .14-.07 .13-.2 .13 .2 .14 .3 .13-.81 .14 .53 .13-.13 .13 .44 .14-.5 .13-.1 .14 .2 .13 0 .13-.1 .14 .17 .13-.07 .14-.18 .13 .06 .13-.2 .14 .19 .13 .22 .14-.12 .13 0 .13-.15 .14 .19 .13-.31 .14 .21 .13 .2 .13-.34 .14 .42 .13 .12 .14 .18 .13-.75 .13 .27 .14 .02 .13 .5 .14-.42 .13-.1 .13 .05 .14 .09 .13 .35 .14-.22 .13-.06 .13-.13 .14 .15 .13-.2 .14 .12 .13 .23 .13-.33 .14-.46 .13 .17 .14 .41 .13-.5 .13 .59 .14-.11 .13-.17 .14-.14 .13 .29 .13-.16 .14-.16 .13 .19 .14-.29 .13-.15 .13-.17 .14 .16 .13-.55 .14-.04 .13-.62 .13-.2 .14-.4 .13 .06 .14-.46 .13 .23 .13-.95 .14-.48 .13-.09 .14 .29 .13-.3 .13 .17 .14-.09 .13 .71 .14 .55 .13-.36 .13 .1 .14 .63 .13 .2 .14 .66 .13 .42 .13-.27 .14 .22 .13 .33 .14 .1 .13-.05 .13 .57 .14 .3 .13-.5 .14 .53 .13-.24 .13-.3 .14 .13 .13-.09 .14 .05 .13 .37 .13-.15 .14-.45 .13 .46 .14-.15 .13-.04 .13-.12 .14 .22 .13 .11 .14-.6 .13 .6 .13-.52 .14 .42 .13 .35 .14-.3 .13-.11 .13-.05 .14-.13 .13 .26 .14 .17 .13-.12 .13-.01 .14-.28 .13 .34 .14-.5 .13 .21 .13 .43 .14-.14 .13-.18 .14 0 .13 .28 .13 .01 .14-.36 .13 .5 .14-.57 .13 .14 .13 .26 .14 .01 .13-.28 .14-.21 .13 .36 .13-.44 .14 .29 .13 .49 .14-.65 .13 .2 .13-.05 .14-.02 .13-.59 .14 .55 .13-.11 .13-.14 .14-.05 .13 .09 .14-.71 .13 .37 .13-.4 .14-.24 .13 .15 .14-.45 .13-.12 .13-.26 .14-.23 .13 .12 .14-.51 .13 .34 .13-.16 .14-.08 .13 .1 .14 .48 .13 .23 .13-.11 .14 .35 .13 .62 .14-.09 .13 .54 .13 .32 .14-.21 .13-.18 .14 .19 .13 .03 .13 .14 .14-.19 .13 .43 .14-.02 .13 .09 .13-.04 .14 .14 .13-.59 .14 .15 .13-.57 .13-.11 .14 .16 .13-.65 .14-.2 .13-.51 .13-.21 .14-.69 .13-.31 .14-.27 .13-.11 .13-.67 .14 .2 .13 .15 .14-.14 .13-.09 .13 .64 .14 .47 .13-.07 .14 .54 .13 .7 .13 .1 .14 .16 .13 .62 .14 .27 .13-.01 .13-.32 .14-.18 .13 .14 .14 .08 .13-.21 .13-.52 .14 .05 .13-.47 .14-.68 .13-.71 .13-.27 .14 .18 .13-.53 .14 .26 .13-.66 .13 .8 .14 .04 .13 .12 .14 .16 .13 .29 .13 .45 .14 .71 .13-.19 .14 .36 .13 .73 .13 .18 .14 .42 .13 .04 .14 .22 .13 .12 .13 .28 .14-.21 .13 .08 .14 .06 .13-.23 .13 .39 .14-.29 .13-.78 .14 .65 .13-.14 .13-.1 .14-.49 .13 .19 .14-.21 .13-.26 .13-.25 .14-.19 .13 .16 .14 .34 .13 .03 .13 .07 .14 .02 .13 .31 .14 .24 .13-.1 .13 .31 .14 .04 .13 .1 .14 .18 .13 .24 .13-.07 .14-.29 .13 .4 .14-.22 .13 .37 .13 .12 .14 .11 .13-.16 .14-.28 .13 .31 .13 .17 .14-.22 .13 .06 .14 .03 .13-.29 .13 .39 .14 .11 .13-.33 .14 .23 .13-.27 .13 .08 .14-.07 .13 .12 .14 .2 .13-.17 .13 .21 .14-.03 .13-.23 .14-.18 .13 .03 .13 .27 .14 .31 .13-.16 .14-.47 .13 .21 .13 .18 .14 .26 .13-.36 .14 .01 .13 .33 .13 .05 .14-.4 .13 .09 .14 .23 .13 .13 .13-.21 .14-.04 .13 .04 .14 .19 .13-.39 .13-.05 .14 .29 .13-.03 .14-.17 .13-.08 .13-.02 .14 .23 .13-.01 .14-.19 .13 .59 .13-.19 .14-.46 .13 .48 .14-.36 .13 .29 .13-.22 .14 .04 .13 .07 .14 .06 .13-.18 .13 .25 .14-.13 .13-.08 .14 .29 .13-.06 .13-.18 .14-.02 .13 .03 .14 .15 .13-.02 .13-.29 .14 .03 .13-.06 .14 .1 .13 .03 .13 .08 .14-.21 .13-.06 .14-.1 .13-.04 .13 .13 .14-.38 .13 .39 .14 .06 .13-.48 .13-.07 .14-.02 .13-.29 .14 .29 .13 .03 .13-.49 .14 .26 .13-.11 .14 .13 .13-.06 .13 .06 .14-.14 .13 0 .14 .22 .13 .3 .13-.05 .14-.23 .13 .18 .14-.06 .13 .18 .13 .14 .14 .42 .13-.28 .14 .35 .13-.39 .13 .36 .14 .02 .13 .03 .14 0 .13 .13 .13-.34 .14-.03 .13 .5 .14-.26 .13 .07 .13 .22 .14-.26 .13 .21 .14-.11 .13-.21 .13 .17 .14-.24 .13 .25 .14-.38 .13 .59 .13-.31 .14-.27 .13 .42 .14-.13 .13-.05 .13 .13 .14 .16 .13 .08 .14-.13 .13 .02 .13-.26 .14 .67 .13-.51 .14-.21 .13 .17 .13 0 .14 .03 .13 .07 .14-.28 .13 .4 .13 .19 .14-.72 .13 .61 .14-.39 .13-.12 .13 .12 .14 .25 .13-.15 .14-.12 .13-.08 .13 .57 .14-.55 .13 .28 .14-.34 .13 .25 .13-.08 .14-.12 .13 .57 .14-.23 .13 .03 .13-.13 .14-.44 .13 .23 .14 .31 .13 .13 .13-.2 .14 .03 .13 .1 .14-.21 .13 .37 .13-.18 .14-.24 .13 .61 .14-.12 .13-.36 .13 .35 .14-.01 .13 .05 .14-.17 .13-.06 .13 .13 .14-.29 .13 .1 .14-.26 .13 .13 .13-.25 .14 .45 .13 0 .14 .09 .13-.03 .13 .07 .14 .02 .13-.12 .14 .34 .13-.11 .13-.2 .14 .12 .13-.19 .14 .37 .13-.25 .13-.38 .14-.19 .13 .56 .14-.38 .13 .17 .13-.06 .14-.19 .13 .49 .14-.17 .13-.05 .13-.06 .14 .43 .13-.01 .14-.34 .13 .32 .13-.36 .14 .13 .13-.38 .14 .4 .13 .11 .13 .16 .14-.04 .13-.2 .14 .01 .13 .03 .13-.07 .14-.15 .13 .45 .14-.53 .13 .5 .13-.16 .14-.12 .13-.01 .14 .3 .13-.41 .13 .04 .14 .11 .13-.1 .14 .1 .13-.34 .13 .85 .14-.21 .13-.11 .14 .13 .13-.39 .13 .06 .14 .13 .13 .15 .14-.34 .13-.03 .13 .12 .14 .19 .13-.05 .14 .24 .13-.35 .13-.2 .14-.17 .13 .42 .14-.02 .13-.06 .13-.21 .14 .02 .13-.07 .14 .08 .13 .06 .13 .11 .14-.06 .13-.52 .14 .5 .13-.2 .13-.01 .14 .16 .13 .15 .14-.56 .13-.03 .13-.1 .14 .34 .13 .22 .14-.47 .13 .24 .13-.17 .14 .21 .13 .22 .14-.07 .13-.05 .13 .25 .14 .25 .13-.49 .14 .07 .13-.1 .13 .18 .14 .18 .13-.05 .14 .15 .13-.3 .13 .07 .14-.04 .13 .15 .14 .21 .13-.05 .13-.29 .14 .26 .13-.05 .14 .17 .13-.03 .13-.43 .14-.02 .13 .51 .14-.1 .13 .08 .13-.3 .14 .11 .13-.21 .14 .26 .13 .21 .13-.22 .14 .12 .13 .09 .14 .21 .13-.23 .13-.21 .14 .1 .13 .11 .14-.06 .13-.28 .13 .24 .14 .12 .13-.22 .14-.03 .13 .03 .13-.14 .14 .17 .13-.11 .14-.08 .13 .16 .13-.06 .14 .03 .13 .31 .14 .01 .13-.29 .13-.23 .14 .38 .13 .05 .14-.12 .13-.15 .13 .12 .14-.14 .13-.06 .14-.44 .13 .3 .13 .37 .14-.25 .13 .1 .14-.13 .13 .53 .13-.62 .14 .2 .13-.09 .14 .21 .13 .14 .13-.2 .14 .05 .13 .01 .14-.17 .13 .19 .13-.13 .14 .1 .13-.05 .14 .22 .13-.29 .13-.13 .14 .05 .13 .05 .14 .07 .13 .11 .13-.05 .14-.21 .13 .08 .14 .08 .13 .29 .13-.25 .14-.04 .13 .06 .14 .2 .13-.17 .13 .31 .14-.38 .13 .36 .14-.05 .13-.25 .13 .17 .14-.15 .13 .19 .14-.01 .13 .09 .13-.33 .14 .28 .13 .02 .14-.3 .13 .33 .13-.23 .14-.05 .13 .05 .14 .24 .13-.01 .13-.17 .14 .25 .13-.67 .14 .45 .13-.01 .13 .16 .14-.31 .13 .43 .14-.11 .13 .04 .13-.28 .14-.03 .13 .51 .14-.14 .13-.32 .13 .07 .14-.04 .13 .34 .14-.34 .13 .24 .13-.22 .14 .07 .13-.06 .14-.06 .13 .16 .13 .1 .14-.29 .13 .09 .14-.13 .13 .4 .13-.47 .14 .3 .13 .13 .14-.22 .13-.08 .13 .25 .14-.17 .13 .01 .14 .04 .13-.04 .13 .19 .14-.23 .13 .11 .14-.27 .13 .06 .13 .34 .14 0 .13-.2 .14 0 .13 .23 .13-.05 .14 .14 .13-.48 .14 .25 .13 .04 .13-.06 .14-.03 .13 .37 .14-.23 .13-.14 .13 .25 .14-.08 .13-.09 .14-.16 .13 .22 .13 .01 .14-.07 .13-.36 .14 .14 .13 .21 .13 .16 .14-.3 .13 0 .14 .03 .13 .02 .13 .14 .14 .08 .13-.21 .14-.05 .13 .18 .13 .04 .14-.1 .13-.13 .14 .22 .13-.09 .13-.18 .14 .06 .13-.03 .14 .03 .13 .03 .13 .23 .14 .02 .13-.39 .14 .22 .13-.04 .13 .07 .14 .13 .13-.28 .14 .09 .13 .25 .13-.42 .14 .22 .13 .19 .14-.45 .13-.1 .13 .2 .14-.03 .13 .04 .14 .19 .13-.26 .13 0 .14 .11 .13-.19 .14 .24 .13-.26 .13-.38 .14 .06 .13-.07 .14 .19 .13-.38 .13-.25 .14-.03 .13 .42 .14-.26 .13-.18 .13 .32 .14-.14 .13-.11 .14 .31 .13-.34 .13 .12 .14 .26 .13-.09 .14 .45 .13-.37 .13 .04 .14-.1 .13 .52 .14-.48 .13 .16 .13 .03 .14 .34 .13-.28 .14 .17 .13-.23 .13 .28 .14-.07 .13 .22 .14 .15 .13-.13 .13 .09 .14-.03 .13-.09 .14-.08 .13-.09 .13 .64 .14-.55 .13 .33 .14-.54 .13 .37 .13-.13 .14-.37 .13 .32 .14-.3 .13 .02 .13-.05 .14-.31 .13 .21 .14-.2 .13-.01 .13-.26 .14-.26 .13 .12 .14-.35 .13 .01 .13-.07 .14-.42 .13 0 .14-.16 .13 .01 .13-.08 .14 .02 .13 .06 .14-.33 .13 .11 .13-.39 .14 .52 .13-.29 .14 .21 .13 .01 .13 .39 .14-.12 .13 .1 .14 .39 .13-.07 .13 .36 .14-.19 .13 .22 .14 .48 .13-.1 .13 .07 .14 .06 .13 .27 .14 .04 .13-.27 .13 .3 .14 .25 .13-.28 .14 .42 .13-.3 .13 .47 .14-.26 .13 .45 .14-.13 .13-.39 .13 .47 .14-.02 .13 .06 .14-.09 .13-.11 .13 .32 .14-.09 .13-.15 .14-.03 .13-.16 .13 .58 .14-.21 .13-.1 .14 .06 .13 .05 .13 .02 .14-.08 .13 .01 .14 .03 .13 .05 .13 .02 .14-.01 .13-.32 .14 .26 .13 .04 .13 .12 .14-.02 .13-.01 .14 .04 .13 .03 .13 .01 .14 .03 .13-.05 .14-.22 .13 .17 .13 .08 .14 .1 .13-.13 .14-.26 .13 .24 .13-.08 .14 .15 .13-.14 .14-.12 .13-.07 .13 .28 .14-.33 .13 .39 .14-.07 .13-.14 .13-.15 .14 .1 .13 .29 .14-.23 .13 .09 .13-.02 .14 .02 .13-.01 .14-.22 .13-.1 .13 .18 .14-.02 .13-.01 .14 .12 .13-.07 .13 .03 .14 .05 .13-.2 .14 .06 .13 .04 .13 .06 .14-.03 .13-.09 .14-.04 .13 .13 .13 .19 .14-.15 .13 .12 .14-.19 .13-.1 .13-.13 .14 .27 .13-.03 .14-.04 .13-.01 .13 .1 .14-.01 .13 .18 .14-.21 .13 .23" fill="none" stroke="#00ee00" stroke-width="1.05" stroke-linejoin="round"/>
<path d="M327 269.96l.13-.3 .14 .17 .13-.86 .14-.03 .13 .93 .13-.21 .14 .79 .13-.68 .14-.24 .13 .82 .13-.55 .14-.42 .13-.73 .14-.2 .13 .65 .13-.37 .14 .46 .13 .81 .14-.77 .13-.07 .13 .27 .14 .23 .13-.08 .14-.56 .13 .35 .13-.68 .14 1.61 .13-1.57 .14 .83 .13-.02 .13-.24 .14-.15 .13 .34 .14 .14 .13-.29 .13 .64 .14-1.75 .13 1.99 .14-1.05 .13 .17 .13-.4 .14-.14 .13 .3 .14 .24 .13 .01 .13 .45 .14-1.15 .13 2.17 .14-1.1 .13 .43 .13-1.01 .14 .94 .13-.49 .14-.82 .13 .78 .13-.51 .14 .71 .13-1.02 .14 .76 .13-.14 .13 .68 .14 .22 .13-.71 .14-.88 .13 0 .13 .37 .14 .39 .13 .66 .14-1.2 .13-.6 .13 1.32 .14-.43 .13-.13 .14 1.26 .13-1.5 .13 .33 .14 .67 .13-.41 .14 .61 .13-.2 .13-.73 .14 .3 .13-.31 .14 .8 .13-.37 .13-.68 .14-.41 .13 1.06 .14 .19 .13-.27 .13-.84 .14 .82 .13-.35 .14-.36 .13-.01 .13 .44 .14 .36 .13 .17 .14-1.03 .13 .84 .13-.02 .14-.33 .13 .28 .14-1.06 .13 1.95 .13-1.51 .14 .92 .13-.93 .14-.46 .13 .85 .13 .34 .14-.37 .13-.51 .14 .08 .13 .52 .13 .46 .14-1.82 .13 .35 .14-.07 .13 .54 .13-1.52 .14-.08 .13-.33 .14-1.31 .13-1.07 .13-1.76 .14-5.91 .13-9.87 .14-13.59 .13-15.41 .13-14.7 .14-9.39 .13 .46 .14 9.09 .13 14.4 .13 16.8 .14 12.9 .13 9.68 .14 5.18 .13 2.81 .13 1.51 .14 1.08 .13-.52 .14-.31 .13 .38 .13 .75 .14 .36 .13 .8 .14-.65 .13 .76 .13-.71 .14 .6 .13 .62 .14-.07 .13 .21 .13 .43 .14-.79 .13 .86 .14-.61 .13 .69 .13-1.26 .14 .99 .13 .73 .14-.57 .13-.13 .13-.41 .14-.03 .13 .26 .14 .27 .13 .64 .13-.9 .14-.1 .13 .62 .14-.05 .13-.01 .13-.73 .14 .85 .13-.48 .14 .18 .13 .16 .13-.35 .14 .38 .13-.28 .14-.43 .13 .13 .13-.47 .14 .56 .13 .42 .14-.17 .13 .39 .13 .41 .14-.61 .13 .7 .14-1.24 .13 1.13 .13-.99 .14-.1 .13-.28 .14 .77 .13-.73 .13 1.26 .14-.14 .13 .41 .14-.47 .13 .17 .13-1.62 .14 1.33 .13-.47 .14 .3 .13 .2 .13-.61 .14 1.02 .13-1.29 .14 1.38 .13-1.47 .13 .74 .14 .36 .13 .01 .14 .41 .13-1.45 .13 .49 .14 .18 .13-.09 .14 .68 .13-1.16 .13 1.18 .14-.04 .13-.66 .14 1.04 .13-1.07 .13 .12 .14 .95 .13-.16 .14 .27 .13 0 .13-1.22 .14 .34 .13 .56 .14-.85 .13 .45 .13 .23 .14 .51 .13-.56 .14 .95 .13-1 .13 .56 .14-.62 .13 .1 .14-.37 .13 .7 .13 .35 .14 .08 .13-1.31 .14 1.01 .13-.01 .13 .25 .14 .08 .13-.85 .14 1.1 .13-.84 .13 .19 .14-.42 .13 .13 .14 .99 .13-.51 .13 .01 .14-.09 .13 .47 .14 .12 .13-1.27 .13 .78 .14 .04 .13 .25 .14-1.25 .13 .34 .13 .36 .14-.5 .13-.51 .14 .76 .13-.58 .13 .55 .14-.36 .13 .03 .14-.22 .13-1.13 .13-1.39 .14-1.16 .13-2.65 .14-4.94 .13-5.76 .13-8.48 .14-9.03 .13-10.24 .14-6.54 .13-2.02 .13 2.46 .14 6.53 .13 8.61 .14 10.26 .13 8.76 .13 6.4 .14 4.78 .13 2.21 .14 1.71 .13 .86 .13 .41 .14-.15 .13 1.36 .14-.13 .13 .35 .13 .64 .14-.72 .13-.04 .14 .64 .13-.47 .13-.04 .14 .97 .13-1.86 .14 1.23 .13 .72 .13-.54 .14 .08 .13-.2 .14 .2 .13 .88 .13-.68 .14 .69 .13-.08 .14-.52 .13 .39 .13-.24 .14 .31 .13 .27 .14-.05 .13-.58 .13 .44 .14-.16 .13 .03 .14 .27 .13-.5 .13 1.87 .14-1.06 .13-.44 .14-.24 .13 .19 .13 .2 .14-.71 .13 .5 .14 .57 .13-1.24 .13-.09 .14-.41 .13-.71 .14-.43 .13-.47 .13-.05 .14-1.51 .13 .07 .14-.09 .13 .09 .13-.49 .14 .46 .13 .44 .14 2.11 .13-.15 .13 .06 .14 .72 .13 .33 .14 .18 .13 .23 .13 .5 .14-.01 .13-.1 .14 .37 .13-.15 .13 .24 .14-.8 .13 .59 .14 .11 .13 .66 .13-.54 .14 .63 .13-.5 .14-1.06 .13 .6 .13 .06 .14 .5 .13 .1 .14-.97 .13 .35 .13 .21 .14-.07 .13-.08 .14-1.14 .13 .91 .13-1.38 .14 .18 .13-.74 .14-.7 .13-2.49 .13-2.41 .14-3 .13-3.71 .14-4 .13-3.71 .13-3.04 .14-2.93 .13 .02 .14 2.28 .13 2.51 .13 5.53 .14 3.98 .13 3.5 .14 3.71 .13 2.25 .13 1.75 .14 1.15 .13 .78 .14 .83 .13 .22 .13-.92 .14 1.12 .13-.95 .14 .93 .13-.17 .13 .15 .14 .45 .13-.24 .14 .1 .13 .1 .13 .22 .14 .59 .13 .01 .14 .18 .13-1.16 .13 .31 .14-.28 .13 .11 .14-.23 .13 .08 .13-.33 .14 .5 .13-.76 .14 .2 .13-.15 .13-.44 .14 .47 .13-.09 .14 .68 .13 .68 .13-.16 .14 .14 .13 .67 .14-.05 .13-.66 .13 .05 .14 .19 .13-.2 .14-.18 .13-.18 .13-.73 .14-.7 .13 .33 .14-.35 .13 .85 .13-.05 .14-.33 .13 .71 .14-.54 .13 .53 .13 .37 .14 .28 .13 .34 .14 1.21 .13-.72 .13 .06 .14-.16 .13 .32 .14-.33 .13-.33 .13 .23 .14 .13 .13 .47 .14 .18 .13-.75 .13 .35 .14-.03 .13 .46 .14-1.13 .13 .38 .13 .23 .14-.06 .13-.07 .14 .01 .13 .46 .13 .2 .14-.25 .13 .5 .14-.62 .13 .23 .13-.46 .14 .75 .13-.06 .14-.58 .13 1.45 .13-1.22 .14 1.01 .13-.5 .14-.22 .13 .22 .13 .48 .14-1.03 .13 .26 .14 .44 .13-.35 .13-.32 .14 .53 .13-.13 .14-.06 .13 .19 .13-.35 .14 .32 .13 .17 .14-.18 .13-.05 .13-.14 .14 .34 .13 .06 .14-.89 .13 1.38 .13-.3 .14-.09 .13-.02 .14 .03 .13 .18 .13 0 .14 .01 .13-.01 .14-.41 .13 .39 .13 .16 .14 .07 .13-.31 .14 .17 .13-.73 .13 1.34 .14-.38 .13-.56 .14 .68 .13 .28 .13-.88 .14 .26 .13 .1 .14 .17 .13-.37 .13-.12 .14-.21 .13 .09 .14 .34 .13-.53 .13 .07 .14-.02 .13 .33 .14-.12 .13 .18 .13-.78 .14 .59 .13 .37 .14-.53 .13 .05 .13 .24 .14 .04 .13-.14 .14 .14 .13 .48 .13-.41 .14 .2 .13-.54 .14-.04 .13 .62 .13-.5 .14 .56 .13-.19 .14 .18 .13-.35 .13-.11 .14 .69 .13-.28 .14-.22 .13 .15 .13-.38 .14 .79 .13-.38 .14-.13 .13 .47 .13-.22 .14 .08 .13 .21 .14-.24 .13 .32 .13-.06 .14 .58 .13-1.04 .14 .28 .13 .45 .13-.07 .14-.11 .13-.46 .14 .16 .13-.16 .13 .64 .14-.26 .13-.39 .14 .82 .13-.51 .13-.03 .14 .13 .13 .04 .14-.02 .13-.01 .13 .14 .14-.55 .13 .41 .14-.24 .13-.56 .13-.15 .14-.39 .13 1.18 .14-.23 .13 0 .13 .27 .14 .01 .13-.26 .14 .14 .13-.57 .13 .59 .14-.1 .13 .17 .14-.06 .13-.39 .13 .45 .14-.65 .13 .63 .14 .01 .13-.32 .13 .28 .14-.23 .13 .25 .14 .19 .13-.5 .13-.15 .14 .58 .13-.49 .14 .32 .13 .05 .13-.49 .14 .66 .13-.2 .14 .34 .13-.07 .13-.23 .14 .05 .13-.56 .14 .26 .13 .44 .13-.33 .14 .15 .13 .19 .14-.28 .13-.06 .13 .4 .14-.75 .13 .15 .14 .59 .13 .09 .13-.17 .14-.65 .13 .4 .14 .22 .13-.18 .13 .32 .14-.21 .13-.84 .14 1.07 .13-1 .13 .49 .14 .25 .13 .29 .14-.11 .13-.51 .13-.51 .14-.54 .13-.7 .14-1.41 .13-1.31 .13-2.43 .14-3 .13-2.01 .14-3.17 .13 0 .13 .62 .14 2.23 .13 2.27 .14 3.64 .13 2.39 .13 1.22 .14 .99 .13 1.03 .14 .89 .13-.03 .13-.03 .14 0 .13-.06 .14-.11 .13 .17 .13 .28 .14-.4 .13 .35 .14 .09 .13 .04 .13 .8 .14-.78 .13-.58 .14 .94 .13-.07 .13 .22 .14-.13 .13 .14 .14-.87 .13 .66 .13-.02 .14 .19 .13-.08 .14-.4 .13 .64 .13-.31 .14-.04 .13-.59 .14 .81 .13-.47 .13 .45 .14-.17 .13 .14 .14-.07 .13 .22 .13-.23 .14 .23 .13-.7 .14 .87 .13-.07 .13-.48 .14 .57 .13 .01 .14-.09 .13-.24 .13 .16 .14-.12 .13 .03 .14 .17 .13 .12 .13-.37 .14-.22 .13 .58 .14-.38 .13-.12 .13-.3 .14 .61 .13-.44 .14 .16 .13 .57 .13-.52 .14-.23 .13 .29 .14-.31 .13 .37 .13-.14 .14-.32 .13 .42 .14-.14 .13-.07 .13 .23 .14 .07 .13-.11 .14 .18 .13-.12 .13-.07 .14 .37 .13-.21 .14-.25 .13 .14 .13 .15 .14-.19 .13 .15 .14-.31 .13 .17 .13 .09 .14 .3 .13-.22 .14 .27 .13-.05 .13-.19 .14-.17 .13 .64 .14-.43 .13 .91 .13-.99 .14 .61 .13-.32 .14 .01 .13-.51 .13-.09 .14 .39 .13-.3 .14 .69 .13 .23 .13-.79 .14 .32 .13-.06 .14-.25 .13 .31 .13-.04 .14-.6 .13 .5 .14 .3 .13-.33 .13 .1 .14 .23 .13-.37 .14 .08 .13-.61 .13 .4 .14 .49 .13-.33 .14-.08 .13 .08 .13-.21 .14 .11 .13 .05 .14-.27 .13-.14 .13 .26 .14-.32 .13-.08 .14 .01 .13-.21 .13-.14 .14-.24 .13-.06 .14-.23 .13 .77 .13-.01 .14-.14 .13 .44 .14-.55 .13 .49 .13 .13 .14 .09 .13 .11 .14-.02 .13 .14 .13-.26 .14 0 .13 .11 .14-.22 .13-.25 .13 .08 .14-.42 .13 .25 .14-.37 .13-.47 .13-.3 .14-.92 .13-.9 .14-.97 .13-1.76 .13-.82 .14 .02 .13 .18 .14 .15 .13 1.28 .13 1.44 .14 .04 .13 1.12 .14 1.04 .13-.14 .13 .84 .14 .6 .13-.14 .14 .42 .13-.12 .13-.12 .14 .29 .13-.12 .14-.2 .13 .04 .13 .05 .14 .07 .13-.75 .14 .72 .13-.47 .13 .09 .14-.25 .13 .3 .14-.72 .13-.38 .13-.83 .14-1.36 .13-1.59 .14-2.52 .13-3.68 .13-2.28 .14-3.46 .13-3.25 .14-.57 .13-1.14 .13 .5 .14 1.97 .13 2.34 .14 3.28 .13 3.5 .13 2.37 .14 2.73 .13 1.87 .14 1.22 .13 .69 .13 .31 .14 .73 .13 .12 .14 .31 .13 .09 .13-.03 .14 .34 .13-.3 .14 .18 .13 .11 .13-.29 .14 .16 .13 .66 .14-.72 .13 .28 .13-.24 .14-.11 .13 .36 .14 .23 .13-.49 .13 .33 .14-.17 .13 .21 .14 .18 .13-.26 .13 .05 .14 .06 .13 .27 .14-.18 .13 .08 .13 .13 .14-.19 .13 .34 .14-.38 .13 .26 .13 .06 .14-.52 .13 .37 .14-.14 .13-.12 .13 .19 .14 .02 .13-.28 .14 .1 .13 .21 .13-.2 .14 .45 .13-.21 .14-.48 .13 .51 .13 .02 .14 .01 .13-.1 .14 .01 .13-.12 .13-.04 .14 .11 .13-.16 .14-.2 .13 .15 .13 .34 .14 .05 .13-.11 .14-.23 .13 .09 .13 .21 .14-.36 .13-.25 .14 .63 .13-.4 .13 .45 .14-.11 .13-.14 .14-.13 .13-.08 .13-.09 .14 .1 .13 .03 .14 .23 .13-.12 .13 .22 .14-.25 .13-.09 .14-.02 .13 .21 .13 .36 .14-.55 .13 0 .14-.05 .13 .09 .13 .37 .14-.2 .13 .03 .14-.42 .13 .39 .13-.14 .14 .36 .13-.38 .14-.09 .13 .21 .13-.17 .14 .07 .13 .65 .14-.44 .13-.18 .13 .04 .14-.09 .13 .3 .14 .11 .13-.46 .13 .01 .14 .49 .13-.13 .14-.53 .13 .12 .13 .04 .14 .39 .13-.39 .14-.31 .13 .34 .13-.11 .14-.1 .13 .27 .14-.06 .13 .28 .13-.33 .14-.23 .13 .11 .14-.41 .13 .26 .13-.1 .14 .19 .13 .06 .14-.29 .13-.5 .13-.24 .14-.69 .13 .24 .14-.14 .13 0 .13-.32 .14-.65 .13 .03 .14-.2 .13-.09 .13 .04 .14 .25 .13 .17 .14 .29 .13 .05 .13 .5 .14 .11 .13-.02 .14 .63 .13 .09 .13 .02 .14 .27 .13 .27 .14-.38 .13 .76 .13 .1 .14-.21 .13 .07 .14 .18 .13-.33 .13 .14 .14 .28 .13-.22 .14 .09 .13-.31 .13 .03 .14-.09 .13 .6 .14-.29 .13-.21 .13 .35 .14-.49 .13 .11 .14 .52 .13-.17 .13-.16 .14 .4 .13-.38 .14-.05 .13-.12 .13 .4 .14 .03 .13 .01 .14-.33 .13-.12 .13 .22 .14 .2 .13-.5 .14 .55 .13-.13 .13-.56 .14 .41 .13 .02 .14 .08 .13-.21 .13 .13 .14-.14 .13-.46 .14 .59 .13-.32 .13 .16 .14-.08 .13 .27 .14-.16 .13 .21 .13-.25 .14-.32 .13 .3 .14 .27 .13 .05 .13-.13 .14-.06 .13-.04 .14-.15 .13-.18 .13 .14 .14-.09 .13-.45 .14 .46 .13-.09 .13-.44 .14 .19 .13-.77 .14-.58 .13 .42 .13 .19 .14-.15 .13 .2 .14-.52 .13-.23 .13 .72 .14-.73 .13-.1 .14 .75 .13 0 .13 .35 .14 .18 .13-.55 .14 .71 .13 .04 .13 .29 .14 .04 .13 .25 .14-.09 .13-.02 .13-.23 .14 .13 .13 .42 .14-.31 .13 .26 .13 .01 .14-.51 .13 .03 .14 .56 .13-.58 .13-.54 .14 .11 .13-.32 .14-.31 .13-.38 .13-.14 .14-.82 .13-.44 .14 .3 .13-.74 .13-.19 .14 .12 .13-.08 .14-.12 .13 .34 .13 .1 .14 .62 .13 .29 .14 .34 .13 .42 .13 .18 .14 .5 .13 .13 .14 .29 .13 .1 .13-.14 .14 .39 .13-.24 .14 0 .13-.68 .13 .37 .14-.29 .13-.16 .14-.63 .13-.55 .13-.6 .14 .93 .13-1.22 .14 .03 .13-.3 .13 .53 .14 .09 .13 .29 .14-.09 .13 .92 .13 .01 .14 .35 .13 .27 .14 .15 .13 .16 .13 .5 .14-.23 .13 .29 .14 .23 .13 .16 .13 .5 .14-.73 .13 .15 .14 .21 .13-.34 .13-.18 .14 .14 .13 .04 .14-.24 .13 .15 .13-.56 .14-.78 .13 .07 .14 .39 .13-.07 .13-.44 .14 .29 .13-.02 .14-.04 .13 .72 .13-.8 .14 .8 .13-.34 .14 .25 .13 .18 .13-.12 .14 .69 .13-.22 .14 .45 .13 .45 .13-.43 .14 .68 .13-.44 .14 .4 .13 .23 .13-.3 .14-.21 .13-.04 .14-.03 .13 .31 .13-.2 .14 0 .13 .56 .14-.03 .13-.28 .13-.42 .14-.03 .13 .15 .14 .21 .13-.42 .13 .8 .14-.44 .13 .17 .14-.02 .13 .03 .13 .05 .14-.28 .13 .12 .14 .12 .13-.11 .13-.2 .14 .04 .13-.05 .14 .12 .13-.11 .13 .52 .14 .15 .13-.48 .14-.2 .13 .06 .13 .03 .14-.23 .13 .23 .14 .15 .13-.02 .13-.08 .14 .41 .13-.43 .14 .06 .13 .14 .13-.34 .14 .33 .13-.14 .14 .07 .13 .2 .13-.48 .14-.25 .13 .84 .14-.45 .13 .14 .13-.25 .14 .38 .13-.28 .14 .05 .13 .11 .13-.01 .14-.18 .13 .28 .14-.08 .13 .28 .13-.33 .14-.14 .13 .06 .14 .24 .13-.32 .13 .36 .14-.37 .13 .24 .14-.04 .13-.09 .13-.17 .14 .26 .13 .13 .14-.27 .13 .25 .13-.21 .14 .21 .13-.03 .14-.11 .13 .02 .13 .04 .14-.42 .13 .2 .14-.15 .13-.12 .13 .08 .14-.18 .13-.14 .14 .38 .13-.25 .13-.11 .14 .19 .13-.13 .14 .37 .13-.28 .13 .05 .14-.03 .13-.04 .14 .2 .13 .04 .13 .2 .14 .01 .13 0 .14-.15 .13 .06 .13 .14 .14-.19 .13-.04 .14 .15 .13 .05 .13 .16 .14-.05 .13-.07 .14 .6 .13-.06 .13-.22 .14-.07 .13 .09 .14-.2 .13 .23 .13-.24 .14-.04 .13 .16 .14-.02 .13 .19 .13 .08 .14 .02 .13-.58 .14 .57 .13-.31 .13 .3 .14 .03 .13 .24 .14-.44 .13 .07 .13 0 .14 .35 .13-.33 .14 .02 .13 .06 .13-.3 .14 .07 .13 .12 .14 .28 .13-.14 .13-.19 .14 .3 .13-.2 .14 .41 .13-.7 .13 .57 .14-.07 .13 .42 .14-.49 .13 .14 .13 .01 .14-.42 .13 .03 .14 .17 .13 .1 .13-.05 .14-.26 .13 .14 .14-.4 .13 .76 .13-.63 .14 .28 .13 .02 .14-.38 .13 .34 .13-.05 .14 .1 .13-.08 .14 .14 .13-.28 .13 .15 .14-.12 .13 .13 .14 .37 .13-.44 .13 .29 .14 .08 .13-.43 .14-.24 .13 .31 .13 .32 .14-.39 .13 .11 .14 .05 .13 .25 .13-.31 .14 .47 .13-.61 .14 .35 .13-.27 .13-.27 .14 .68 .13-.34 .14-.13 .13 .83 .13-.49 .14-.08 .13-.05 .14 .52 .13-.54 .13 .04 .14 .06 .13-.35 .14 .49 .13-.24 .13-.03 .14 .34 .13-.28 .14 .13 .13 .18 .13-.18 .14-.19 .13 .01 .14 .13 .13-.09 .13-.15 .14 .28 .13-.07 .14-.12 .13-.12 .13 .55 .14-.18 .13-.31 .14 .03 .13 .11 .13 .33 .14-.03 .13-.21 .14 .07 .13-.49 .13 .44 .14 .07 .13-.06 .14-.05 .13-.15 .13 .4 .14-.16 .13 .04 .14-.04 .13-.01 .13 0 .14 .17 .13-.43 .14 .17 .13 .22 .13-.04 .14 .04 .13-.17 .14-.12 .13 .07 .13 .15 .14-.23 .13 .14 .14-.18 .13 .13 .13 .59 .14-.83 .13 .41 .14 .13 .13-.07 .13-.02 .14-.19 .13-.06 .14 .54 .13-.76 .13 .46 .14-.4 .13 .45 .14-.05 .13-.23 .13-.2 .14 .25 .13-.25 .14 .27 .13-.1 .13-.05 .14 .02 .13-.12 .14-.32 .13 .48 .13-.03 .14-.33 .13-.09 .14 .1 .13-.03 .13 .26 .14-.15 .13 .22 .14-.18 .13-.02 .13 .23 .14 .2 .13-.21 .14 .12 .13 .17 .13-.24 .14 .08 .13-.08 .14 .09 .13-.08 .13 .3 .14-.01 .13 0 .14-.12 .13 .2 .13-.19 .14 .16 .13 .06 .14-.33 .13 .38 .13-.17 .14-.01 .13-.06 .14 .06 .13 .12 .13 .08 .14 .09 .13-.21 .14-.12 .13-.03 .13 .13 .14-.22 .13 .13 .14 .04 .13-.2 .13 .03 .14 .07 .13-.15 .14 .19 .13 .24 .13-.22 .14 .13 .13-.43 .14 .28 .13 .13 .13 .05 .14 .19 .13-.31 .14-.33 .13 .47 .13 .09 .14-.29 .13-.03 .14 .1 .13 .16 .13-.16 .14 .04 .13 .15 .14-.38 .13 .13 .13 .21 .14-.23 .13 .4 .14-.2 .13-.06 .13 .14 .14 .19 .13-.49 .14 .03 .13 .12 .13-.1 .14 .24 .13-.18 .14 .16 .13 .03 .13-.15 .14 .23 .13-.57 .14 .38 .13-.14 .13 .26 .14 .09 .13-.27 .14-.15 .13 .16 .13 .07 .14 .1 .13 .03 .14 0 .13-.17 .13 .31 .14-.08 .13-.17 .14-.07 .13 .16 .13-.18 .14 .08 .13-.11 .14 .17 .13-.01 .13-.11 .14 .28 .13-.29 .14 .04 .13 .09 .13 .01 .14 .06 .13 .01 .14-.23 .13-.17 .13 .34 .14-.01 .13 .02 .14-.12 .13-.1 .13-.08 .14 .37 .13-.02 .14-.39 .13 .22 .13 .19 .14-.25 .13-.24 .14 .26 .13 .21 .13 .04 .14-.26 .13 .28 .14-.24 .13 .11 .13-.18 .14 .13 .13 .14 .14-.21 .13 .32 .13 .06 .14-.38 .13 .07 .14 .06 .13-.09 .13-.27 .14 .44 .13-.14 .14-.12 .13 .14 .13 .15 .14 .27 .13-.32 .14 0 .13 .15 .13 .1 .14-.07 .13-.25 .14 .18 .13 .1 .13-.19 .14 0 .13 .06 .14-.11 .13 .13 .13 .11 .14-.17 .13-.05 .14 .24 .13-.15 .13 .01 .14 0 .13 .21 .14-.28 .13 .14 .13 .11 .14 .01 .13-.14 .14 .05 .13 .05 .13-.07 .14 .05 .13-.06 .14 .04 .13 .05 .13-.28 .14 .31 .13-.14 .14-.06 .13-.01 .13-.23 .14 .2 .13 .03 .14-.22 .13-.04 .13 .48 .14-.08 .13-.38 .14 .36 .13-.09 .13-.03 .14 0 .13-.09 .14 .27 .13-.04 .13-.15 .14-.19 .13 .18 .14 .15 .13-.25 .13-.04 .14 .09 .13-.21 .14 .03 .13 .06 .13 .32 .14-.16 .13-.32 .14 .22 .13 .18 .13-.01 .14-.38 .13 .18 .14-.05 .13-.02 .13 .21 .14 .06 .13-.15 .14-.2 .13-.05 .13 .38 .14-.54 .13 .01 .14 .2 .13-.21 .13 .32 .14-.04 .13-.35 .14 .01 .13 .29 .13-.32 .14 .14 .13 .21 .14-.47 .13 .12 .13-.15 .14-.07 .13-.16 .14-.25 .13 .55 .13-.28 .14-.1 .13 .39 .14 0 .13-.27 .13 0 .14 .04 .13 .12 .14 .11 .13-.38 .13 .47 .14 .12 .13 .07 .14 .13 .13-.29 .13 .16 .14-.23 .13 .19 .14 .03 .13 .01 .13 .26 .14-.15 .13-.21 .14 .17 .13 0 .13 .23 .14-.16 .13-.21 .14 .3 .13 .06 .13 .03 .14-.31 .13 .11 .14-.03 .13 .08 .13-.08 .14-.32 .13 .09 .14 .06 .13-.27 .13 .17 .14-.58 .13 .11 .14-.02 .13 .01 .13-.01 .14-.3 .13-.5 .14 .45 .13-.12 .13-.42 .14 .04 .13 0 .14-.05 .13 .3 .13-.52 .14-.21 .13 .24 .14 .31 .13-.02 .13-.4 .14 .22 .13-.19 .14 .36 .13-.04 .13 .18 .14 .02 .13 .08 .14 .42 .13-.46 .13 .57 .14-.1 .13 .09 .14 .41 .13-.01 .13-.11 .14 .14 .13 .07 .14-.15 .13 .59 .13-.03 .14-.25 .13 .31 .14-.1 .13-.01 .13-.04 .14 .1 .13 .15 .14 .37 .13-.28 .13-.26 .14 .2 .13 .01 .14 .3 .13-.37 .13 .3 .14-.27 .13-.01 .14 .19 .13 .01 .13-.01 .14-.03 .13 .18 .14-.59 .13 .51 .13-.19 .14-.03 .13 .2 .14-.02 .13 .02 .13 .28 .14-.19 .13-.23 .14 .2 .13-.28 .13 .29 .14 .06 .13 .07 .14-.11 .13 .13 .13-.02 .14-.14 .13 .23 .14-.01 .13-.21 .13 .1 .14 0 .13-.08 .14-.04 .13-.08 .13-.19 .14 .06 .13 .23 .14 .05 .13-.02 .13-.02 .14-.1 .13 .19 .14-.28 .13 .1 .13 .03 .14 0 .13 .14 .14 .1 .13-.23 .13-.3 .14 .44 .13-.06 .14-.06 .13 .21 .13-.2 .14 .14 .13-.34 .14-.01 .13 .36 .13 .09 .14-.6 .13 .26 .14 .23 .13-.19 .13 0 .14 .06 .13-.18 .14 .13 .13-.2 .13 .54 .14-.15 .13-.27 .14 .14 .13 .21 .13-.15 .14 .1 .13-.13 .14 .1 .13-.11 .13 .02 .14 .21 .13-.34 .14-.04 .13 .22" fill="none" stroke="#0000ff" stroke-width="1.05" stroke-linejoin="round"/>
<path d="M327.15 365.8l.13-1.07 .14 .31 .13-1.16 .14 .92 .13-.44 .13 .23 .14-.29 .13 .88 .14-1 .13-.04 .13 1.16 .14-.82 .13-.33 .14 .53 .13 .2 .13-.05 .14 .12 .13 .17 .14-.24 .13 .2 .13-.51 .14 .28 .13 .51 .14 .71 .13-1.64 .13-.43 .14 .48 .13 .56 .14-1.39 .13 1.78 .13-.3 .14-.19 .13-1.33 .14 .86 .13 .05 .13 .04 .14 .13 .13 .57 .14-.35 .13-1.18 .13 .02 .14 1.37 .13 .07 .14 1.08 .13-1.23 .13-.43 .14 .85 .13-.29 .14-.26 .13 1.05 .13-.25 .14-1.02 .13 .41 .14-.3 .13 .12 .13-.03 .14 .09 .13 .69 .14-.64 .13-.35 .13 .68 .14-.26 .13 .13 .14 .11 .13-1.25 .13 1.24 .14-.4 .13-.05 .14-.55 .13 .03 .13 .65 .14-.24 .13 .57 .14-.13 .13 .3 .13-1.1 .14 .6 .13-.48 .14 .14 .13-.37 .13 .53 .14 .02 .13-.62 .14-.15 .13 .97 .13-.54 .14 .24 .13 .13 .14-.31 .13 1.35 .13-.51 .14-1.11 .13 .07 .14 .11 .13-.07 .13 1.1 .14-1.04 .13-.59 .14 2.29 .13-1.71 .13 .41 .14-.14 .13-.52 .14 .38 .13-.24 .13 .58 .14-.32 .13-.03 .14-.17 .13 .51 .13-1.35 .14 .12 .13 .35 .14-.23 .13 .67 .13 .58 .14-.49 .13-.54 .14 .3 .13-.19 .13-1.43 .14 .21 .13-.76 .14-.05 .13-1.48 .13-1.97 .14-5.01 .13-6.07 .14-11.29 .13-12.19 .13-12.45 .14-7.56 .13-.27 .14 6.76 .13 12.38 .13 13.72 .14 10.51 .13 5.96 .14 6.07 .13 1.18 .13 1.81 .14-.13 .13 .23 .14 1.02 .13 .28 .13 .85 .14-1.26 .13 .68 .14 .25 .13 .68 .13-.36 .14 .25 .13 .21 .14-.24 .13-1.01 .13 1.87 .14-.07 .13-.18 .14-.32 .13 .41 .13-.39 .14-.43 .13 1.12 .14-1.07 .13 .34 .13 .87 .14-.31 .13-1.03 .14 .55 .13 .59 .13-.53 .14 .67 .13-.31 .14-.15 .13 .58 .13-.14 .14 .53 .13-1.3 .14 .98 .13-.72 .13 .34 .14 .19 .13-.26 .14 1.36 .13-1.24 .13 .37 .14-.89 .13 .28 .14 .68 .13 0 .13-.74 .14 .09 .13-.5 .14 .05 .13 1.55 .13-1.44 .14-.17 .13 .77 .14 1.07 .13-.97 .13-.81 .14 .77 .13-.24 .14 .37 .13-.73 .13 .49 .14 .75 .13-1.45 .14 .91 .13 1.07 .13-.86 .14-.21 .13 .52 .14-.28 .13-.25 .13-.16 .14 .16 .13-.42 .14 1.4 .13-.1 .13-.17 .14-.87 .13-.21 .14 .12 .13-.01 .13 1.14 .14-.77 .13 .76 .14-.31 .13 .43 .13-.98 .14 .96 .13-.03 .14-.02 .13-.59 .13 1.52 .14-1.46 .13 .92 .14-.52 .13 .42 .13-.39 .14-.55 .13 1.51 .14 .26 .13-1.02 .13-.42 .14 .75 .13-.86 .14 1.16 .13-.38 .13-.51 .14 .2 .13-.37 .14-.72 .13 .41 .13 1.75 .14-1.95 .13 .49 .14 .27 .13-1.1 .13 1.41 .14-.35 .13 .34 .14-.81 .13 .66 .13-.08 .14-.77 .13 .78 .14-.55 .13 .67 .13-.43 .14 .14 .13 .69 .14-.76 .13-.32 .13 .59 .14-.26 .13 .24 .14-.11 .13-.58 .13 .59 .14-.8 .13 .65 .14-1.25 .13-.63 .13-.77 .14-1.07 .13-3.17 .14-3.61 .13-6.94 .13-8.18 .14-10 .13-10.12 .14-5.99 .13-2.27 .13 2.6 .14 5.67 .13 9.86 .14 10.04 .13 9.05 .13 6.15 .14 3.49 .13 3.73 .14 .81 .13 1.22 .13 .05 .14 .57 .13 .48 .14 .29 .13 .39 .13 .39 .14 .01 .13-.38 .14 .71 .13-.11 .13-.36 .14 .73 .13-.06 .14-1.46 .13 1.09 .13 .25 .14-.43 .13 .38 .14 .01 .13-.04 .13 .16 .14 .04 .13 .04 .14-.56 .13 .18 .13-.09 .14 .03 .13 .62 .14-.24 .13-.72 .13 1.02 .14 .01 .13-.29 .14 .58 .13-1.33 .13 1.04 .14-.85 .13 1.23 .14-.29 .13 .77 .13-1.16 .14-.25 .13 .15 .14-1.54 .13 .69 .13 .09 .14-.45 .13-1.58 .14-.19 .13-.32 .13-1.02 .14 .04 .13-.73 .14-.42 .13-.36 .13 1.01 .14-.83 .13 .79 .14 .61 .13 1.42 .13 .17 .14 .39 .13 .76 .14 .21 .13 1.4 .13-.85 .14 .19 .13 .87 .14 .52 .13-.42 .13-.33 .14-.04 .13 .76 .14 .77 .13-1.35 .13 .2 .14-.17 .13 .38 .14 .62 .13-.18 .13-.31 .14-1 .13 1.09 .14 .11 .13-.62 .13 .79 .14-.07 .13-1.48 .14-.41 .13-.4 .13-1.74 .14-1.09 .13-.47 .14-2.27 .13-1.79 .13-1.39 .14-2.88 .13-1.36 .14-4.03 .13-.57 .13-.74 .14-.98 .13-.18 .14-.12 .13 1.18 .13 4.52 .14-.13 .13 3.85 .14 .47 .13 3.23 .13 2.33 .14 .77 .13 1.58 .14 1.31 .13-.22 .13 .78 .14 1.5 .13 .8 .14 .04 .13-.34 .13 .39 .14 .08 .13-.13 .14 .47 .13-.21 .13-.51 .14 .94 .13 .08 .14-.05 .13-.07 .13-.38 .14-.47 .13-.01 .14-.19 .13-.43 .13-.33 .14 1.13 .13-1.42 .14 .13 .13 .26 .13-.32 .14 .41 .13-.2 .14 .07 .13 1.06 .13 .36 .14-.53 .13 .8 .14 .65 .13-1.09 .13 1.52 .14-.91 .13 .55 .14-.81 .13-.09 .13-.58 .14 .68 .13-.64 .14-.44 .13 .34 .13-.23 .14 .44 .13-.2 .14 .13 .13 1.01 .13 0 .14 .05 .13 .83 .14 0 .13 .04 .13-.34 .14 .04 .13-.52 .14 1.18 .13-.11 .13-.5 .14 .34 .13-.48 .14 1.01 .13-.19 .13-.19 .14 .1 .13 .23 .14-.31 .13 .66 .13-.31 .14-.3 .13 .92 .14-.75 .13-.3 .13 .69 .14 .17 .13-.54 .14 .07 .13 .52 .13-.17 .14-.14 .13-.11 .14-.38 .13 .86 .13-.52 .14 .18 .13-.36 .14 .82 .13-.75 .13 .55 .14-.05 .13 .19 .14-.64 .13 .85 .13-.64 .14-.24 .13 .68 .14-.18 .13 .48 .13-.41 .14 .43 .13-.96 .14 .84 .13-.14 .13 0 .14 .67 .13 .25 .14-1.81 .13 1.23 .13-1.1 .14 .72 .13 .27 .14-.52 .13 .02 .13 .83 .14-.65 .13-.53 .14 .48 .13-.32 .13 .75 .14-.12 .13-.01 .14-.04 .13 .42 .13-.5 .14 .36 .13-.57 .14 .96 .13-.5 .13-.34 .14 .1 .13 .18 .14-.41 .13 .24 .13 .09 .14 .16 .13 .15 .14-.45 .13 .04 .13 .16 .14-.28 .13 1.06 .14-.36 .13-.09 .13-.66 .14 .84 .13-.14 .14 .13 .13-.46 .13 .21 .14 .1 .13-.02 .14-.43 .13 .16 .13 .21 .14 .01 .13 .05 .14 .32 .13-.24 .13-.46 .14 1.13 .13-.61 .14-.61 .13 .91 .13-.12 .14 .43 .13-.27 .14-.03 .13-.22 .13-.07 .14-.14 .13 .18 .14-.23 .13-.4 .13 .11 .14 .95 .13-.74 .14 .17 .13-.05 .13 .03 .14 .2 .13 .12 .14-.68 .13 .39 .13 .35 .14 .07 .13-.14 .14-.38 .13 .58 .13 0 .14-.13 .13-.03 .14-.18 .13-.19 .13-.13 .14 .2 .13-.17 .14 .31 .13-.09 .13-.63 .14 1.21 .13-.26 .14-.1 .13 .1 .13-.21 .14-.17 .13 .15 .14-.04 .13 .15 .13 .15 .14-.77 .13-.08 .14 .63 .13 .16 .13 .24 .14-.31 .13 .05 .14-.12 .13 .39 .13-.35 .14 0 .13-.15 .14 .79 .13-.5 .13-.27 .14 .21 .13-.55 .14 .14 .13 .62 .13 .06 .14-.25 .13 .38 .14-.25 .13 .36 .13-.76 .14 .1 .13 .51 .14-.3 .13-.06 .13-.01 .14 .04 .13 .17 .14-.55 .13 .26 .13-.36 .14 1.04 .13-1.02 .14 .46 .13 .03 .13-.17 .14 .09 .13 .36 .14-.1 .13-.03 .13-.2 .14-.06 .13 .39 .14-.03 .13-.31 .13-.15 .14 .1 .13-.04 .14-.42 .13 .57 .13-.12 .14 .27 .13-.36 .14 .15 .13-.34 .13-.42 .14 .18 .13-1.03 .14-.74 .13-.95 .13-2.01 .14-.72 .13-2.16 .14-1.77 .13-.07 .13 .46 .14 .75 .13 1.97 .14 2.19 .13 1.15 .13 .9 .14 .95 .13 .89 .14 .1 .13 .74 .13-.06 .14-.15 .13 .38 .14-.31 .13 .37 .13 .44 .14-1.1 .13 .73 .14 .17 .13 .28 .13-.1 .14-.16 .13-.08 .14-.01 .13 .34 .13-.29 .14-.16 .13 .31 .14 .12 .13-.52 .13-.16 .14 .08 .13-.13 .14 .26 .13 .2 .13-.06 .14-.03 .13-.07 .14-.06 .13 .38 .13 .09 .14-.02 .13 .02 .14-.25 .13-.1 .13 .34 .14 .42 .13 .01 .14 .25 .13-.93 .13 .53 .14-1.08 .13 .54 .14 .02 .13-.18 .13-.16 .14 .41 .13 .37 .14-.12 .13-.58 .13 .58 .14-.04 .13-.02 .14 .14 .13 .25 .13 .16 .14-.52 .13-.36 .14 .76 .13-.52 .13 .1 .14-.06 .13 .36 .14 .08 .13-.5 .13-.22 .14 1.07 .13-.59 .14 .24 .13-.3 .13-.06 .14 .24 .13-.15 .14-.1 .13 .06 .13 .01 .14 .03 .13-.06 .14-.07 .13-.06 .13 .51 .14 .44 .13-.43 .14-.62 .13 .35 .13-.08 .14 .12 .13-.46 .14-.03 .13 .63 .13-.81 .14 .82 .13-.05 .14-.32 .13-.02 .13 .01 .14 .25 .13 .27 .14-.25 .13-.22 .13 .39 .14-.61 .13 .32 .14 .32 .13-.39 .13 .08 .14 .03 .13-.13 .14 .6 .13-.12 .13-.09 .14 .14 .13 .02 .14 .21 .13-.58 .13 .31 .14-.1 .13-.2 .14 0 .13 .23 .13-.41 .14 .43 .13-.64 .14 .55 .13-.02 .13-.53 .14 .35 .13 .08 .14 .31 .13-.72 .13-.3 .14 .18 .13-.2 .14-.01 .13-.34 .13-.07 .14 .06 .13-.28 .14-.26 .13 .57 .13-.11 .14 .06 .13 .61 .14-.25 .13 .11 .13-.05 .14-.19 .13 .26 .14 .53 .13-.35 .13 .04 .14 .22 .13-.08 .14-.32 .13-.01 .13 .53 .14 .03 .13-.2 .14-.75 .13 .21 .13-.79 .14-.79 .13 .2 .14-1.33 .13-1.36 .13-.53 .14-.03 .13-.47 .14 1.13 .13 .19 .13 .53 .14 1.03 .13 .3 .14 .71 .13 .81 .13 .56 .14-.12 .13 .21 .14-.58 .13 .44 .13-.14 .14 .21 .13-.4 .14 .02 .13 .34 .13-.11 .14 .08 .13-.31 .14 .18 .13-.09 .13-.28 .14-.36 .13-.36 .14 .02 .13-1.31 .13-1.02 .14-1.2 .13-1.88 .14-1.62 .13-3.16 .13-2.05 .14-2.87 .13-1 .14-2.13 .13-.63 .13 .41 .14 1.54 .13 2.15 .14 1.97 .13 2.7 .13 2.58 .14 2.89 .13 .66 .14 1.55 .13 1.01 .13 .97 .14 .64 .13 .59 .14-.2 .13-.11 .13 .69 .14 .12 .13-.44 .14 .5 .13-.03 .13 .09 .14 .19 .13-.26 .14 .09 .13 .03 .13 .21 .14 .14 .13-.69 .14 .28 .13 .01 .13 .42 .14-.12 .13 .01 .14-.2 .13 .34 .13 .01 .14-.27 .13 .14 .14-.15 .13 .26 .13-.19 .14 .34 .13-.5 .14 .47 .13 .13 .13-.3 .14 .22 .13-.24 .14-.27 .13 .54 .13-.32 .14-.15 .13 .44 .14 .04 .13-.09 .13 .06 .14 .1 .13-.4 .14 .13 .13-.57 .13 .48 .14 .26 .13-.08 .14-.21 .13 .06 .13-.03 .14 .06 .13-.21 .14 .32 .13-.17 .13-.23 .14 .33 .13-.62 .14 .57 .13-.19 .13 .28 .14-.15 .13-.55 .14 .47 .13 .22 .13-.07 .14 .06 .13-.3 .14-.08 .13 .03 .13 .34 .14-.07 .13-.23 .14 .08 .13 .01 .13 .15 .14-.41 .13 .08 .14 .05 .13-.13 .13 .52 .14-.19 .13-.19 .14 .01 .13 .06 .13 .47 .14-.69 .13 .28 .14 .21 .13-.13 .13 .54 .14-.72 .13 .15 .14 0 .13 .19 .13-.08 .14-.06 .13-.32 .14 .46 .13-.15 .13 .13 .14 .07 .13-.93 .14 .44 .13 .41 .13 .19 .14 0 .13-.21 .14-.36 .13 .9 .13-.69 .14 .47 .13-.27 .14 .1 .13 .28 .13-.45 .14 .32 .13-.11 .14-.03 .13-.05 .13-.58 .14 .02 .13 .17 .14-.11 .13 .61 .13-.34 .14-.46 .13-.09 .14-.28 .13 .04 .13-.11 .14-.39 .13-.55 .14 .07 .13-.49 .13-.61 .14 .3 .13-.08 .14-.23 .13 .57 .13-.13 .14-.31 .13 .18 .14 .08 .13 .4 .13 .14 .14 .71 .13 .4 .14-.67 .13 .44 .13 .21 .14 .15 .13 .42 .14 .26 .13-.57 .13 .78 .14-.15 .13 .33 .14-.25 .13-.49 .13 .15 .14 .1 .13 .17 .14 .22 .13 .2 .13-.39 .14 .1 .13-.31 .14 .18 .13-.27 .13 .32 .14 .3 .13-.42 .14 .22 .13-.32 .13 .5 .14-.19 .13-.11 .14 .39 .13-.5 .13 .34 .14-.41 .13 .26 .14-.12 .13 .21 .13-.04 .14 .09 .13-.19 .14-.37 .13 .47 .13-.07 .14-.4 .13 .23 .14 .52 .13-.51 .13 .1 .14-.4 .13 .32 .14 .2 .13-.24 .13 .11 .14-.14 .13 .31 .14 .23 .13-.18 .13-.05 .14-.22 .13 .08 .14 .16 .13-.48 .13 .17 .14 .06 .13 .27 .14-.12 .13-.01 .13-.34 .14-.09 .13 .31 .14-.2 .13-.36 .13 .09 .14-.17 .13 .19 .14-.76 .13-.06 .13-.11 .14-.16 .13-.19 .14 .3 .13-.2 .13 .1 .14 0 .13 .17 .14-.31 .13 .25 .13 .23 .14 .39 .13 .15 .14 .54 .13-.17 .13 .11 .14-.07 .13 .19 .14 .21 .13-.06 .13-.57 .14 .5 .13-.1 .14 .25 .13-.34 .13 .2 .14-.04 .13-.06 .14 .34 .13-1.02 .13-.09 .14-.25 .13 .19 .14-.31 .13-.18 .13-.62 .14-.1 .13-.6 .14-.36 .13-.58 .13-.26 .14 .29 .13-.01 .14 .01 .13 .04 .13 .79 .14 .04 .13 .56 .14 .32 .13 .1 .13 .36 .14-.09 .13 .77 .14 .06 .13-.25 .13 .7 .14-.39 .13-.02 .14-.57 .13 .07 .13-.24 .14-.27 .13 .05 .14-.52 .13-.16 .13-.31 .14 .05 .13-.41 .14 .16 .13 .09 .13-.4 .14-.14 .13 .92 .14-.43 .13 .77 .13 .02 .14 .24 .13 .21 .14 .95 .13 .37 .13-.33 .14 .08 .13 .13 .14 .05 .13 .74 .13-.5 .14 .03 .13 .24 .14-.13 .13 .09 .13-.14 .14-.15 .13-.15 .14-.17 .13-.07 .13-.44 .14 .06 .13 .11 .14-.29 .13 .32 .13-.22 .14-.23 .13 .36 .14 .02 .13 .17 .13-.55 .14 .47 .13 .39 .14 .08 .13-.11 .13 .63 .14-.14 .13 .01 .14-.22 .13 .38 .13-.25 .14 .03 .13 .26 .14-.17 .13 .13 .13-.13 .14 .22 .13 .08 .14-.21 .13 .18 .13 .24 .14-.3 .13-.02 .14 .36 .13-.22 .13-.03 .14 .22 .13-.24 .14-.04 .13-.1 .13 .51 .14-.36 .13 .02 .14 .19 .13-.13 .13-.04 .14 .03 .13 .23 .14-.18 .13-.23 .13 .35 .14 .08 .13-.34 .14 .17 .13 .01 .13-.03 .14 .01 .13 .12 .14-.43 .13 .45 .13 .09 .14 .14 .13-.17 .14-.3 .13 .15 .13-.25 .14 .02 .13 .43 .14 .08 .13-.02 .13-.3 .14-.01 .13-.05 .14-.04 .13 .32 .13-.44 .14 .14 .13 .24 .14-.27 .13 .01 .13 .26 .14-.17 .13-.21 .14 .34 .13-.06 .13 .22 .14 0 .13-.27 .14 .25 .13-.01 .13-.34 .14 .17 .13-.38 .14 .09 .13 .2 .13 .32 .14-.4 .13 .46 .14-.53 .13 .22 .13 .04 .14-.22 .13 .06 .14 .08 .13 .18 .13 .1 .14-.45 .13 .24 .14-.27 .13 0 .13-.24 .14 .31 .13-.09 .14 .3 .13-.11 .13-.49 .14 .47 .13-.46 .14 .1 .13-.28 .13 .34 .14-.27 .13-.1 .14 .56 .13-.45 .13 .22 .14-.27 .13 .28 .14 .17 .13-.24 .13 .06 .14 .44 .13-.12 .14-.02 .13-.11 .13 .02 .14-.02 .13 .26 .14-.2 .13 .27 .13-.01 .14 .01 .13 .2 .14 .17 .13-.15 .13 .07 .14-.02 .13-.04 .14-.01 .13-.38 .13 .33 .14 0 .13 .3 .14-.14 .13 .19 .13-.31 .14-.08 .13-.07 .14 .3 .13-.17 .13-.09 .14 .23 .13-.13 .14 .36 .13-.45 .13 .52 .14 .11 .13-.54 .14 .02 .13-.07 .13 .15 .14-.06 .13-.12 .14 .51 .13-.22 .13-.03 .14 .34 .13-.31 .14-.14 .13 .01 .13 .16 .14-.31 .13 .34 .14 .18 .13-.09 .13 0 .14 .03 .13-.26 .14-.19 .13 .46 .13-.29 .14 .47 .13-.66 .14 .25 .13 .18 .13 0 .14-.24 .13 .45 .14-.15 .13-.08 .13 .04 .14 .05 .13 .04 .14-.19 .13 .14 .13-.03 .14 .09 .13-.27 .14 .39 .13-.25 .13 .11 .14-.56 .13 .46 .14 .24 .13-.23 .13-.34 .14 .23 .13 .36 .14-.72 .13 .42 .13-.36 .14 .57 .13 .01 .14-.35 .13-.16 .13 .33 .14-.06 .13-.12 .14 .02 .13-.39 .13 .8 .14-.55 .13 .03 .14-.05 .13 .32 .13 .2 .14-.23 .13 .21 .14-.17 .13 .01 .13 .18 .14-.02 .13-.09 .14-.01 .13-.2 .13 .07 .14 .21 .13 .02 .14 .03 .13-.19 .13 .51 .14-.5 .13-.1 .14 .44 .13-.76 .13 .33 .14 .07 .13-.2 .14 .39 .13-.15 .13-.06 .14-.01 .13-.01 .14 .31 .13-.23 .13-.34 .14-.03 .13 .15 .14 .13 .13 .13 .13 .02 .14-.23 .13 .19 .14 .31 .13-.29 .13-.04 .14 .32 .13 .01 .14-.17 .13-.08 .13 0 .14 .09 .13-.54 .14 .27 .13 .16 .13 .15 .14 .17 .13-.29 .14 .24 .13-.11 .13-.18 .14 .19 .13-.16 .14 .34 .13-.15 .13-.16 .14-.1 .13 .03 .14 .19 .13-.1 .13-.13 .14 .09 .13 .43 .14-.6 .13 .46 .13-.2 .14-.43 .13 .56 .14-.31 .13-.37 .13 .43 .14-.3 .13 .2 .14-.38 .13 .29 .13-.06 .14 .02 .13-.08 .14 .25 .13-.32 .13 0 .14 .1 .13-.07 .14 .04 .13-.05 .13 .34 .14-.11 .13 .31 .14-.2 .13 .08 .13-.3 .14 .33 .13-.12 .14 .18 .13-.1 .13-.1 .14 .37 .13-.49 .14 .25 .13-.19 .13 .3 .14-.1 .13 .4 .14-.32 .13-.07 .13 .39 .14-.4 .13 .24 .14-.04 .13 .05 .13-.14 .14-.15 .13 .21 .14-.17 .13 .02 .13 .22 .14-.02 .13-.23 .14 .06 .13 .02 .13 .18 .14-.34 .13 .51 .14-.01 .13 .01 .13-.33 .14 .19 .13 .15 .14-.26 .13-.03 .13-.08 .14 .32 .13-.15 .14-.08 .13 .28 .13-.36 .14-.15 .13 .43 .14-.02 .13-.17 .13-.01 .14 0 .13 .02 .14 .07 .13-.19 .13-.04 .14 .25 .13-.03 .14 .15 .13-.4 .13 .06 .14 .17 .13 .16 .14 .04 .13-.13 .13 .05 .14-.06 .13-.24 .14 .51 .13 .06 .13-.26 .14-.06 .13 .22 .14 .1 .13-.11 .13-.18 .14 .03 .13 .25 .14-.03 .13-.02 .13-.28 .14 .11 .13 .21 .14-.3 .13-.07 .13-.04 .14 .16 .13-.02 .14-.02 .13 .01 .13 .05 .14-.02 .13-.18 .14 .06 .13 .19 .13-.06 .14 .02 .13-.08 .14 .15 .13-.01 .13 .05 .14-.16 .13-.03 .14 .36 .13-.23 .13-.45 .14 .18 .13 .27 .14-.37 .13 .15 .13 .35 .14-.07 .13-.16 .14 .27 .13-.14 .13 .06 .14-.09 .13 .09 .14-.2 .13-.1 .13 .16 .14 .22 .13-.26 .14 .06 .13 .01 .13-.29 .14 .49 .13-.17 .14-.17 .13 .36 .13-.26 .14-.04 .13-.2 .14 .2 .13 .15 .13-.05 .14 .11 .13-.22 .14 .35 .13-.16 .13 .04 .14-.12 .13 .18 .14 .01 .13-.14 .13 .07 .14 .17 .13-.04 .14-.37 .13 .25 .13 .05 .14 .19 .13-.32 .14 .12 .13-.23 .13 .22 .14-.1 .13 .22 .14-.19 .13-.05 .13 .39 .14-.02 .13-.19 .14-.08 .13 .04 .13-.15 .14 .22 .13 .14 .14-.23 .13 .14 .13-.18 .14-.04 .13 .25 .14-.44 .13 .1 .13-.13 .14 .3 .13 .18 .14-.31 .13 .1 .13 .3 .14-.06 .13-.2 .14 .03 .13-.42 .13 .34 .14-.24 .13 .13 .14 .3 .13-.08 .13-.01 .14 .06 .13-.12 .14 .01 .13 .05 .13-.1 .14 0 .13 .12 .14-.13 .13 .02 .13-.09 .14 .09 .13-.17 .14 .17 .13 0 .13 .03 .14 .2 .13-.07 .14-.39 .13 .28 .13-.17 .14 .15 .13-.19 .14 .18 .13-.23 .13 .21 .14-.2 .13-.03 .14 .24 .13 .01 .13-.25 .14 .05 .13-.09 .14 .12 .13 .04 .13-.26 .14 .31 .13-.23 .14-.36 .13 .27 .13-.21 .14 .07 .13-.19 .14 .28 .13-.54 .13 .24 .14-.01 .13-.1 .14 .01 .13-.04 .13-.19 .14 .11 .13 .1 .14 .07 .13-.39 .13 .61 .14-.44 .13 .18 .14 0 .13 .13 .13-.14 .14 .59 .13-.7 .14 .64 .13-.07 .13-.12 .14 .41 .13-.13 .14-.35 .13 .29 .13 .02 .14-.16 .13 .1 .14 .16 .13 .16 .13 0 .14-.29 .13 .28 .14-.13 .13 .08 .13-.22 .14 .32 .13-.41 .14 .2 .13-.16 .13 .12 .14-.03 .13 .04 .14-.28 .13-.39 .13 .64 .14-.73 .13 .18 .14-.03 .13-.34 .13 .09 .14 .04 .13-.2 .14-.51 .13 .16 .13 .33 .14-.51 .13-.22 .14 .15 .13 .07 .13-.29 .14 .17 .13 .27 .14-.38 .13 .13 .13-.12 .14 .18 .13-.1 .14 .08 .13-.12 .13 .05 .14 .21 .13 .12 .14-.16 .13 .39 .13-.21 .14 .34 .13 .43 .14-.23 .13 .14 .13-.05 .14 .1 .13 .13 .14 .3 .13-.15 .13 .01 .14 .39 .13-.3 .14 .32 .13 .11 .13 .01 .14-.14 .13 .09 .14 .08 .13-.04 .13 .15 .14 .09 .13 0 .14 .02 .13-.31 .13 .26 .14-.21 .13 .18 .14-.16 .13-.15 .13 .22 .14-.2 .13-.04 .14 .23 .13 .08 .13-.05 .14 .12 .13 .12 .14-.26 .13 0 .13 .2 .14-.19 .13 .16 .14 .06 .13-.28 .13 .03 .14-.03 .13 .07 .14-.08 .13 .4 .13-.09 .14-.25 .13-.23 .14 .18 .13 .08 .13-.01 .14 .08 .13 .06 .14-.03 .13-.02 .13-.09 .14 .05 .13-.16 .14 .01 .13 .1 .13 .03 .14-.06 .13 .15 .14-.31 .13 .13 .13 .04 .14 .03 .13-.16 .14 .21 .13-.24 .13 .09 .14 .06 .13 .03 .14 .14 .13-.12 .13 .23 .14-.18 .13-.22 .14 .14 .13-.05 .13-.07 .14 .09 .13-.12 .14 .17 .13 .2 .13 .09 .14-.3 .13 .08 .14-.26 .13 .46 .13-.17 .14-.03 .13-.14 .14-.05 .13 .45 .13-.46 .14 .17 .13 .23 .14-.45 .13 .15 .13 .06 .14 .19 .13 .05 .14-.13 .13 .18" fill="none" stroke="#ff00ee" stroke-width="1.05" stroke-linejoin="round"/>
<path d="M327.5 460.13l.13 .1 .14-.26 .13 .83 .14-.87 .13-.05 .13 .01 .14 .67 .13-.09 .14-1.36 .13 .75 .13 .26 .14 .06 .13-.9 .14 .35 .13-.88 .13 .82 .14 .11 .13 1.07 .14-.25 .13-1.2 .13 .29 .14 .26 .13 .82 .14-.42 .13 .04 .13-.98 .14 .26 .13-.05 .14 .17 .13 .92 .13-.97 .14-.71 .13 .71 .14 .58 .13-.84 .13-.46 .14 1.12 .13-1.39 .14 1.57 .13-.64 .13-.36 .14 1.68 .13-.57 .14-.76 .13 .29 .13-.57 .14 .19 .13-.09 .14-.56 .13 .53 .13-.07 .14-.13 .13 .57 .14 .07 .13-.09 .13 .78 .14-1.64 .13 .87 .14-1.2 .13 .85 .13 .29 .14-.35 .13-.34 .14 .04 .13 .33 .13-.17 .14 .95 .13-.39 .14 1.6 .13-1.08 .13-1.16 .14 1.05 .13-.35 .14 .27 .13-.56 .13 .95 .14-.88 .13-.6 .14 .24 .13 .77 .13-.74 .14-.1 .13 1.97 .14-1.31 .13 1.45 .13-1.43 .14-.22 .13 .02 .14 1.46 .13-1.75 .13 .28 .14-.6 .13 2.04 .14-.95 .13-1.43 .13 .1 .14 2.27 .13-.98 .14 .26 .13-1.24 .13 .07 .14 .6 .13 .32 .14-.55 .13 .3 .13-.35 .14 .87 .13 .44 .14-.68 .13-.93 .13-.11 .14 1.29 .13-1.18 .14 .58 .13-.96 .13 .81 .14-.88 .13-.86 .14 .72 .13-.26 .13-.95 .14 .47 .13-.5 .14-.24 .13-.64 .13-2.99 .14-4.9 .13-8.05 .14-11.79 .13-15.27 .13-13.89 .14-8.83 .13 .46 .14 7.83 .13 13.87 .13 15.01 .14 13.1 .13 6.45 .14 7.08 .13 2.14 .13 1.17 .14 .21 .13-.28 .14 .72 .13 .27 .13 .69 .14 .76 .13-1.87 .14 1.79 .13 0 .13-.16 .14-.57 .13-.46 .14 1.96 .13-.89 .13-.12 .14 .47 .13-.53 .14-.89 .13 2.03 .13 .29 .14-1.5 .13-.14 .14 .83 .13-.22 .13 .84 .14-.49 .13 .5 .14-.94 .13 0 .13 1.04 .14-1.27 .13 .51 .14 .2 .13 .04 .13 .03 .14-.09 .13-.24 .14 .19 .13-.71 .13 .57 .14-.2 .13 .29 .14-.96 .13 .99 .13 .08 .14 .42 .13-.04 .14-.83 .13-.15 .13 1.08 .14 .2 .13-.31 .14-.4 .13-.45 .13 1.42 .14-.35 .13 .31 .14-.55 .13-.68 .13 .99 .14-.55 .13 1.4 .14-1.54 .13 .61 .13 .07 .14 .82 .13-1.17 .14 .01 .13-.2 .13 1.34 .14-1.33 .13 .49 .14-.36 .13 .54 .13 .78 .14-.53 .13-.44 .14-.08 .13-.31 .13-.13 .14 1.24 .13-.82 .14 .19 .13-.48 .13 1.32 .14-.75 .13-.13 .14 .58 .13 .03 .13-.96 .14 1.01 .13-.16 .14-.39 .13 .07 .13-.29 .14-.84 .13 .45 .14 .65 .13 .48 .13-.44 .14 .52 .13-.13 .14-.7 .13 .36 .13 .65 .14-1.47 .13 1.07 .14 .13 .13 0 .13-.12 .14 .21 .13 .17 .14-.86 .13 1.15 .13-.45 .14-.48 .13 .37 .14 .68 .13 .09 .13-.99 .14-.18 .13 .34 .14-.13 .13 .56 .13-.07 .14-.53 .13 .87 .14-.56 .13 .46 .13-.98 .14 1.02 .13-.89 .14 .61 .13-.11 .13 .54 .14-1.13 .13-.18 .14 .21 .13-.38 .13 .7 .14-.39 .13-.3 .14 .02 .13-1.21 .13 .03 .14-3.21 .13-2.46 .14-5.54 .13-5.49 .13-6.67 .14-9.59 .13-6.32 .14-5.9 .13-2.82 .13 3.04 .14 5.45 .13 7.48 .14 9.28 .13 7.83 .13 5.62 .14 3.46 .13 3.25 .14 2.17 .13 .77 .13-.04 .14 .76 .13 .94 .14-.2 .13-.64 .13 .74 .14 1.1 .13-1 .14 .91 .13 .21 .13-.63 .14 .84 .13-.73 .14 .29 .13 .85 .13-.66 .14-.22 .13-.29 .14 .91 .13-.92 .13 1.43 .14-.63 .13 .33 .14-.65 .13 .18 .13-.04 .14 .55 .13-.26 .14-.19 .13 .58 .13-.19 .14 .64 .13-1.59 .14 1.57 .13-1.95 .13 1.08 .14-.61 .13 .36 .14 .27 .13-.12 .13 .38 .14-.15 .13-.28 .14-.07 .13-.17 .13-.49 .14-.06 .13-.56 .14-.22 .13-1.09 .13-1.07 .14 1.21 .13-1.48 .14-.14 .13-.94 .13 .97 .14 .53 .13 .48 .14-.39 .13 2.09 .13-.47 .14 .28 .13 1.04 .14 1.23 .13-.77 .13 1.09 .14-.03 .13 .18 .14-.49 .13-.37 .13 .12 .14 .44 .13-.01 .14 .22 .13-1.4 .13 1.64 .14-.08 .13-.16 .14-.59 .13 .69 .13-.57 .14 .03 .13-.44 .14-.07 .13 .57 .13-.86 .14-.19 .13 .43 .14-.16 .13 .52 .13-1.81 .14 .12 .13-2.26 .14-.83 .13-1.69 .13-2.37 .14-3.95 .13-2.42 .14-2.5 .13-1.63 .13-1.12 .14-2.46 .13 .93 .14 .21 .13 2.27 .13 2.18 .14 2.96 .13 1.75 .14 2.73 .13 2.58 .13 1.94 .14 2.23 .13 2 .14 .71 .13 .19 .13 .96 .14-.37 .13 .91 .14-.5 .13 .1 .13 1.03 .14-.56 .13 .39 .14 .41 .13-.43 .13 .08 .14-.54 .13 .97 .14-.75 .13 1.22 .13-.32 .14-1.26 .13 .79 .14-.15 .13-.52 .13-.15 .14 .58 .13-.73 .14 .29 .13-.71 .13 .06 .14 .36 .13-.14 .14 .61 .13 .93 .13-.51 .14-.46 .13 1.14 .14-.55 .13 .15 .13 1.01 .14-.93 .13-.11 .14-.44 .13-.08 .13-.21 .14-.18 .13-.23 .14-.43 .13-.07 .13 .44 .14 .4 .13 .29 .14 .38 .13-.12 .13 .24 .14-.37 .13 .32 .14 1.05 .13-.7 .13 .17 .14 .74 .13-.13 .14 .24 .13-.22 .13-.19 .14 .1 .13 .35 .14-.3 .13 .5 .13-.05 .14-.3 .13-.19 .14 .22 .13-.47 .13-.18 .14 .98 .13-.39 .14 .2 .13-.25 .13-.07 .14 .08 .13 .18 .14 .07 .13-.24 .13-.23 .14 .28 .13 .27 .14 .02 .13-.14 .13-.13 .14 .36 .13 .11 .14-.18 .13 .5 .13-.2 .14-.22 .13-.46 .14 .48 .13 .15 .13-.28 .14 .51 .13-.48 .14 .7 .13-.57 .13 .26 .14-.41 .13 .36 .14-.62 .13 1.1 .13 .33 .14-1.03 .13 1.2 .14-.78 .13-.21 .13-.79 .14 .53 .13-.13 .14 .86 .13-.69 .13-.19 .14 .38 .13-.26 .14 .19 .13-.93 .13 1.06 .14-.29 .13 .15 .14 .18 .13-.04 .13 .14 .14 .08 .13 .11 .14-.23 .13-.39 .13 .5 .14 .01 .13 .2 .14-.05 .13 0 .13-.13 .14-.1 .13 .21 .14-.5 .13-.06 .13-.19 .14 .45 .13 .26 .14 .39 .13-1 .13 .56 .14 .41 .13-.23 .14 .41 .13-.94 .13 .59 .14 .05 .13-.69 .14 .73 .13-.34 .13 .2 .14 .2 .13-.76 .14 .64 .13 .01 .13 .24 .14-.19 .13 .12 .14-.15 .13 .15 .13-.47 .14 .1 .13 .62 .14-.95 .13 .99 .13-.66 .14 .66 .13-.54 .14-.17 .13-.24 .13-.04 .14 .46 .13-.04 .14-.48 .13-.03 .13 .44 .14 .68 .13-.82 .14 .46 .13-.29 .13 .48 .14-.93 .13 .91 .14-.3 .13 .47 .13-.16 .14-.62 .13-.01 .14 .35 .13-.5 .13 .33 .14 .39 .13 .01 .14-.66 .13 .27 .13-.15 .14-.27 .13 1.09 .14-.71 .13 .29 .13 .02 .14-.36 .13-.36 .14 .38 .13 .69 .13-.66 .14 .66 .13-.05 .14 .06 .13-.64 .13 .7 .14-.37 .13 .28 .14 .2 .13 .11 .13-.39 .14 .41 .13-.71 .14-.02 .13 .58 .13-.07 .14-.07 .13 .24 .14 .06 .13-.41 .13 .17 .14 .32 .13-.4 .14 .14 .13-.15 .13-.05 .14 .11 .13 .46 .14-.43 .13-.02 .13 .05 .14-.45 .13 .31 .14-.38 .13 .72 .13-.11 .14-.47 .13 .46 .14-.53 .13 .27 .13 .58 .14-.47 .13-.42 .14 .58 .13-.48 .13 .35 .14-1.01 .13 1.18 .14-.25 .13 .1 .13-.03 .14 .03 .13-.34 .14 .53 .13-.53 .13-.11 .14 .24 .13 .36 .14-.66 .13 .37 .13-.63 .14-1.04 .13-.38 .14-.4 .13-1.62 .13-2.74 .14-2.3 .13-1.13 .14-1.48 .13-1.07 .13 .85 .14 1.45 .13 1.57 .14 1.94 .13 2.49 .13 1.05 .14 1.37 .13 .96 .14 .41 .13 .2 .13 .25 .14 .19 .13-.18 .14 .14 .13-.18 .13 .12 .14-.13 .13 .12 .14 .15 .13 .3 .13 .03 .14-.63 .13 .47 .14-.27 .13 .27 .13-.36 .14 .47 .13-.59 .14 .58 .13-.17 .13-.49 .14 .72 .13-.01 .14 .11 .13-.31 .13 .24 .14-.56 .13 .52 .14 .27 .13-.33 .13 .15 .14 .08 .13-.78 .14 .74 .13 .05 .13-.16 .14 .06 .13-.17 .14 .12 .13-.01 .13 .11 .14 .37 .13-.22 .14-.71 .13 .98 .13-.87 .14 .82 .13-.61 .14 .11 .13 .39 .13 .11 .14-.5 .13 .45 .14-.14 .13-.15 .13-.11 .14 .28 .13 .16 .14-.18 .13-.12 .13-.44 .14 .86 .13-.29 .14-.15 .13-.16 .13 .62 .14-.15 .13 .22 .14-.22 .13 .24 .13 .04 .14 .09 .13-.46 .14 .94 .13-1.21 .13 .47 .14-.07 .13-.17 .14 .52 .13-.75 .13 .26 .14-.05 .13 .53 .14-.27 .13-.02 .13-.06 .14-.19 .13 .05 .14 .04 .13 .01 .13-.01 .14 .47 .13-.33 .14-.47 .13 .43 .13 .19 .14-.19 .13 .14 .14-.02 .13-.1 .13-.25 .14-.02 .13 .31 .14-.44 .13 .21 .13 .27 .14-.07 .13-.1 .14 .02 .13 .09 .13 0 .14-.27 .13-.36 .14 .21 .13-.09 .13 .55 .14-.52 .13 .76 .14-.66 .13 .04 .13 .06 .14 .03 .13-.02 .14 .13 .13-.22 .13-.66 .14 .91 .13-.17 .14-.09 .13-.13 .13-.25 .14-.03 .13-.46 .14 .05 .13-.84 .13-.17 .14 .12 .13 .29 .14 .21 .13 .13 .13-.45 .14 .63 .13 .36 .14-.07 .13 .21 .13 .56 .14-.42 .13-.24 .14 .48 .13-.32 .13 0 .14 .29 .13-.46 .14-.17 .13 .31 .13-.36 .14 .44 .13-.21 .14-.37 .13 .2 .13-.78 .14-.58 .13-1.1 .14-.92 .13-1.47 .13-.57 .14-.31 .13-.12 .14 .12 .13 .94 .13 .92 .14 .83 .13 1.5 .14 .41 .13 .29 .13 .52 .14 .25 .13 .41 .14 .24 .13-.2 .13 .19 .14 0 .13-.14 .14 .55 .13-.22 .13-.35 .14-.34 .13-.02 .14 0 .13-.14 .13 .09 .14-.9 .13-.56 .14-.52 .13-1.55 .13-.94 .14-1.42 .13-1.48 .14-2.52 .13-2.44 .13-2.95 .14-2.32 .13-1.29 .14-2.27 .13 .18 .13 .59 .14 1.47 .13 1.6 .14 2.31 .13 1.67 .13 3.2 .14 1.87 .13 2.63 .14 1.67 .13 .88 .13 .66 .14 1.44 .13 .49 .14 .98 .13-1.05 .13 .43 .14 .71 .13-.01 .14-.18 .13 .39 .13-.33 .14 .22 .13-.04 .14 .57 .13-.48 .13 .17 .14-.32 .13 .56 .14-.23 .13 0 .13-.19 .14-.05 .13 .43 .14-.26 .13 .22 .13 .2 .14-.33 .13 .09 .14-.49 .13 .25 .13 .29 .14-.49 .13 .24 .14-.14 .13-.2 .13 .74 .14-.12 .13-.06 .14-.23 .13 .6 .13 .08 .14-.01 .13-.13 .14-.33 .13-.27 .13 .42 .14-.18 .13 .24 .14 .09 .13 .05 .13-.41 .14-.09 .13 .29 .14-.29 .13 .3 .13 .3 .14-.49 .13 .21 .14 .27 .13-.36 .13 .19 .14-.24 .13-.15 .14 .42 .13-.03 .13-.32 .14 .26 .13 .02 .14-.02 .13-.17 .13-.17 .14 .09 .13-.17 .14 .64 .13-.49 .13-.19 .14 .34 .13 .56 .14-.38 .13-.12 .13-.54 .14 .29 .13 .34 .14-.1 .13 .05 .13-.73 .14 .59 .13 .17 .14-.11 .13-.26 .13 .12 .14 .13 .13 .29 .14-.51 .13 .15 .13-.02 .14 .66 .13-.71 .14 .01 .13-.15 .13 .17 .14-.13 .13 .07 .14 .01 .13 .01 .13-.3 .14 .06 .13 .32 .14-.06 .13 .06 .13-.16 .14 .11 .13 .08 .14-.39 .13 .37 .13-.1 .14 .03 .13-.1 .14 .51 .13-.39 .13-.23 .14 .27 .13-.04 .14 .26 .13-.14 .13-.62 .14 .49 .13-.33 .14 .23 .13-.17 .13 .03 .14-.45 .13 .19 .14-.64 .13 .12 .13-.67 .14 .56 .13-.33 .14-1.08 .13-.07 .13 .05 .14-.05 .13-.33 .14 .37 .13-.26 .13-.16 .14 .22 .13 .31 .14-.37 .13 .49 .13 .13 .14 .56 .13 .21 .14 .29 .13 .04 .13 .31 .14-.16 .13 1.25 .14-.23 .13 .26 .13 .05 .14-.3 .13 .19 .14 .04 .13 .11 .13-.3 .14 .27 .13-.09 .14-.16 .13 .03 .13-.29 .14 .5 .13-.64 .14 .18 .13 .33 .13-.24 .14 .21 .13 .33 .14-.4 .13 .02 .13 .14 .14-.09 .13-.19 .14 .34 .13-.05 .13-.27 .14 .46 .13-.03 .14-.57 .13 .58 .13-.37 .14 .59 .13-.16 .14-.51 .13 .41 .13 .04 .14-.2 .13 .27 .14-.05 .13-.17 .13-.1 .14-.18 .13 .32 .14 .02 .13 .21 .13-.03 .14-.15 .13 .11 .14-.15 .13 .18 .13-.36 .14 .11 .13-.05 .14 .12 .13 .15 .13 .45 .14-.72 .13 .15 .14-.3 .13-.35 .13 .25 .14-.19 .13 .32 .14 .13 .13-.13 .13-.35 .14-.44 .13 .25 .14-.08 .13-.32 .13-.02 .14-.39 .13-.02 .14-.25 .13-.09 .13 .57 .14-.63 .13 .58 .14-.27 .13-.03 .13 .91 .14-.48 .13 .23 .14 .45 .13 .08 .13 .21 .14 .23 .13-.4 .14 .3 .13-.07 .13-.1 .14 .02 .13 .14 .14-.22 .13 .14 .13 .1 .14-.28 .13 0 .14-.15 .13 .29 .13-.61 .14-.12 .13 .1 .14-.74 .13-.1 .13-.23 .14-.32 .13-.05 .14-.22 .13-.76 .13-.44 .14-.13 .13 .46 .14-.06 .13 .15 .13 .1 .14 .08 .13 .57 .14 .54 .13 .49 .13 .18 .14-.08 .13 .67 .14-.03 .13 .45 .13-.73 .14 .75 .13-.56 .14 .57 .13-.72 .13-.13 .14 .28 .13-.35 .14 .16 .13-.93 .13 .16 .14-.21 .13 .22 .14 .11 .13-.68 .13 .2 .14-.27 .13 .8 .14-.41 .13 .08 .13 .54 .14 .41 .13-.23 .14 .37 .13 .05 .13 .38 .14 .51 .13-.18 .14-.25 .13 .33 .13 .07 .14-.16 .13 .71 .14-.16 .13-.47 .13 .21 .14-.19 .13-.49 .14 .36 .13-.1 .13-.08 .14-.14 .13 .06 .14-.72 .13 .54 .13-.18 .14-.35 .13 .3 .14-.44 .13 .47 .13 .16 .14-.15 .13 .35 .14 .05 .13 .3 .13-.09 .14 .23 .13-.37 .14 .37 .13 .08 .13 .23 .14 .06 .13 .15 .14-.38 .13-.26 .13 .14 .14 .35 .13-.03 .14 .04 .13-.37 .13 .23 .14 .44 .13 .04 .14-.07 .13 .1 .13-.34 .14 .23 .13-.19 .14 .15 .13 .08 .13-.51 .14 .55 .13-.04 .14-.16 .13-.09 .13 .65 .14-.06 .13-.06 .14-.24 .13 .05 .13 .36 .14-.37 .13 .07 .14 .02 .13-.11 .13-.25 .14 .14 .13-.26 .14 .36 .13 .15 .13-.29 .14 .15 .13 .02 .14 .18 .13-.16 .13-.43 .14 .19 .13 .34 .14 .07 .13 0 .13 .24 .14-.67 .13 .02 .14 .01 .13 .13 .13 .4 .14-.42 .13 .03 .14-.02 .13-.03 .13-.07 .14 .27 .13-.06 .14-.23 .13 .32 .13 .24 .14-.22 .13-.35 .14 .1 .13 .34 .13-.17 .14-.02 .13-.16 .14 .12 .13-.32 .13 .66 .14-.38 .13 .09 .14 0 .13-.31 .13 .02 .14 .02 .13 .04 .14 .21 .13-.26 .13 .34 .14 .13 .13-.24 .14-.23 .13-.05 .13 .1 .14-.36 .13 .49 .14-.08 .13-.47 .13 .13 .14 .28 .13-.3 .14-.11 .13 .2 .13-.29 .14-.06 .13-.16 .14-.12 .13 .93 .13-.56 .14-.08 .13 .1 .14 0 .13 .13 .13-.22 .14 .28 .13-.18 .14-.05 .13 .23 .13 .59 .14-.49 .13 .17 .14 0 .13-.05 .13 .02 .14 .33 .13-.1 .14 .2 .13-.39 .13 .17 .14-.02 .13 .07 .14-.09 .13 .23 .13 .11 .14-.32 .13 .28 .14-.11 .13 .02 .13 .4 .14-.3 .13-.03 .14-.08 .13-.05 .13-.12 .14 .32 .13-.05 .14-.06 .13 .04 .13 .18 .14-.09 .13 .17 .14-.09 .13 .27 .13-.15 .14-.39 .13 .25 .14 .2 .13-.16 .13-.46 .14 .27 .13 0 .14-.01 .13 .07 .13 .11 .14-.23 .13 .24 .14 .02 .13-.16 .13 0 .14 .19 .13-.43 .14 .06 .13 .61 .13-.51 .14 .05 .13-.06 .14 .25 .13-.07 .13 .32 .14 0 .13-.37 .14 .09 .13 .13 .13-.02 .14-.35 .13 .13 .14 .37 .13-.51 .13 .21 .14 .1 .13-.14 .14 .01 .13-.11 .13 .34 .14 .07 .13 .07 .14-.14 .13-.29 .13 .06 .14-.06 .13-.15 .14 .06 .13 .29 .13 .02 .14-.1 .13-.12 .14 .07 .13 .06 .13 .11 .14-.23 .13-.12 .14 .39 .13 0 .13-.05 .14 .02 .13 .08 .14-.31 .13 .11 .13-.09 .14 .2 .13-.23 .14 .07 .13 .31 .13-.05 .14-.29 .13-.04 .14 .17 .13-.04 .13 .05 .14 .33 .13-.67 .14 .5 .13-.33 .13 .12 .14 .15 .13-.29 .14 .2 .13-.04 .13-.17 .14 .26 .13-.12 .14 .15 .13-.11 .13 .09 .14 .2 .13-.33 .14 .09 .13-.01 .13 .19 .14-.04 .13-.32 .14 .15 .13 .12 .13-.05 .14 .15 .13 .03 .14-.22 .13 .14 .13-.01 .14-.12 .13 .03 .14-.1 .13-.05 .13 .04 .14 .04 .13 .11 .14 .02 .13-.01 .13-.05 .14 .32 .13-.31 .14 .15 .13-.13 .13 .26 .14 .1 .13-.43 .14 0 .13 .35 .13-.45 .14 .39 .13-.19 .14 .12 .13-.16 .13 .25 .14-.09 .13 .2 .14-.64 .13 .35 .13-.07 .14 .05 .13-.09 .14-.04 .13 .06 .13 .26 .14-.21 .13-.11 .14-.1 .13 .07 .13 .01 .14 .02 .13-.13 .14-.28 .13 .48 .13 .01 .14-.29 .13 .08 .14 .08 .13-.06 .13 .3 .14 .07 .13-.23 .14 .17 .13-.29 .13 .36 .14-.15 .13 .25 .14 0 .13-.23 .13-.03 .14 .13 .13 .04 .14 .07 .13-.08 .13-.21 .14 .36 .13-.17 .14 .24 .13-.27 .13 .24 .14-.02 .13 .02 .14-.12 .13 .09 .13-.15 .14 .37 .13-.21 .14-.2 .13 .22 .13 .05 .14 .04 .13-.03 .14 .24 .13-.01 .13-.1 .14-.05 .13-.17 .14 .17 .13-.04 .13 .06 .14-.16 .13 .1 .14 .19 .13-.31 .13 .11 .14 .17 .13-.29 .14-.16 .13-.21 .13 .29 .14 .12 .13-.23 .14-.07 .13 .02 .13 .29 .14-.16 .13-.11 .14 .15 .13-.19 .13 .21 .14-.01 .13-.37 .14 .39 .13 .17 .13-.44 .14 .2 .13 .14 .14-.08 .13 .21 .13-.04 .14-.09 .13-.11 .14-.05 .13 .2 .13 .08 .14 .1 .13-.21 .14 .1 .13-.24 .13 .25 .14-.04 .13-.07 .14-.01 .13 .02 .13 .01 .14-.19 .13 .39 .14-.12 .13 .01 .13-.18 .14 .33 .13-.11 .14-.08 .13-.22 .13-.11 .14 .32 .13 .01 .14-.16 .13 0 .13-.07 .14 .06 .13 .12 .14 .16 .13-.35 .13 .53 .14 0 .13-.23 .14-.08 .13-.03 .13-.21 .14 .59 .13-.37 .14-.03 .13 .1 .13-.06 .14-.09 .13 .13 .14 .11 .13-.18 .13-.12 .14 .3 .13-.1 .14-.09 .13 .18 .13 .04 .14-.16 .13-.09 .14 .05 .13 .36 .13-.34 .14 .24 .13-.25 .14 0 .13 .34 .13-.13 .14-.2 .13 .13 .14-.12 .13 .04 .13 .13 .14 .08 .13-.15 .14-.25 .13 .4 .13-.21 .14 .24 .13-.09 .14 0 .13 .03 .13-.1 .14-.15 .13 .57 .14-.17 .13-.17 .13-.01 .14 .02 .13 .08 .14-.07 .13-.11 .13 .06 .14 .41 .13-.09 .14-.29 .13 .03 .13-.12 .14 .08 .13 .05 .14 .03 .13-.06 .13 .2 .14-.21 .13 .04 .14-.33 .13 .04 .13 .35 .14 .24 .13-.34 .14 .07 .13-.42 .13 .41 .14 .02 .13 .19 .14-.47 .13 .26 .13-.1 .14 .1 .13-.13 .14 .11 .13-.07 .13-.2 .14-.02 .13-.1 .14 .1 .13 .29 .13-.13 .14 .02 .13 .27 .14-.62 .13 .32 .13 .13 .14 .22 .13-.52 .14 .41 .13-.2 .13 .22 .14-.07 .13 .03 .14 .03 .13-.1 .13 .31 .14-.06 .13-.62 .14 .33 .13 0 .13-.23 .14 .19 .13 .18 .14-.35 .13 .16 .13 .14 .14-.09 .13-.15 .14 .22 .13 .12 .13-.13 .14-.03 .13-.18 .14 .1 .13 .12 .13-.42 .14 .3 .13 .03 .14-.5 .13 .09 .13-.22 .14 .1 .13 .15 .14-.13 .13-.15 .13 .37 .14-.43 .13 .2 .14-.09 .13 .15 .13-.09 .14-.33 .13 .23 .14-.06 .13 .06 .13 .17 .14-.05 .13-.05 .14 .64 .13-.5 .13-.22 .14 .18 .13 .06 .14 .16 .13-.15 .13 .02 .14-.12 .13 .03 .14 0 .13 .08 .13 .22 .14-.27 .13 .24 .14-.21 .13 .28 .13 .11 .14-.26 .13 .05 .14-.04 .13 .05 .13 .19 .14-.17 .13 .08 .14 .05 .13 .01 .13-.32 .14-.39 .13 .64 .14-.6 .13 .09 .13-.09 .14-.01 .13 .09 .14-.08 .13 .03 .13-.21 .14-.31 .13 .21 .14-.48 .13-.03 .13 .05 .14-.26 .13-.03 .14-.17 .13 .32 .13-.32 .14-.39 .13 .34 .14-.19 .13-.34 .13 .18 .14-.17 .13 .31 .14 .19 .13-.16 .13 .49 .14-.34 .13-.06 .14 .31 .13 .33 .13 .18 .14 .08 .13-.02 .14-.16 .13 .31 .13-.09 .14 .51 .13 .08 .14 .1 .13 .25 .13 .04 .14-.13 .13 .13 .14 .06 .13-.08 .13 .27 .14-.04 .13 .02 .14 .03 .13-.11 .13 .08 .14 .08 .13-.22 .14 .31 .13-.18 .13 .11 .14-.12 .13 .53 .14-.31 .13-.05 .13-.25 .14 .2 .13 .31 .14-.28 .13 .07 .13 .05 .14 .11 .13-.26 .14 .18 .13-.07 .13 .03 .14-.34 .13 .4 .14 .13 .13 .06 .13-.42 .14-.03 .13-.19 .14 .39 .13-.09 .13 .06 .14 .06 .13 .03 .14 .08 .13-.09 .13 .04 .14-.1 .13-.2 .14 .09 .13 .1 .13 .13 .14-.16 .13 .04 .14-.11 .13 0 .13-.05 .14 .28 .13 .02 .14-.11 .13-.15 .13-.03 .14 .33 .13-.43 .14 .15 .13 .07 .13 .05 .14 .31 .13-.23 .14-.04 .13-.06 .13-.17 .14 .26 .13-.03 .14-.07 .13-.15 .13 .12 .14 0 .13-.12 .14 .26 .13-.2 .13 .05 .14 .03 .13-.02 .14-.02 .13 0 .13-.11 .14-.03 .13-.02 .14 .09 .13 .31 .13-.13 .14-.23 .13 .11 .14 .1 .13-.3 .13 .42 .14-.3 .13 .05 .14-.16 .13 0" fill="none" stroke="#000000" stroke-width="1.3" stroke-linejoin="round"/>
<g stroke="#ff0000" stroke-width="1.2">
<line x1="345.4" y1="391.2" x2="345.4" y2="413.7"/>
<line x1="367.1" y1="425.4" x2="367.1" y2="435.7"/>
<line x1="421.3" y1="455.8" x2="421.3" y2="457.8"/>
</g>
<g stroke="#505050" stroke-width="1" fill="none">
<line x1="35" y1="0" x2="35" y2="476.90"/>
<line x1="301.5" y1="0" x2="301.5" y2="476.90" stroke="#555"/>
<line x1="34.5" y1="0.75" x2="302" y2="0.75" stroke="#777" stroke-width="1.3"/>
<line x1="34.5" y1="96.00" x2="302" y2="96.00" stroke="#505050"/>
<line x1="34.5" y1="191.00" x2="302" y2="191.00" stroke="#505050"/>
<line x1="34.5" y1="286.45" x2="302" y2="286.45" stroke="#6a6a6a"/>
<line x1="34.5" y1="381.50" x2="302" y2="381.50" stroke="#6a6a6a"/>
<line x1="34.5" y1="476.40" x2="302" y2="476.40" stroke="#6a6a6a"/>
</g>
<g stroke="#333" stroke-width="0.9">
<line x1="51.83" y1="96.00" x2="51.83" y2="94.50"/>
<line x1="68.66" y1="96.00" x2="68.66" y2="93.40"/>
<line x1="85.49" y1="96.00" x2="85.49" y2="94.50"/>
<line x1="102.32" y1="96.00" x2="102.32" y2="93.40"/>
<line x1="119.15" y1="96.00" x2="119.15" y2="94.50"/>
<line x1="135.98" y1="96.00" x2="135.98" y2="93.40"/>
<line x1="152.81" y1="96.00" x2="152.81" y2="94.50"/>
<line x1="169.64" y1="96.00" x2="169.64" y2="93.40"/>
<line x1="186.47" y1="96.00" x2="186.47" y2="94.50"/>
<line x1="203.30" y1="96.00" x2="203.30" y2="93.40"/>
<line x1="220.13" y1="96.00" x2="220.13" y2="94.50"/>
<line x1="236.96" y1="96.00" x2="236.96" y2="93.40"/>
<line x1="253.79" y1="96.00" x2="253.79" y2="94.50"/>
<line x1="270.62" y1="96.00" x2="270.62" y2="93.40"/>
<line x1="287.45" y1="96.00" x2="287.45" y2="94.50"/>
<line x1="35" y1="83.91" x2="36.60" y2="83.91"/>
<line x1="35" y1="71.83" x2="37.80" y2="71.83"/>
<line x1="35" y1="59.74" x2="36.60" y2="59.74"/>
<line x1="35" y1="47.65" x2="37.80" y2="47.65"/>
<line x1="35" y1="35.57" x2="36.60" y2="35.57"/>
<line x1="35" y1="23.48" x2="37.80" y2="23.48"/>
<line x1="35" y1="11.39" x2="36.60" y2="11.39"/>
<line x1="51.83" y1="191.00" x2="51.83" y2="189.50"/>
<line x1="68.66" y1="191.00" x2="68.66" y2="188.40"/>
<line x1="85.49" y1="191.00" x2="85.49" y2="189.50"/>
<line x1="102.32" y1="191.00" x2="102.32" y2="188.40"/>
<line x1="119.15" y1="191.00" x2="119.15" y2="189.50"/>
<line x1="135.98" y1="191.00" x2="135.98" y2="188.40"/>
<line x1="152.81" y1="191.00" x2="152.81" y2="189.50"/>
<line x1="169.64" y1="191.00" x2="169.64" y2="188.40"/>
<line x1="186.47" y1="191.00" x2="186.47" y2="189.50"/>
<line x1="203.30" y1="191.00" x2="203.30" y2="188.40"/>
<line x1="220.13" y1="191.00" x2="220.13" y2="189.50"/>
<line x1="236.96" y1="191.00" x2="236.96" y2="188.40"/>
<line x1="253.79" y1="191.00" x2="253.79" y2="189.50"/>
<line x1="270.62" y1="191.00" x2="270.62" y2="188.40"/>
<line x1="287.45" y1="191.00" x2="287.45" y2="189.50"/>
<line x1="35" y1="178.91" x2="36.60" y2="178.91"/>
<line x1="35" y1="166.83" x2="37.80" y2="166.83"/>
<line x1="35" y1="154.74" x2="36.60" y2="154.74"/>
<line x1="35" y1="142.65" x2="37.80" y2="142.65"/>
<line x1="35" y1="130.57" x2="36.60" y2="130.57"/>
<line x1="35" y1="118.48" x2="37.80" y2="118.48"/>
<line x1="35" y1="106.39" x2="36.60" y2="106.39"/>
<line x1="51.83" y1="286.45" x2="51.83" y2="284.95"/>
<line x1="68.66" y1="286.45" x2="68.66" y2="283.85"/>
<line x1="85.49" y1="286.45" x2="85.49" y2="284.95"/>
<line x1="102.32" y1="286.45" x2="102.32" y2="283.85"/>
<line x1="119.15" y1="286.45" x2="119.15" y2="284.95"/>
<line x1="135.98" y1="286.45" x2="135.98" y2="283.85"/>
<line x1="152.81" y1="286.45" x2="152.81" y2="284.95"/>
<line x1="169.64" y1="286.45" x2="169.64" y2="283.85"/>
<line x1="186.47" y1="286.45" x2="186.47" y2="284.95"/>
<line x1="203.30" y1="286.45" x2="203.30" y2="283.85"/>
<line x1="220.13" y1="286.45" x2="220.13" y2="284.95"/>
<line x1="236.96" y1="286.45" x2="236.96" y2="283.85"/>
<line x1="253.79" y1="286.45" x2="253.79" y2="284.95"/>
<line x1="270.62" y1="286.45" x2="270.62" y2="283.85"/>
<line x1="287.45" y1="286.45" x2="287.45" y2="284.95"/>
<line x1="35" y1="274.36" x2="36.60" y2="274.36"/>
<line x1="35" y1="262.28" x2="37.80" y2="262.28"/>
<line x1="35" y1="250.19" x2="36.60" y2="250.19"/>
<line x1="35" y1="238.10" x2="37.80" y2="238.10"/>
<line x1="35" y1="226.02" x2="36.60" y2="226.02"/>
<line x1="35" y1="213.93" x2="37.80" y2="213.93"/>
<line x1="35" y1="201.84" x2="36.60" y2="201.84"/>
<line x1="51.83" y1="381.50" x2="51.83" y2="380.00"/>
<line x1="68.66" y1="381.50" x2="68.66" y2="378.90"/>
<line x1="85.49" y1="381.50" x2="85.49" y2="380.00"/>
<line x1="102.32" y1="381.50" x2="102.32" y2="378.90"/>
<line x1="119.15" y1="381.50" x2="119.15" y2="380.00"/>
<line x1="135.98" y1="381.50" x2="135.98" y2="378.90"/>
<line x1="152.81" y1="381.50" x2="152.81" y2="380.00"/>
<line x1="169.64" y1="381.50" x2="169.64" y2="378.90"/>
<line x1="186.47" y1="381.50" x2="186.47" y2="380.00"/>
<line x1="203.30" y1="381.50" x2="203.30" y2="378.90"/>
<line x1="220.13" y1="381.50" x2="220.13" y2="380.00"/>
<line x1="236.96" y1="381.50" x2="236.96" y2="378.90"/>
<line x1="253.79" y1="381.50" x2="253.79" y2="380.00"/>
<line x1="270.62" y1="381.50" x2="270.62" y2="378.90"/>
<line x1="287.45" y1="381.50" x2="287.45" y2="380.00"/>
<line x1="35" y1="369.41" x2="36.60" y2="369.41"/>
<line x1="35" y1="357.33" x2="37.80" y2="357.33"/>
<line x1="35" y1="345.24" x2="36.60" y2="345.24"/>
<line x1="35" y1="333.15" x2="37.80" y2="333.15"/>
<line x1="35" y1="321.07" x2="36.60" y2="321.07"/>
<line x1="35" y1="308.98" x2="37.80" y2="308.98"/>
<line x1="35" y1="296.89" x2="36.60" y2="296.89"/>
<line x1="51.83" y1="476.40" x2="51.83" y2="474.90"/>
<line x1="68.66" y1="476.40" x2="68.66" y2="473.80"/>
<line x1="85.49" y1="476.40" x2="85.49" y2="474.90"/>
<line x1="102.32" y1="476.40" x2="102.32" y2="473.80"/>
<line x1="119.15" y1="476.40" x2="119.15" y2="474.90"/>
<line x1="135.98" y1="476.40" x2="135.98" y2="473.80"/>
<line x1="152.81" y1="476.40" x2="152.81" y2="474.90"/>
<line x1="169.64" y1="476.40" x2="169.64" y2="473.80"/>
<line x1="186.47" y1="476.40" x2="186.47" y2="474.90"/>
<line x1="203.30" y1="476.40" x2="203.30" y2="473.80"/>
<line x1="220.13" y1="476.40" x2="220.13" y2="474.90"/>
<line x1="236.96" y1="476.40" x2="236.96" y2="473.80"/>
<line x1="253.79" y1="476.40" x2="253.79" y2="474.90"/>
<line x1="270.62" y1="476.40" x2="270.62" y2="473.80"/>
<line x1="287.45" y1="476.40" x2="287.45" y2="474.90"/>
<line x1="35" y1="464.31" x2="36.60" y2="464.31"/>
<line x1="35" y1="452.23" x2="37.80" y2="452.23"/>
<line x1="35" y1="440.14" x2="36.60" y2="440.14"/>
<line x1="35" y1="428.05" x2="37.80" y2="428.05"/>
<line x1="35" y1="415.97" x2="36.60" y2="415.97"/>
<line x1="35" y1="403.88" x2="37.80" y2="403.88"/>
<line x1="35" y1="391.79" x2="36.60" y2="391.79"/>
</g>
<g stroke="#383838" stroke-width="1" fill="none">
<line x1="326.50" y1="0.30" x2="326.50" y2="95.50"/>
<line x1="594.50" y1="0.30" x2="594.50" y2="95.50"/>
<line x1="326.00" y1="95.50" x2="595.00" y2="95.50"/>
<line x1="327.0" y1="95.50" x2="326.4" y2="190.50"/>
<line x1="594.70" y1="95.50" x2="594.70" y2="190.50"/>
<line x1="326.20" y1="190.50" x2="595.20" y2="190.50"/>
<line x1="327.00" y1="190.50" x2="327.00" y2="286.00"/>
<line x1="595.00" y1="190.50" x2="595.00" y2="286.00"/>
<line x1="326.50" y1="286.00" x2="595.50" y2="286.00"/>
<line x1="327.15" y1="286.00" x2="327.15" y2="381.50"/>
<line x1="595.20" y1="286.00" x2="595.20" y2="381.50"/>
<line x1="326.65" y1="381.50" x2="595.70" y2="381.50"/>
<line x1="327.50" y1="381.50" x2="327.50" y2="477.45"/>
<line x1="595.50" y1="381.50" x2="595.50" y2="477.45"/>
<line x1="327.00" y1="476.95" x2="596.00" y2="476.95"/>
<line x1="326" y1="0.1" x2="595" y2="0.1" stroke-width="1.1"/>
</g>
<g stroke="#222" stroke-width="0.9">
<line x1="343.25" y1="95.50" x2="343.25" y2="94.00"/>
<line x1="360.00" y1="95.50" x2="360.00" y2="92.90"/>
<line x1="376.75" y1="95.50" x2="376.75" y2="94.00"/>
<line x1="393.50" y1="95.50" x2="393.50" y2="92.90"/>
<line x1="410.25" y1="95.50" x2="410.25" y2="94.00"/>
<line x1="427.00" y1="95.50" x2="427.00" y2="92.90"/>
<line x1="443.75" y1="95.50" x2="443.75" y2="94.00"/>
<line x1="460.50" y1="95.50" x2="460.50" y2="92.90"/>
<line x1="477.25" y1="95.50" x2="477.25" y2="94.00"/>
<line x1="494.00" y1="95.50" x2="494.00" y2="92.90"/>
<line x1="510.75" y1="95.50" x2="510.75" y2="94.00"/>
<line x1="527.50" y1="95.50" x2="527.50" y2="92.90"/>
<line x1="544.25" y1="95.50" x2="544.25" y2="94.00"/>
<line x1="561.00" y1="95.50" x2="561.00" y2="92.90"/>
<line x1="577.75" y1="95.50" x2="577.75" y2="94.00"/>
<line x1="326.50" y1="84.93" x2="328.10" y2="84.93"/>
<line x1="326.50" y1="74.36" x2="329.30" y2="74.36"/>
<line x1="326.50" y1="63.79" x2="328.10" y2="63.79"/>
<line x1="326.50" y1="53.22" x2="329.30" y2="53.22"/>
<line x1="326.50" y1="42.65" x2="328.10" y2="42.65"/>
<line x1="326.50" y1="32.08" x2="329.30" y2="32.08"/>
<line x1="326.50" y1="21.51" x2="328.10" y2="21.51"/>
<line x1="326.50" y1="10.94" x2="329.30" y2="10.94"/>
<line x1="343.45" y1="190.50" x2="343.45" y2="189.00"/>
<line x1="360.20" y1="190.50" x2="360.20" y2="187.90"/>
<line x1="376.95" y1="190.50" x2="376.95" y2="189.00"/>
<line x1="393.70" y1="190.50" x2="393.70" y2="187.90"/>
<line x1="410.45" y1="190.50" x2="410.45" y2="189.00"/>
<line x1="427.20" y1="190.50" x2="427.20" y2="187.90"/>
<line x1="443.95" y1="190.50" x2="443.95" y2="189.00"/>
<line x1="460.70" y1="190.50" x2="460.70" y2="187.90"/>
<line x1="477.45" y1="190.50" x2="477.45" y2="189.00"/>
<line x1="494.20" y1="190.50" x2="494.20" y2="187.90"/>
<line x1="510.95" y1="190.50" x2="510.95" y2="189.00"/>
<line x1="527.70" y1="190.50" x2="527.70" y2="187.90"/>
<line x1="544.45" y1="190.50" x2="544.45" y2="189.00"/>
<line x1="561.20" y1="190.50" x2="561.20" y2="187.90"/>
<line x1="577.95" y1="190.50" x2="577.95" y2="189.00"/>
<line x1="326.70" y1="179.93" x2="328.30" y2="179.93"/>
<line x1="326.70" y1="169.36" x2="329.50" y2="169.36"/>
<line x1="326.70" y1="158.79" x2="328.30" y2="158.79"/>
<line x1="326.70" y1="148.22" x2="329.50" y2="148.22"/>
<line x1="326.70" y1="137.65" x2="328.30" y2="137.65"/>
<line x1="326.70" y1="127.08" x2="329.50" y2="127.08"/>
<line x1="326.70" y1="116.51" x2="328.30" y2="116.51"/>
<line x1="326.70" y1="105.94" x2="329.50" y2="105.94"/>
<line x1="343.75" y1="286.00" x2="343.75" y2="284.50"/>
<line x1="360.50" y1="286.00" x2="360.50" y2="283.40"/>
<line x1="377.25" y1="286.00" x2="377.25" y2="284.50"/>
<line x1="394.00" y1="286.00" x2="394.00" y2="283.40"/>
<line x1="410.75" y1="286.00" x2="410.75" y2="284.50"/>
<line x1="427.50" y1="286.00" x2="427.50" y2="283.40"/>
<line x1="444.25" y1="286.00" x2="444.25" y2="284.50"/>
<line x1="461.00" y1="286.00" x2="461.00" y2="283.40"/>
<line x1="477.75" y1="286.00" x2="477.75" y2="284.50"/>
<line x1="494.50" y1="286.00" x2="494.50" y2="283.40"/>
<line x1="511.25" y1="286.00" x2="511.25" y2="284.50"/>
<line x1="528.00" y1="286.00" x2="528.00" y2="283.40"/>
<line x1="544.75" y1="286.00" x2="544.75" y2="284.50"/>
<line x1="561.50" y1="286.00" x2="561.50" y2="283.40"/>
<line x1="578.25" y1="286.00" x2="578.25" y2="284.50"/>
<line x1="327.00" y1="275.43" x2="328.60" y2="275.43"/>
<line x1="327.00" y1="264.86" x2="329.80" y2="264.86"/>
<line x1="327.00" y1="254.29" x2="328.60" y2="254.29"/>
<line x1="327.00" y1="243.72" x2="329.80" y2="243.72"/>
<line x1="327.00" y1="233.15" x2="328.60" y2="233.15"/>
<line x1="327.00" y1="222.58" x2="329.80" y2="222.58"/>
<line x1="327.00" y1="212.01" x2="328.60" y2="212.01"/>
<line x1="327.00" y1="201.44" x2="329.80" y2="201.44"/>
<line x1="343.90" y1="381.50" x2="343.90" y2="380.00"/>
<line x1="360.65" y1="381.50" x2="360.65" y2="378.90"/>
<line x1="377.40" y1="381.50" x2="377.40" y2="380.00"/>
<line x1="394.15" y1="381.50" x2="394.15" y2="378.90"/>
<line x1="410.90" y1="381.50" x2="410.90" y2="380.00"/>
<line x1="427.65" y1="381.50" x2="427.65" y2="378.90"/>
<line x1="444.40" y1="381.50" x2="444.40" y2="380.00"/>
<line x1="461.15" y1="381.50" x2="461.15" y2="378.90"/>
<line x1="477.90" y1="381.50" x2="477.90" y2="380.00"/>
<line x1="494.65" y1="381.50" x2="494.65" y2="378.90"/>
<line x1="511.40" y1="381.50" x2="511.40" y2="380.00"/>
<line x1="528.15" y1="381.50" x2="528.15" y2="378.90"/>
<line x1="544.90" y1="381.50" x2="544.90" y2="380.00"/>
<line x1="561.65" y1="381.50" x2="561.65" y2="378.90"/>
<line x1="578.40" y1="381.50" x2="578.40" y2="380.00"/>
<line x1="327.15" y1="370.93" x2="328.75" y2="370.93"/>
<line x1="327.15" y1="360.36" x2="329.95" y2="360.36"/>
<line x1="327.15" y1="349.79" x2="328.75" y2="349.79"/>
<line x1="327.15" y1="339.22" x2="329.95" y2="339.22"/>
<line x1="327.15" y1="328.65" x2="328.75" y2="328.65"/>
<line x1="327.15" y1="318.08" x2="329.95" y2="318.08"/>
<line x1="327.15" y1="307.51" x2="328.75" y2="307.51"/>
<line x1="327.15" y1="296.94" x2="329.95" y2="296.94"/>
<line x1="344.25" y1="476.95" x2="344.25" y2="475.45"/>
<line x1="361.00" y1="476.95" x2="361.00" y2="474.35"/>
<line x1="377.75" y1="476.95" x2="377.75" y2="475.45"/>
<line x1="394.50" y1="476.95" x2="394.50" y2="474.35"/>
<line x1="411.25" y1="476.95" x2="411.25" y2="475.45"/>
<line x1="428.00" y1="476.95" x2="428.00" y2="474.35"/>
<line x1="444.75" y1="476.95" x2="444.75" y2="475.45"/>
<line x1="461.50" y1="476.95" x2="461.50" y2="474.35"/>
<line x1="478.25" y1="476.95" x2="478.25" y2="475.45"/>
<line x1="495.00" y1="476.95" x2="495.00" y2="474.35"/>
<line x1="511.75" y1="476.95" x2="511.75" y2="475.45"/>
<line x1="528.50" y1="476.95" x2="528.50" y2="474.35"/>
<line x1="545.25" y1="476.95" x2="545.25" y2="475.45"/>
<line x1="562.00" y1="476.95" x2="562.00" y2="474.35"/>
<line x1="578.75" y1="476.95" x2="578.75" y2="475.45"/>
<line x1="327.50" y1="466.38" x2="329.10" y2="466.38"/>
<line x1="327.50" y1="455.81" x2="330.30" y2="455.81"/>
<line x1="327.50" y1="445.24" x2="329.10" y2="445.24"/>
<line x1="327.50" y1="434.67" x2="330.30" y2="434.67"/>
<line x1="327.50" y1="424.10" x2="329.10" y2="424.10"/>
<line x1="327.50" y1="413.53" x2="330.30" y2="413.53"/>
<line x1="327.50" y1="402.96" x2="329.10" y2="402.96"/>
<line x1="327.50" y1="392.39" x2="330.30" y2="392.39"/>
</g>
<g font-size="9.7" fill="#000" stroke="#000" stroke-width="0.25" text-anchor="end">
<text x="32.2" y="99.25">0</text>
<text x="32.2" y="75.08">2300</text>
<text x="32.2" y="50.90">4600</text>
<text x="32.2" y="26.73">6900</text>
<text x="32.2" y="194.25">0</text>
<text x="32.2" y="170.08">2300</text>
<text x="32.2" y="145.90">4600</text>
<text x="32.2" y="121.73">6900</text>
<text x="32.2" y="289.70">0</text>
<text x="32.2" y="265.53">2300</text>
<text x="32.2" y="241.35">4600</text>
<text x="32.2" y="217.18">6900</text>
<text x="32.2" y="384.75">0</text>
<text x="32.2" y="360.58">2300</text>
<text x="32.2" y="336.40">4600</text>
<text x="32.2" y="312.23">6900</text>
<text x="32.2" y="479.65">0</text>
<text x="32.2" y="455.48">2300</text>
<text x="32.2" y="431.30">4600</text>
<text x="32.2" y="407.13">6900</text>
<text x="323.9" y="98.70">0</text>
<text x="323.9" y="77.56">2000</text>
<text x="323.9" y="56.42">4000</text>
<text x="323.9" y="35.28">6000</text>
<text x="323.9" y="14.14">8000</text>
<text x="323.9" y="193.70">0</text>
<text x="323.9" y="172.56">2000</text>
<text x="323.9" y="151.42">4000</text>
<text x="323.9" y="130.28">6000</text>
<text x="323.9" y="109.14">8000</text>
<text x="323.9" y="289.20">0</text>
<text x="323.9" y="268.06">2000</text>
<text x="323.9" y="246.92">4000</text>
<text x="323.9" y="225.78">6000</text>
<text x="323.9" y="204.64">8000</text>
<text x="323.9" y="384.70">0</text>
<text x="323.9" y="363.56">2000</text>
<text x="323.9" y="342.42">4000</text>
<text x="323.9" y="321.28">6000</text>
<text x="323.9" y="300.14">8000</text>
<text x="323.9" y="480.15">0</text>
<text x="323.9" y="459.01">2000</text>
<text x="323.9" y="437.87">4000</text>
<text x="323.9" y="416.73">6000</text>
<text x="323.9" y="395.59">8000</text>
</g>
<g font-size="9.7" fill="#000" stroke="#000" stroke-width="0.25" text-anchor="middle">
<text x="35.10" y="486.6">20</text>
<text x="68.76" y="486.6">30</text>
<text x="102.42" y="486.6">40</text>
<text x="136.08" y="486.6">50</text>
<text x="169.74" y="486.6">60</text>
<text x="203.40" y="486.6">70</text>
<text x="237.06" y="486.6">80</text>
<text x="270.72" y="486.6">90</text>
<text x="327.60" y="487.5">20</text>
<text x="361.10" y="487.5">30</text>
<text x="394.60" y="487.5">40</text>
<text x="428.10" y="487.5">50</text>
<text x="461.60" y="487.5">60</text>
<text x="495.10" y="487.5">70</text>
<text x="528.60" y="487.5">80</text>
<text x="562.10" y="487.5">90</text>
<text x="595.60" y="487.5">100</text>
</g>
<g font-size="11.2" fill="#000" stroke="#000" stroke-width="0.15" text-anchor="middle">
<text x="168.6" y="505.3" font-size="11">2θ (degree)</text>
<text x="461.5" y="506.1">2θ (degree)</text>
</g>
<g font-size="10.9" fill="#000" stroke="#000" stroke-width="0.15" text-anchor="middle">
<text transform="translate(7.4,44.40) rotate(-90)">Intensity</text>
<text transform="translate(7.4,139.40) rotate(-90)">Intensity</text>
<text transform="translate(7.4,234.85) rotate(-90)">Intensity</text>
<text transform="translate(7.4,329.90) rotate(-90)">Intensity</text>
<text transform="translate(7.4,424.80) rotate(-90)">Intensity</text>
</g>
<rect x="261.90" y="7.20" width="36.20" height="14.40" fill="#fff" stroke="#a8a8a8" stroke-width="0.8"/>
<line x1="262.90" y1="14.20" x2="282.80" y2="14.20" stroke="#ff1a1a" stroke-width="0.85"/>
<text x="286.40" y="17.30" font-size="12" fill="#000" stroke="#000" stroke-width="0.12">S<tspan font-size="8.3" dy="3.0" stroke-width="0.1">6</tspan></text>
<rect x="262.10" y="102.60" width="36.30" height="14.70" fill="#fff" stroke="#a8a8a8" stroke-width="0.8"/>
<line x1="265.30" y1="109.50" x2="284.20" y2="109.50" stroke="#118811" stroke-width="0.85"/>
<text x="287.20" y="112.70" font-size="12" fill="#000" stroke="#000" stroke-width="0.12">S<tspan font-size="8.3" dy="3.200000000000003" stroke-width="0.1">7</tspan></text>
<rect x="262.30" y="197.90" width="36.40" height="14.50" fill="#fff" stroke="#a8a8a8" stroke-width="0.8"/>
<line x1="264.20" y1="205.10" x2="285.10" y2="205.10" stroke="#1a1af0" stroke-width="0.85"/>
<text x="287.40" y="208.60" font-size="12" fill="#000" stroke="#000" stroke-width="0.12">S<tspan font-size="8.3" dy="3.4000000000000057" stroke-width="0.1">8</tspan></text>
<rect x="260.40" y="293.70" width="36.60" height="14.90" fill="#fff" stroke="#a8a8a8" stroke-width="0.8"/>
<line x1="263.30" y1="299.90" x2="282.10" y2="299.90" stroke="#ff18ee" stroke-width="0.85"/>
<text x="284.30" y="303.00" font-size="12" fill="#000" stroke="#000" stroke-width="0.12">S<tspan font-size="8.3" dy="3.1999999999999886" stroke-width="0.1">9</tspan></text>
<rect x="259.20" y="390.50" width="38.60" height="14.70" fill="#fff" stroke="#a8a8a8" stroke-width="0.8"/>
<line x1="259.40" y1="396.30" x2="279.50" y2="396.30" stroke="#1c1c1c" stroke-width="0.85"/>
<text x="282.50" y="399.50" font-size="12" fill="#000" stroke="#000" stroke-width="0.12">S<tspan font-size="8.3" dy="3.1999999999999886" stroke-width="0.1">10</tspan></text>
<rect x="546.40" y="3.30" width="43.00" height="17.40" fill="#fff" stroke="#a6a6a6" stroke-width="0.8"/>
<line x1="549.70" y1="11.30" x2="575.90" y2="11.30" stroke="#ff0000" stroke-width="1.05"/>
<text x="578.50" y="15.20" font-size="12" fill="#000" stroke="#000" stroke-width="0.12">S<tspan font-size="6.3" dy="3.4" stroke-width="0.1">5</tspan></text>
<rect x="544.30" y="98.30" width="42.40" height="17.90" fill="#fff" stroke="#a6a6a6" stroke-width="0.8"/>
<line x1="547.60" y1="106.55" x2="573.80" y2="106.55" stroke="#00ee00" stroke-width="1.05"/>
<text x="575.80" y="110.45" font-size="12" fill="#000" stroke="#000" stroke-width="0.12">S<tspan font-size="6.3" dy="3.4" stroke-width="0.1">4</tspan></text>
<rect x="545.40" y="193.40" width="43.10" height="17.50" fill="#fff" stroke="#a6a6a6" stroke-width="0.8"/>
<line x1="548.70" y1="201.45" x2="574.90" y2="201.45" stroke="#0000ff" stroke-width="1.05"/>
<text x="577.50" y="205.35" font-size="12" fill="#000" stroke="#000" stroke-width="0.12">S<tspan font-size="6.3" dy="3.4" stroke-width="0.1">3</tspan></text>
<rect x="545.40" y="288.30" width="42.60" height="17.90" fill="#fff" stroke="#a6a6a6" stroke-width="0.8"/>
<line x1="548.70" y1="296.55" x2="574.90" y2="296.55" stroke="#ff00ee" stroke-width="1.05"/>
<text x="577.50" y="300.45" font-size="12" fill="#000" stroke="#000" stroke-width="0.12">S<tspan font-size="6.3" dy="3.4" stroke-width="0.1">2</tspan></text>
<rect x="545.40" y="383.80" width="42.40" height="17.90" fill="#fff" stroke="#a6a6a6" stroke-width="0.8"/>
<line x1="548.70" y1="392.05" x2="574.90" y2="392.05" stroke="#000000" stroke-width="1.05"/>
<text x="577.50" y="395.95" font-size="12" fill="#000" stroke="#000" stroke-width="0.12">S<tspan font-size="6.3" dy="3.4" stroke-width="0.1">1</tspan></text>
<text transform="translate(53.60,68.60) rotate(-90)" font-size="8.6" font-weight="bold" fill="#a000b0" stroke="#a000b0" stroke-width="0.3">TiO<tspan font-size="5.7" dy="2.2">2</tspan><tspan dy="-2.2">- 101</tspan></text>
<text transform="translate(74.00,36.50) rotate(-90)" font-size="8.0" font-weight="bold" fill="#1414ff" stroke="#1414ff" stroke-width="0.3">ZnO- 100</text>
<text transform="translate(86.70,65.80) rotate(-90)" font-size="8.0" font-weight="bold" fill="#1414ff" stroke="#1414ff" stroke-width="0.3">ZnO- 002</text>
<text transform="translate(93.30,44.40) rotate(-90)" font-size="8.0" font-weight="bold" fill="#1414ff" stroke="#1414ff" stroke-width="0.3">ZnO- 101</text>
<text transform="translate(131.70,77.20) rotate(-90)" font-size="8.6" font-weight="bold" fill="#a000b0" stroke="#a000b0" stroke-width="0.3">TiO<tspan font-size="5.7" dy="2.2">2</tspan><tspan dy="-2.2">- 200</tspan></text>
<text transform="translate(162.00,62.30) rotate(-90)" font-size="8.0" font-weight="bold" fill="#1414ff" stroke="#1414ff" stroke-width="0.3">ZnO- 110</text>
<text transform="translate(180.00,81.50) rotate(-90)" font-size="8.0" font-weight="bold" fill="#1414ff" stroke="#1414ff" stroke-width="0.3">ZnO- 103</text>
<text transform="translate(199.10,81.50) rotate(-90)" font-size="8.0" font-weight="bold" fill="#1414ff" stroke="#1414ff" stroke-width="0.3">ZnO- 201</text>
<text transform="translate(55.00,447.50) rotate(-90)" font-size="8.6" font-weight="bold" fill="#a000b0" stroke="#a000b0" stroke-width="0.3">TiO<tspan font-size="5.7" dy="2.2">2</tspan><tspan dy="-2.2">- 101</tspan></text>
<text transform="translate(72.40,419.90) rotate(-90)" font-size="8.0" font-weight="bold" fill="#1414ff" stroke="#1414ff" stroke-width="0.3">ZnO- 100</text>
<text transform="translate(87.20,428.60) rotate(-90)" font-size="8.8" font-weight="bold" fill="#1414ff" stroke="#1414ff" stroke-width="0.3">ZnO- 002</text>
<text transform="translate(98.30,418.40) rotate(-90)" font-size="8.0" font-weight="bold" fill="#1414ff" stroke="#1414ff" stroke-width="0.3">ZnO- 101</text>
<text transform="translate(98.90,456.60) rotate(-90)" font-size="8.0" font-weight="bold" fill="#1414ff" stroke="#1414ff" stroke-width="0.3">ZnO- 112</text>
<text transform="translate(129.00,457.70) rotate(-90)" font-size="8.6" font-weight="bold" fill="#a000b0" stroke="#a000b0" stroke-width="0.3">TiO<tspan font-size="5.7" dy="2.2">2</tspan><tspan dy="-2.2">- 200</tspan></text>
<text transform="translate(162.10,442.30) rotate(-90)" font-size="8.0" font-weight="bold" fill="#1414ff" stroke="#1414ff" stroke-width="0.3">ZnO- 110</text>
<text transform="translate(182.90,460.20) rotate(-90)" font-size="8.0" font-weight="bold" fill="#1414ff" stroke="#1414ff" stroke-width="0.3">ZnO- 103</text>
<text transform="translate(199.10,456.80) rotate(-90)" font-size="8.0" font-weight="bold" fill="#1414ff" stroke="#1414ff" stroke-width="0.3">ZnO- 201</text>
<text transform="translate(342.90,41.90) rotate(-90)" font-size="8.0" font-weight="bold" fill="#0a0a0a" stroke="#0a0a0a" stroke-width="0.3">TiO<tspan font-size="5.3" dy="2.2">2</tspan><tspan dy="-2.2">(101)</tspan></text>
<text transform="translate(365.10,44.80) rotate(-90)" font-size="8.0" font-weight="bold" fill="#0a0a0a" stroke="#0a0a0a" stroke-width="0.3">ZnO(100)</text>
<text transform="translate(377.80,74.90) rotate(-90)" font-size="8.0" font-weight="bold" fill="#0a0a0a" stroke="#0a0a0a" stroke-width="0.3">ZnO(002)</text>
<text transform="translate(384.80,45.60) rotate(-90)" font-size="8.0" font-weight="bold" fill="#0a0a0a" stroke="#0a0a0a" stroke-width="0.3">ZnO(101)</text>
<text transform="translate(392.80,80.20) rotate(-90)" font-size="8.0" font-weight="bold" fill="#0a0a0a" stroke="#0a0a0a" stroke-width="0.3">ZnO(112)</text>
<text transform="translate(424.00,75.30) rotate(-90)" font-size="8.0" font-weight="bold" fill="#0a0a0a" stroke="#0a0a0a" stroke-width="0.3">TiO<tspan font-size="5.3" dy="2.2">2</tspan><tspan dy="-2.2">(200)</tspan></text>
<text transform="translate(443.90,81.70) rotate(-90)" font-size="8.0" font-weight="bold" fill="#0a0a0a" stroke="#0a0a0a" stroke-width="0.3">TiO<tspan font-size="5.3" dy="2.2">2</tspan><tspan dy="-2.2">(211)</tspan></text>
<text transform="translate(452.60,59.30) rotate(-90)" font-size="8.0" font-weight="bold" fill="#0a0a0a" stroke="#0a0a0a" stroke-width="0.3">ZnO(110)</text>
<text transform="translate(472.00,81.00) rotate(-90)" font-size="8.0" font-weight="bold" fill="#0a0a0a" stroke="#0a0a0a" stroke-width="0.3">ZnO(103)</text>
<text transform="translate(489.10,82.20) rotate(-90)" font-size="8.0" font-weight="bold" fill="#0a0a0a" stroke="#0a0a0a" stroke-width="0.3">ZnO(201)</text>
<text transform="translate(342.80,424.20) rotate(-90)" font-size="8.0" font-weight="bold" fill="#0a0a0a" stroke="#0a0a0a" stroke-width="0.3">TiO<tspan font-size="5.3" dy="2.2">2</tspan><tspan dy="-2.2">(101)</tspan></text>
<text transform="translate(364.80,446.40) rotate(-90)" font-size="8.0" font-weight="bold" fill="#0a0a0a" stroke="#0a0a0a" stroke-width="0.3">ZnO(100)</text>
<line x1="365.5" y1="413.4" x2="365.5" y2="446.5" stroke="#333" stroke-width="0.6"/>
<text transform="translate(377.60,456.80) rotate(-90)" font-size="8.0" font-weight="bold" fill="#0a0a0a" stroke="#0a0a0a" stroke-width="0.3">ZnO(002)</text>
<text transform="translate(386.10,438.60) rotate(-90)" font-size="8.0" font-weight="bold" fill="#0a0a0a" stroke="#0a0a0a" stroke-width="0.3">ZnO(101)</text>
<text transform="translate(393.80,461.20) rotate(-90)" font-size="8.0" font-weight="bold" fill="#0a0a0a" stroke="#0a0a0a" stroke-width="0.3">ZnO(112)</text>
<text transform="translate(426.00,454.80) rotate(-90)" font-size="8.0" font-weight="bold" fill="#0a0a0a" stroke="#0a0a0a" stroke-width="0.3">TiO<tspan font-size="5.3" dy="2.2">2</tspan><tspan dy="-2.2">(200)</tspan></text>
<text transform="translate(446.40,460.20) rotate(-90)" font-size="8.0" font-weight="bold" fill="#0a0a0a" stroke="#0a0a0a" stroke-width="0.3">TiO<tspan font-size="5.3" dy="2.2">2</tspan><tspan dy="-2.2">(211)</tspan></text>
<text transform="translate(454.30,443.50) rotate(-90)" font-size="8.0" font-weight="bold" fill="#0a0a0a" stroke="#0a0a0a" stroke-width="0.3">ZnO(110)</text>
<text transform="translate(474.50,461.70) rotate(-90)" font-size="8.0" font-weight="bold" fill="#0a0a0a" stroke="#0a0a0a" stroke-width="0.3">ZnO(103)</text>
<text transform="translate(492.40,463.50) rotate(-90)" font-size="8.0" font-weight="bold" fill="#0a0a0a" stroke="#0a0a0a" stroke-width="0.3">ZnO(201)</text>
</g>
</svg>
</body></html>
